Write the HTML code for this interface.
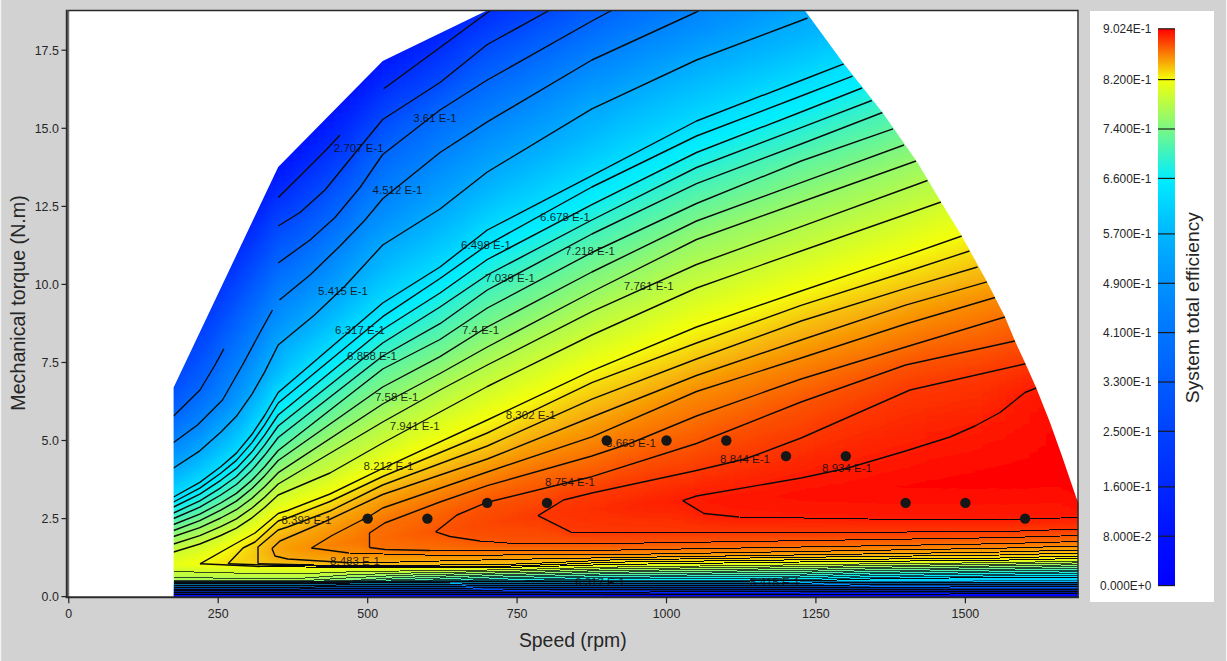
<!DOCTYPE html><html><head><meta charset="utf-8"><title>Efficiency map</title><style>html,body{margin:0;padding:0;background:#d2d2d2}svg{display:block}text{font-family:"Liberation Sans",sans-serif}</style></head><body>
<svg width="1227" height="661" viewBox="0 0 1227 661">
<defs><linearGradient id="g0" gradientUnits="userSpaceOnUse" x1="0" y1="4" x2="0" y2="600"><stop offset="0.0000" stop-color="#0014ff"/><stop offset="0.1896" stop-color="#0014ff"/><stop offset="0.4027" stop-color="#0032ff"/><stop offset="0.6460" stop-color="#004cff"/><stop offset="0.6544" stop-color="#0053ff"/><stop offset="0.6862" stop-color="#0062ff"/><stop offset="0.6879" stop-color="#0066ff"/><stop offset="0.6946" stop-color="#0066ff"/><stop offset="0.6963" stop-color="#006bff"/><stop offset="0.7013" stop-color="#006bff"/><stop offset="0.7030" stop-color="#0070ff"/><stop offset="0.7097" stop-color="#0070ff"/><stop offset="0.7114" stop-color="#0075ff"/><stop offset="0.7164" stop-color="#0075ff"/><stop offset="0.7181" stop-color="#007aff"/><stop offset="0.7232" stop-color="#007aff"/><stop offset="0.7248" stop-color="#007fff"/><stop offset="0.7315" stop-color="#007fff"/><stop offset="0.7332" stop-color="#0084ff"/><stop offset="0.7450" stop-color="#008aff"/><stop offset="0.7466" stop-color="#008fff"/><stop offset="0.7534" stop-color="#008fff"/><stop offset="0.7550" stop-color="#0095ff"/><stop offset="0.7601" stop-color="#0095ff"/><stop offset="0.7617" stop-color="#009cff"/><stop offset="0.7668" stop-color="#009cff"/><stop offset="0.7685" stop-color="#00a2ff"/><stop offset="0.7735" stop-color="#00a2ff"/><stop offset="0.7752" stop-color="#00a9ff"/><stop offset="0.7819" stop-color="#00a9ff"/><stop offset="0.7836" stop-color="#00afff"/><stop offset="0.7953" stop-color="#00b5ff"/><stop offset="0.7970" stop-color="#00bcff"/><stop offset="0.8020" stop-color="#00bcff"/><stop offset="0.8037" stop-color="#00c4ff"/><stop offset="0.8087" stop-color="#00c4ff"/><stop offset="0.8104" stop-color="#00ccff"/><stop offset="0.8154" stop-color="#00ccff"/><stop offset="0.8171" stop-color="#00d4ff"/><stop offset="0.8221" stop-color="#00d4ff"/><stop offset="0.8238" stop-color="#00dcff"/><stop offset="0.8305" stop-color="#00dcff"/><stop offset="0.8322" stop-color="#00e6ff"/><stop offset="0.8389" stop-color="#00e8ff"/><stop offset="0.8406" stop-color="#03eefc"/><stop offset="0.8423" stop-color="#03eefc"/><stop offset="0.8440" stop-color="#0ceff3"/><stop offset="0.8456" stop-color="#0ceff3"/><stop offset="0.8473" stop-color="#1af0e5"/><stop offset="0.8507" stop-color="#1af0e5"/><stop offset="0.8523" stop-color="#27f1d7"/><stop offset="0.8557" stop-color="#27f1d7"/><stop offset="0.8574" stop-color="#31f2ce"/><stop offset="0.8591" stop-color="#31f2ce"/><stop offset="0.8607" stop-color="#43f3bc"/><stop offset="0.8691" stop-color="#47f3b7"/><stop offset="0.8708" stop-color="#5ef5a0"/><stop offset="0.8758" stop-color="#5ef5a0"/><stop offset="0.8775" stop-color="#71f68d"/><stop offset="0.8809" stop-color="#71f68d"/><stop offset="0.8826" stop-color="#7af784"/><stop offset="0.8859" stop-color="#7af784"/><stop offset="0.8876" stop-color="#83f87b"/><stop offset="0.8909" stop-color="#83f87b"/><stop offset="0.8926" stop-color="#95f969"/><stop offset="0.8993" stop-color="#95f969"/><stop offset="0.9010" stop-color="#a8fa56"/><stop offset="0.9044" stop-color="#a8fa56"/><stop offset="0.9060" stop-color="#b1fb4d"/><stop offset="0.9077" stop-color="#b1fb4d"/><stop offset="0.9094" stop-color="#bafb44"/><stop offset="0.9144" stop-color="#bafb44"/><stop offset="0.9161" stop-color="#cdfc31"/><stop offset="0.9228" stop-color="#cdfc31"/><stop offset="0.9245" stop-color="#d6fd28"/><stop offset="0.9295" stop-color="#d6fd28"/><stop offset="0.9312" stop-color="#dffe1f"/><stop offset="0.9362" stop-color="#dffe1f"/><stop offset="0.9379" stop-color="#e8fe16"/><stop offset="0.9413" stop-color="#e8fe16"/><stop offset="0.9664" stop-color="#a6fa58"/><stop offset="0.9681" stop-color="#8df871"/><stop offset="0.9698" stop-color="#42f3bd"/><stop offset="0.9715" stop-color="#00eaff"/><stop offset="0.9748" stop-color="#00b0ff"/><stop offset="0.9765" stop-color="#0099ff"/><stop offset="0.9849" stop-color="#0045ff"/><stop offset="0.9899" stop-color="#001aff"/><stop offset="0.9933" stop-color="#0003ff"/><stop offset="1.0000" stop-color="#0000ff"/></linearGradient><linearGradient id="g1" gradientUnits="userSpaceOnUse" x1="0" y1="4" x2="0" y2="600"><stop offset="0.0000" stop-color="#0014ff"/><stop offset="0.1963" stop-color="#0014ff"/><stop offset="0.4161" stop-color="#0033ff"/><stop offset="0.6275" stop-color="#0049ff"/><stop offset="0.6879" stop-color="#0068ff"/><stop offset="0.7483" stop-color="#0091ff"/><stop offset="0.7903" stop-color="#00b7ff"/><stop offset="0.8356" stop-color="#00edff"/><stop offset="0.8909" stop-color="#95f969"/><stop offset="0.9178" stop-color="#cdfc31"/><stop offset="0.9413" stop-color="#eafe14"/><stop offset="0.9664" stop-color="#a6fa58"/><stop offset="0.9681" stop-color="#8df871"/><stop offset="0.9698" stop-color="#42f3bd"/><stop offset="0.9715" stop-color="#00eaff"/><stop offset="0.9748" stop-color="#00b0ff"/><stop offset="0.9765" stop-color="#0099ff"/><stop offset="0.9849" stop-color="#0045ff"/><stop offset="0.9899" stop-color="#001aff"/><stop offset="0.9933" stop-color="#0003ff"/><stop offset="1.0000" stop-color="#0000ff"/></linearGradient><linearGradient id="g2" gradientUnits="userSpaceOnUse" x1="0" y1="4" x2="0" y2="600"><stop offset="0.0000" stop-color="#0013ff"/><stop offset="0.2030" stop-color="#0014ff"/><stop offset="0.4228" stop-color="#0033ff"/><stop offset="0.6007" stop-color="#0046ff"/><stop offset="0.6896" stop-color="#0070ff"/><stop offset="0.7399" stop-color="#0092ff"/><stop offset="0.7819" stop-color="#00b7ff"/><stop offset="0.8289" stop-color="#00edff"/><stop offset="0.8876" stop-color="#98f966"/><stop offset="0.9128" stop-color="#ccfc32"/><stop offset="0.9396" stop-color="#eeff10"/><stop offset="0.9413" stop-color="#ecfe12"/><stop offset="0.9664" stop-color="#a6fa58"/><stop offset="0.9681" stop-color="#8df871"/><stop offset="0.9698" stop-color="#42f3bd"/><stop offset="0.9715" stop-color="#00eaff"/><stop offset="0.9748" stop-color="#00b0ff"/><stop offset="0.9765" stop-color="#0099ff"/><stop offset="0.9849" stop-color="#0045ff"/><stop offset="0.9899" stop-color="#001aff"/><stop offset="0.9933" stop-color="#0003ff"/><stop offset="1.0000" stop-color="#0000ff"/></linearGradient><linearGradient id="g3" gradientUnits="userSpaceOnUse" x1="0" y1="4" x2="0" y2="600"><stop offset="0.0000" stop-color="#0013ff"/><stop offset="0.2097" stop-color="#0014ff"/><stop offset="0.4295" stop-color="#0033ff"/><stop offset="0.5705" stop-color="#0041ff"/><stop offset="0.6409" stop-color="#005eff"/><stop offset="0.7097" stop-color="#0084ff"/><stop offset="0.7735" stop-color="#00b7ff"/><stop offset="0.8221" stop-color="#00edff"/><stop offset="0.8826" stop-color="#97f967"/><stop offset="0.9094" stop-color="#cdfc31"/><stop offset="0.9396" stop-color="#f3ff0b"/><stop offset="0.9664" stop-color="#a7fa57"/><stop offset="0.9681" stop-color="#8df871"/><stop offset="0.9698" stop-color="#42f3bd"/><stop offset="0.9715" stop-color="#00eaff"/><stop offset="0.9748" stop-color="#00b0ff"/><stop offset="0.9765" stop-color="#0099ff"/><stop offset="0.9849" stop-color="#0045ff"/><stop offset="0.9899" stop-color="#001aff"/><stop offset="0.9933" stop-color="#0003ff"/><stop offset="1.0000" stop-color="#0000ff"/></linearGradient><linearGradient id="g4" gradientUnits="userSpaceOnUse" x1="0" y1="4" x2="0" y2="600"><stop offset="0.0000" stop-color="#0013ff"/><stop offset="0.2164" stop-color="#0014ff"/><stop offset="0.4279" stop-color="#0032ff"/><stop offset="0.5436" stop-color="#003eff"/><stop offset="0.6493" stop-color="#0069ff"/><stop offset="0.7131" stop-color="#008dff"/><stop offset="0.7634" stop-color="#00b6ff"/><stop offset="0.8154" stop-color="#00eeff"/><stop offset="0.8775" stop-color="#97f967"/><stop offset="0.9044" stop-color="#ccfc32"/><stop offset="0.9346" stop-color="#f3ff0b"/><stop offset="0.9379" stop-color="#f4fb0a"/><stop offset="0.9413" stop-color="#f0ff0e"/><stop offset="0.9664" stop-color="#a7fa57"/><stop offset="0.9681" stop-color="#8df871"/><stop offset="0.9698" stop-color="#42f3bd"/><stop offset="0.9715" stop-color="#00eaff"/><stop offset="0.9748" stop-color="#00b0ff"/><stop offset="0.9765" stop-color="#0099ff"/><stop offset="0.9849" stop-color="#0045ff"/><stop offset="0.9899" stop-color="#001aff"/><stop offset="0.9933" stop-color="#0003ff"/><stop offset="1.0000" stop-color="#0000ff"/></linearGradient><linearGradient id="g5" gradientUnits="userSpaceOnUse" x1="0" y1="4" x2="0" y2="600"><stop offset="0.0000" stop-color="#0013ff"/><stop offset="0.2215" stop-color="#0014ff"/><stop offset="0.5151" stop-color="#003aff"/><stop offset="0.6510" stop-color="#0072ff"/><stop offset="0.6862" stop-color="#0085ff"/><stop offset="0.7534" stop-color="#00b7ff"/><stop offset="0.8054" stop-color="#00edff"/><stop offset="0.8708" stop-color="#96f968"/><stop offset="0.8993" stop-color="#cdfc31"/><stop offset="0.9279" stop-color="#f3ff0b"/><stop offset="0.9396" stop-color="#f4f70a"/><stop offset="0.9413" stop-color="#f2ff0c"/><stop offset="0.9664" stop-color="#a7fa57"/><stop offset="0.9681" stop-color="#8df871"/><stop offset="0.9698" stop-color="#42f3bd"/><stop offset="0.9715" stop-color="#00eaff"/><stop offset="0.9748" stop-color="#00b0ff"/><stop offset="0.9765" stop-color="#0099ff"/><stop offset="0.9849" stop-color="#0045ff"/><stop offset="0.9899" stop-color="#001aff"/><stop offset="0.9933" stop-color="#0003ff"/><stop offset="1.0000" stop-color="#0000ff"/></linearGradient><linearGradient id="g6" gradientUnits="userSpaceOnUse" x1="0" y1="4" x2="0" y2="600"><stop offset="0.0000" stop-color="#0013ff"/><stop offset="0.2282" stop-color="#0014ff"/><stop offset="0.4849" stop-color="#0036ff"/><stop offset="0.6711" stop-color="#0084ff"/><stop offset="0.7416" stop-color="#00b7ff"/><stop offset="0.7970" stop-color="#00eeff"/><stop offset="0.8641" stop-color="#95f969"/><stop offset="0.8943" stop-color="#cefc30"/><stop offset="0.9211" stop-color="#f4fe0a"/><stop offset="0.9379" stop-color="#f5eb09"/><stop offset="0.9396" stop-color="#f5ee09"/><stop offset="0.9413" stop-color="#f4ff0a"/><stop offset="0.9664" stop-color="#a7fa57"/><stop offset="0.9681" stop-color="#8df871"/><stop offset="0.9698" stop-color="#42f3bd"/><stop offset="0.9715" stop-color="#00eaff"/><stop offset="0.9748" stop-color="#00b0ff"/><stop offset="0.9765" stop-color="#0099ff"/><stop offset="0.9849" stop-color="#0045ff"/><stop offset="0.9899" stop-color="#001aff"/><stop offset="0.9933" stop-color="#0003ff"/><stop offset="1.0000" stop-color="#0000ff"/></linearGradient><linearGradient id="g7" gradientUnits="userSpaceOnUse" x1="0" y1="4" x2="0" y2="600"><stop offset="0.0000" stop-color="#0013ff"/><stop offset="0.2349" stop-color="#0014ff"/><stop offset="0.4581" stop-color="#0033ff"/><stop offset="0.5721" stop-color="#0066ff"/><stop offset="0.6711" stop-color="#008cff"/><stop offset="0.7299" stop-color="#00b7ff"/><stop offset="0.7869" stop-color="#00eeff"/><stop offset="0.8574" stop-color="#95f969"/><stop offset="0.8926" stop-color="#d5fd29"/><stop offset="0.9128" stop-color="#f3ff0b"/><stop offset="0.9379" stop-color="#f5e209"/><stop offset="0.9396" stop-color="#f5e609"/><stop offset="0.9413" stop-color="#f4fc0a"/><stop offset="0.9430" stop-color="#f0ff0e"/><stop offset="0.9664" stop-color="#a7fa57"/><stop offset="0.9681" stop-color="#8df871"/><stop offset="0.9698" stop-color="#42f3bd"/><stop offset="0.9715" stop-color="#00eaff"/><stop offset="0.9748" stop-color="#00b0ff"/><stop offset="0.9765" stop-color="#0099ff"/><stop offset="0.9849" stop-color="#0045ff"/><stop offset="0.9899" stop-color="#001aff"/><stop offset="0.9933" stop-color="#0003ff"/><stop offset="1.0000" stop-color="#0000ff"/></linearGradient><linearGradient id="g8" gradientUnits="userSpaceOnUse" x1="0" y1="4" x2="0" y2="600"><stop offset="0.0000" stop-color="#0013ff"/><stop offset="0.2416" stop-color="#0014ff"/><stop offset="0.4295" stop-color="#002eff"/><stop offset="0.5520" stop-color="#0066ff"/><stop offset="0.6628" stop-color="#0092ff"/><stop offset="0.7148" stop-color="#00b6ff"/><stop offset="0.7752" stop-color="#00edff"/><stop offset="0.7768" stop-color="#00eeff"/><stop offset="0.8523" stop-color="#99f965"/><stop offset="0.9044" stop-color="#f2ff0c"/><stop offset="0.9195" stop-color="#f5e909"/><stop offset="0.9362" stop-color="#f6da09"/><stop offset="0.9379" stop-color="#f5dc09"/><stop offset="0.9430" stop-color="#f2ff0c"/><stop offset="0.9664" stop-color="#a7fa57"/><stop offset="0.9681" stop-color="#8df871"/><stop offset="0.9698" stop-color="#42f3bd"/><stop offset="0.9715" stop-color="#00eaff"/><stop offset="0.9748" stop-color="#00b0ff"/><stop offset="0.9765" stop-color="#0099ff"/><stop offset="0.9849" stop-color="#0045ff"/><stop offset="0.9899" stop-color="#001aff"/><stop offset="0.9933" stop-color="#0003ff"/><stop offset="1.0000" stop-color="#0000ff"/></linearGradient><linearGradient id="g9" gradientUnits="userSpaceOnUse" x1="0" y1="4" x2="0" y2="600"><stop offset="0.0000" stop-color="#0014ff"/><stop offset="0.2483" stop-color="#0014ff"/><stop offset="0.4027" stop-color="#002bff"/><stop offset="0.5302" stop-color="#0066ff"/><stop offset="0.6443" stop-color="#0094ff"/><stop offset="0.6997" stop-color="#00b6ff"/><stop offset="0.7634" stop-color="#00eeff"/><stop offset="0.8406" stop-color="#94f96a"/><stop offset="0.8725" stop-color="#cbfc33"/><stop offset="0.8977" stop-color="#f3ff0b"/><stop offset="0.9144" stop-color="#f5e009"/><stop offset="0.9329" stop-color="#f6d308"/><stop offset="0.9396" stop-color="#f5df09"/><stop offset="0.9430" stop-color="#f4ff0a"/><stop offset="0.9664" stop-color="#a7fa57"/><stop offset="0.9681" stop-color="#8df871"/><stop offset="0.9698" stop-color="#42f3bd"/><stop offset="0.9715" stop-color="#00eaff"/><stop offset="0.9748" stop-color="#00b0ff"/><stop offset="0.9765" stop-color="#0099ff"/><stop offset="0.9849" stop-color="#0045ff"/><stop offset="0.9899" stop-color="#001aff"/><stop offset="0.9933" stop-color="#0003ff"/><stop offset="1.0000" stop-color="#0000ff"/></linearGradient><linearGradient id="g10" gradientUnits="userSpaceOnUse" x1="0" y1="4" x2="0" y2="600"><stop offset="0.0000" stop-color="#0014ff"/><stop offset="0.2534" stop-color="#0014ff"/><stop offset="0.3725" stop-color="#0025ff"/><stop offset="0.5084" stop-color="#0066ff"/><stop offset="0.6158" stop-color="#0092ff"/><stop offset="0.6527" stop-color="#00a5ff"/><stop offset="0.6812" stop-color="#00b7ff"/><stop offset="0.7483" stop-color="#00eeff"/><stop offset="0.8356" stop-color="#9cf962"/><stop offset="0.8641" stop-color="#ccfc32"/><stop offset="0.8909" stop-color="#f4ff0a"/><stop offset="0.9111" stop-color="#f6d909"/><stop offset="0.9295" stop-color="#f6cb08"/><stop offset="0.9396" stop-color="#f5de09"/><stop offset="0.9413" stop-color="#f5e809"/><stop offset="0.9430" stop-color="#f4fa0a"/><stop offset="0.9446" stop-color="#f0ff0e"/><stop offset="0.9664" stop-color="#a7fa57"/><stop offset="0.9681" stop-color="#8df871"/><stop offset="0.9698" stop-color="#42f3bd"/><stop offset="0.9715" stop-color="#00eaff"/><stop offset="0.9748" stop-color="#00b0ff"/><stop offset="0.9765" stop-color="#0099ff"/><stop offset="0.9849" stop-color="#0045ff"/><stop offset="0.9899" stop-color="#001aff"/><stop offset="0.9933" stop-color="#0003ff"/><stop offset="1.0000" stop-color="#0000ff"/></linearGradient><linearGradient id="g11" gradientUnits="userSpaceOnUse" x1="0" y1="4" x2="0" y2="600"><stop offset="0.0000" stop-color="#0014ff"/><stop offset="0.2601" stop-color="#0014ff"/><stop offset="0.3440" stop-color="#0020ff"/><stop offset="0.4782" stop-color="#0062ff"/><stop offset="0.5923" stop-color="#0092ff"/><stop offset="0.6376" stop-color="#00a9ff"/><stop offset="0.6611" stop-color="#00b7ff"/><stop offset="0.7299" stop-color="#00edff"/><stop offset="0.8540" stop-color="#cdfc31"/><stop offset="0.8809" stop-color="#f2ff0c"/><stop offset="0.9111" stop-color="#f7c308"/><stop offset="0.9379" stop-color="#f7c308"/><stop offset="0.9396" stop-color="#f6c808"/><stop offset="0.9430" stop-color="#f4f40a"/><stop offset="0.9446" stop-color="#f2ff0c"/><stop offset="0.9664" stop-color="#a7fa57"/><stop offset="0.9681" stop-color="#8df871"/><stop offset="0.9698" stop-color="#42f3bd"/><stop offset="0.9715" stop-color="#00eaff"/><stop offset="0.9748" stop-color="#00b0ff"/><stop offset="0.9765" stop-color="#0099ff"/><stop offset="0.9849" stop-color="#0045ff"/><stop offset="0.9899" stop-color="#001aff"/><stop offset="0.9933" stop-color="#0003ff"/><stop offset="1.0000" stop-color="#0000ff"/></linearGradient><linearGradient id="g12" gradientUnits="userSpaceOnUse" x1="0" y1="4" x2="0" y2="600"><stop offset="0.0000" stop-color="#0014ff"/><stop offset="0.2668" stop-color="#0014ff"/><stop offset="0.3171" stop-color="#001cff"/><stop offset="0.3792" stop-color="#003cff"/><stop offset="0.6275" stop-color="#00b0ff"/><stop offset="0.7114" stop-color="#00edff"/><stop offset="0.7735" stop-color="#5ef5a0"/><stop offset="0.7886" stop-color="#79f785"/><stop offset="0.8423" stop-color="#ccfc32"/><stop offset="0.8708" stop-color="#f4ff0a"/><stop offset="0.8993" stop-color="#f7c408"/><stop offset="0.9195" stop-color="#f7b407"/><stop offset="0.9396" stop-color="#f7c408"/><stop offset="0.9430" stop-color="#f5f009"/><stop offset="0.9446" stop-color="#f3ff0b"/><stop offset="0.9664" stop-color="#a7fa57"/><stop offset="0.9681" stop-color="#8df871"/><stop offset="0.9698" stop-color="#42f3bd"/><stop offset="0.9715" stop-color="#00eaff"/><stop offset="0.9748" stop-color="#00b0ff"/><stop offset="0.9765" stop-color="#0099ff"/><stop offset="0.9849" stop-color="#0045ff"/><stop offset="0.9899" stop-color="#001aff"/><stop offset="0.9933" stop-color="#0003ff"/><stop offset="1.0000" stop-color="#0000ff"/></linearGradient><linearGradient id="g13" gradientUnits="userSpaceOnUse" x1="0" y1="4" x2="0" y2="600"><stop offset="0.0000" stop-color="#0014ff"/><stop offset="0.2869" stop-color="#0017ff"/><stop offset="0.3758" stop-color="#0045ff"/><stop offset="0.6174" stop-color="#00b5ff"/><stop offset="0.6628" stop-color="#00dcff"/><stop offset="0.6913" stop-color="#00eeff"/><stop offset="0.7567" stop-color="#5df5a1"/><stop offset="0.7735" stop-color="#79f785"/><stop offset="0.8305" stop-color="#cdfc31"/><stop offset="0.8591" stop-color="#f3ff0b"/><stop offset="0.8893" stop-color="#f7c208"/><stop offset="0.9094" stop-color="#f8a907"/><stop offset="0.9144" stop-color="#f8a607"/><stop offset="0.9279" stop-color="#f8ab07"/><stop offset="0.9396" stop-color="#f7c308"/><stop offset="0.9446" stop-color="#f4ff0a"/><stop offset="0.9664" stop-color="#a7fa57"/><stop offset="0.9681" stop-color="#8df871"/><stop offset="0.9698" stop-color="#42f3bd"/><stop offset="0.9715" stop-color="#00eaff"/><stop offset="0.9748" stop-color="#00b0ff"/><stop offset="0.9765" stop-color="#0099ff"/><stop offset="0.9849" stop-color="#0045ff"/><stop offset="0.9899" stop-color="#001aff"/><stop offset="0.9933" stop-color="#0003ff"/><stop offset="1.0000" stop-color="#0000ff"/></linearGradient><linearGradient id="g14" gradientUnits="userSpaceOnUse" x1="0" y1="4" x2="0" y2="600"><stop offset="0.0000" stop-color="#0015ff"/><stop offset="0.2668" stop-color="#0014ff"/><stop offset="0.3809" stop-color="#004fff"/><stop offset="0.4933" stop-color="#0084ff"/><stop offset="0.5336" stop-color="#0094ff"/><stop offset="0.5671" stop-color="#00a9ff"/><stop offset="0.6007" stop-color="#00b7ff"/><stop offset="0.6258" stop-color="#00c8ff"/><stop offset="0.6460" stop-color="#00dcff"/><stop offset="0.6745" stop-color="#00edff"/><stop offset="0.6795" stop-color="#04eefb"/><stop offset="0.8205" stop-color="#ccfc32"/><stop offset="0.8507" stop-color="#f2ff0c"/><stop offset="0.8809" stop-color="#f7c308"/><stop offset="0.8993" stop-color="#f8a807"/><stop offset="0.9128" stop-color="#f8a106"/><stop offset="0.9295" stop-color="#f8a907"/><stop offset="0.9396" stop-color="#f7c208"/><stop offset="0.9413" stop-color="#f6d208"/><stop offset="0.9446" stop-color="#f4fe0a"/><stop offset="0.9463" stop-color="#eeff10"/><stop offset="0.9664" stop-color="#a7fa57"/><stop offset="0.9681" stop-color="#8df871"/><stop offset="0.9698" stop-color="#42f3bd"/><stop offset="0.9715" stop-color="#00eaff"/><stop offset="0.9748" stop-color="#00b0ff"/><stop offset="0.9765" stop-color="#0099ff"/><stop offset="0.9849" stop-color="#0045ff"/><stop offset="0.9899" stop-color="#001aff"/><stop offset="0.9933" stop-color="#0003ff"/><stop offset="1.0000" stop-color="#0000ff"/></linearGradient><linearGradient id="g15" gradientUnits="userSpaceOnUse" x1="0" y1="4" x2="0" y2="600"><stop offset="0.0000" stop-color="#0015ff"/><stop offset="0.2534" stop-color="#0014ff"/><stop offset="0.5268" stop-color="#0098ff"/><stop offset="0.6023" stop-color="#00c3ff"/><stop offset="0.6359" stop-color="#00ddff"/><stop offset="0.6644" stop-color="#00eeff"/><stop offset="0.7517" stop-color="#79f785"/><stop offset="0.8456" stop-color="#f2ff0c"/><stop offset="0.8758" stop-color="#f7c408"/><stop offset="0.8926" stop-color="#f8a907"/><stop offset="0.9128" stop-color="#f89b06"/><stop offset="0.9312" stop-color="#f8a707"/><stop offset="0.9329" stop-color="#f8ac07"/><stop offset="0.9396" stop-color="#f7c108"/><stop offset="0.9413" stop-color="#f6cf08"/><stop offset="0.9446" stop-color="#f4fd0a"/><stop offset="0.9463" stop-color="#efff0f"/><stop offset="0.9664" stop-color="#a7fa57"/><stop offset="0.9681" stop-color="#8df871"/><stop offset="0.9698" stop-color="#42f3bd"/><stop offset="0.9715" stop-color="#00eaff"/><stop offset="0.9748" stop-color="#00b0ff"/><stop offset="0.9765" stop-color="#0099ff"/><stop offset="0.9849" stop-color="#0045ff"/><stop offset="0.9899" stop-color="#001aff"/><stop offset="0.9933" stop-color="#0003ff"/><stop offset="1.0000" stop-color="#0000ff"/></linearGradient><linearGradient id="g16" gradientUnits="userSpaceOnUse" x1="0" y1="4" x2="0" y2="600"><stop offset="0.0000" stop-color="#0015ff"/><stop offset="0.2399" stop-color="#0014ff"/><stop offset="0.5034" stop-color="#0092ff"/><stop offset="0.5688" stop-color="#00b6ff"/><stop offset="0.6527" stop-color="#00edff"/><stop offset="0.7433" stop-color="#7bf783"/><stop offset="0.8406" stop-color="#f3ff0b"/><stop offset="0.8557" stop-color="#f5df09"/><stop offset="0.8876" stop-color="#f8a807"/><stop offset="0.9128" stop-color="#f99506"/><stop offset="0.9329" stop-color="#f8aa07"/><stop offset="0.9396" stop-color="#f7bf08"/><stop offset="0.9413" stop-color="#f6ca08"/><stop offset="0.9446" stop-color="#f4fc0a"/><stop offset="0.9463" stop-color="#efff0f"/><stop offset="0.9664" stop-color="#a7fa57"/><stop offset="0.9681" stop-color="#8df871"/><stop offset="0.9698" stop-color="#42f3bd"/><stop offset="0.9715" stop-color="#00eaff"/><stop offset="0.9748" stop-color="#00b0ff"/><stop offset="0.9765" stop-color="#0099ff"/><stop offset="0.9849" stop-color="#0045ff"/><stop offset="0.9899" stop-color="#001aff"/><stop offset="0.9933" stop-color="#0003ff"/><stop offset="1.0000" stop-color="#0000ff"/></linearGradient><linearGradient id="g17" gradientUnits="userSpaceOnUse" x1="0" y1="4" x2="0" y2="600"><stop offset="0.0000" stop-color="#0015ff"/><stop offset="0.2265" stop-color="#0014ff"/><stop offset="0.4916" stop-color="#0092ff"/><stop offset="0.5587" stop-color="#00b6ff"/><stop offset="0.6124" stop-color="#00ddff"/><stop offset="0.6426" stop-color="#00eeff"/><stop offset="0.7332" stop-color="#7af784"/><stop offset="0.8356" stop-color="#f3ff0b"/><stop offset="0.8507" stop-color="#f5df09"/><stop offset="0.8826" stop-color="#f8a707"/><stop offset="0.9128" stop-color="#f99006"/><stop offset="0.9329" stop-color="#f8a707"/><stop offset="0.9346" stop-color="#f8ad07"/><stop offset="0.9413" stop-color="#f6c708"/><stop offset="0.9446" stop-color="#f4fb0a"/><stop offset="0.9463" stop-color="#f0ff0e"/><stop offset="0.9664" stop-color="#a3fa5b"/><stop offset="0.9681" stop-color="#88f876"/><stop offset="0.9698" stop-color="#3df3c1"/><stop offset="0.9715" stop-color="#00e9ff"/><stop offset="0.9748" stop-color="#00aeff"/><stop offset="0.9765" stop-color="#0098ff"/><stop offset="0.9849" stop-color="#0045ff"/><stop offset="0.9899" stop-color="#001aff"/><stop offset="0.9933" stop-color="#0003ff"/><stop offset="1.0000" stop-color="#0000ff"/></linearGradient><linearGradient id="g18" gradientUnits="userSpaceOnUse" x1="0" y1="4" x2="0" y2="600"><stop offset="0.0000" stop-color="#0015ff"/><stop offset="0.2114" stop-color="#0013ff"/><stop offset="0.4799" stop-color="#0092ff"/><stop offset="0.5470" stop-color="#00b6ff"/><stop offset="0.6007" stop-color="#00ddff"/><stop offset="0.6309" stop-color="#00eeff"/><stop offset="0.7248" stop-color="#7bf783"/><stop offset="0.7701" stop-color="#b1fb4d"/><stop offset="0.7987" stop-color="#cdfc31"/><stop offset="0.8305" stop-color="#f3ff0b"/><stop offset="0.8456" stop-color="#f5df09"/><stop offset="0.8758" stop-color="#f8a907"/><stop offset="0.9128" stop-color="#f98b05"/><stop offset="0.9346" stop-color="#f8aa07"/><stop offset="0.9413" stop-color="#f7c308"/><stop offset="0.9446" stop-color="#f4f90a"/><stop offset="0.9463" stop-color="#f0ff0e"/><stop offset="0.9664" stop-color="#9df961"/><stop offset="0.9681" stop-color="#81f77d"/><stop offset="0.9698" stop-color="#37f2c7"/><stop offset="0.9715" stop-color="#00e6ff"/><stop offset="0.9748" stop-color="#00adff"/><stop offset="0.9765" stop-color="#0097ff"/><stop offset="0.9849" stop-color="#0045ff"/><stop offset="0.9899" stop-color="#001aff"/><stop offset="0.9933" stop-color="#0003ff"/><stop offset="1.0000" stop-color="#0000ff"/></linearGradient><linearGradient id="g19" gradientUnits="userSpaceOnUse" x1="0" y1="4" x2="0" y2="600"><stop offset="0.0000" stop-color="#0016ff"/><stop offset="0.1980" stop-color="#0013ff"/><stop offset="0.4681" stop-color="#0092ff"/><stop offset="0.5352" stop-color="#00b6ff"/><stop offset="0.5889" stop-color="#00dcff"/><stop offset="0.6208" stop-color="#00eeff"/><stop offset="0.6695" stop-color="#42f3bc"/><stop offset="0.7148" stop-color="#7bf783"/><stop offset="0.7617" stop-color="#b1fb4d"/><stop offset="0.7919" stop-color="#ccfc32"/><stop offset="0.8255" stop-color="#f4ff0a"/><stop offset="0.8406" stop-color="#f5de09"/><stop offset="0.8708" stop-color="#f8a807"/><stop offset="0.9094" stop-color="#f98705"/><stop offset="0.9161" stop-color="#f98d06"/><stop offset="0.9346" stop-color="#f8a707"/><stop offset="0.9413" stop-color="#f7c308"/><stop offset="0.9446" stop-color="#f4f60a"/><stop offset="0.9463" stop-color="#f0ff0e"/><stop offset="0.9664" stop-color="#96f968"/><stop offset="0.9681" stop-color="#7bf783"/><stop offset="0.9698" stop-color="#31f2cd"/><stop offset="0.9715" stop-color="#00e4ff"/><stop offset="0.9748" stop-color="#00acff"/><stop offset="0.9765" stop-color="#0096ff"/><stop offset="0.9849" stop-color="#0044ff"/><stop offset="0.9899" stop-color="#0019ff"/><stop offset="0.9933" stop-color="#0003ff"/><stop offset="1.0000" stop-color="#0000ff"/></linearGradient><linearGradient id="g20" gradientUnits="userSpaceOnUse" x1="0" y1="4" x2="0" y2="600"><stop offset="0.0000" stop-color="#0016ff"/><stop offset="0.1846" stop-color="#0013ff"/><stop offset="0.4547" stop-color="#0092ff"/><stop offset="0.5235" stop-color="#00b6ff"/><stop offset="0.5772" stop-color="#00dcff"/><stop offset="0.6091" stop-color="#00eeff"/><stop offset="0.6594" stop-color="#43f3bc"/><stop offset="0.7047" stop-color="#7af784"/><stop offset="0.7534" stop-color="#b0fb4e"/><stop offset="0.7869" stop-color="#cdfc31"/><stop offset="0.8205" stop-color="#f4ff0a"/><stop offset="0.8356" stop-color="#f5de09"/><stop offset="0.8641" stop-color="#f8a807"/><stop offset="0.8926" stop-color="#f98d06"/><stop offset="0.9077" stop-color="#f98305"/><stop offset="0.9178" stop-color="#f98d06"/><stop offset="0.9362" stop-color="#f8ab07"/><stop offset="0.9413" stop-color="#f7c208"/><stop offset="0.9446" stop-color="#f4f40a"/><stop offset="0.9463" stop-color="#f0ff0e"/><stop offset="0.9664" stop-color="#90f86e"/><stop offset="0.9681" stop-color="#74f78a"/><stop offset="0.9698" stop-color="#2bf1d4"/><stop offset="0.9715" stop-color="#00e2ff"/><stop offset="0.9732" stop-color="#00c4ff"/><stop offset="0.9765" stop-color="#0095ff"/><stop offset="0.9849" stop-color="#0044ff"/><stop offset="0.9899" stop-color="#0019ff"/><stop offset="0.9933" stop-color="#0003ff"/><stop offset="1.0000" stop-color="#0000ff"/></linearGradient><linearGradient id="g21" gradientUnits="userSpaceOnUse" x1="0" y1="4" x2="0" y2="600"><stop offset="0.0000" stop-color="#0016ff"/><stop offset="0.1711" stop-color="#0014ff"/><stop offset="0.4413" stop-color="#0092ff"/><stop offset="0.5117" stop-color="#00b6ff"/><stop offset="0.5654" stop-color="#00dcff"/><stop offset="0.5973" stop-color="#00edff"/><stop offset="0.6695" stop-color="#5df5a2"/><stop offset="0.6946" stop-color="#79f785"/><stop offset="0.7450" stop-color="#b0fb4e"/><stop offset="0.7802" stop-color="#cefc30"/><stop offset="0.8138" stop-color="#f4ff0a"/><stop offset="0.8289" stop-color="#f5df09"/><stop offset="0.8591" stop-color="#f8a707"/><stop offset="0.8859" stop-color="#f98c06"/><stop offset="0.9060" stop-color="#fa7f05"/><stop offset="0.9195" stop-color="#f98d06"/><stop offset="0.9362" stop-color="#f8a707"/><stop offset="0.9413" stop-color="#f7c008"/><stop offset="0.9430" stop-color="#f6d608"/><stop offset="0.9446" stop-color="#f5f109"/><stop offset="0.9463" stop-color="#f0ff0e"/><stop offset="0.9664" stop-color="#8af874"/><stop offset="0.9681" stop-color="#6ef690"/><stop offset="0.9698" stop-color="#25f1da"/><stop offset="0.9715" stop-color="#00dfff"/><stop offset="0.9732" stop-color="#00c2ff"/><stop offset="0.9765" stop-color="#0093ff"/><stop offset="0.9849" stop-color="#0043ff"/><stop offset="0.9899" stop-color="#0019ff"/><stop offset="0.9933" stop-color="#0003ff"/><stop offset="1.0000" stop-color="#0000ff"/></linearGradient><linearGradient id="g22" gradientUnits="userSpaceOnUse" x1="0" y1="4" x2="0" y2="600"><stop offset="0.0000" stop-color="#0016ff"/><stop offset="0.1577" stop-color="#0014ff"/><stop offset="0.3540" stop-color="#006eff"/><stop offset="0.4983" stop-color="#00b6ff"/><stop offset="0.5537" stop-color="#00dcff"/><stop offset="0.5872" stop-color="#00eeff"/><stop offset="0.6611" stop-color="#5ff59f"/><stop offset="0.7366" stop-color="#b0fb4e"/><stop offset="0.7718" stop-color="#cdfc31"/><stop offset="0.8070" stop-color="#f4ff0a"/><stop offset="0.8221" stop-color="#f5df09"/><stop offset="0.8523" stop-color="#f8a707"/><stop offset="0.8792" stop-color="#f98c05"/><stop offset="0.9044" stop-color="#fa7b05"/><stop offset="0.9211" stop-color="#f98d06"/><stop offset="0.9362" stop-color="#f8a607"/><stop offset="0.9413" stop-color="#f7bf07"/><stop offset="0.9430" stop-color="#f6d308"/><stop offset="0.9446" stop-color="#f5ee09"/><stop offset="0.9463" stop-color="#f1ff0d"/><stop offset="0.9664" stop-color="#84f87a"/><stop offset="0.9681" stop-color="#67f697"/><stop offset="0.9698" stop-color="#1ff0e0"/><stop offset="0.9715" stop-color="#00ddff"/><stop offset="0.9732" stop-color="#00bfff"/><stop offset="0.9765" stop-color="#0092ff"/><stop offset="0.9849" stop-color="#0043ff"/><stop offset="0.9899" stop-color="#0019ff"/><stop offset="0.9933" stop-color="#0003ff"/><stop offset="1.0000" stop-color="#0000ff"/></linearGradient><linearGradient id="g23" gradientUnits="userSpaceOnUse" x1="0" y1="4" x2="0" y2="600"><stop offset="0.0000" stop-color="#0016ff"/><stop offset="0.1443" stop-color="#0014ff"/><stop offset="0.4866" stop-color="#00b6ff"/><stop offset="0.5419" stop-color="#00dcff"/><stop offset="0.5755" stop-color="#00edff"/><stop offset="0.6510" stop-color="#5ff59f"/><stop offset="0.7299" stop-color="#b1fb4d"/><stop offset="0.7634" stop-color="#ccfc32"/><stop offset="0.8003" stop-color="#f3ff0b"/><stop offset="0.8456" stop-color="#f8a807"/><stop offset="0.8725" stop-color="#f98c05"/><stop offset="0.9027" stop-color="#fa7705"/><stop offset="0.9211" stop-color="#f98b05"/><stop offset="0.9362" stop-color="#f8a606"/><stop offset="0.9379" stop-color="#f8ab07"/><stop offset="0.9413" stop-color="#f7bf07"/><stop offset="0.9430" stop-color="#f6d208"/><stop offset="0.9446" stop-color="#f5ed09"/><stop offset="0.9463" stop-color="#f1ff0d"/><stop offset="0.9664" stop-color="#7df781"/><stop offset="0.9681" stop-color="#61f59d"/><stop offset="0.9698" stop-color="#19f0e6"/><stop offset="0.9715" stop-color="#00dbff"/><stop offset="0.9732" stop-color="#00bdff"/><stop offset="0.9765" stop-color="#0091ff"/><stop offset="0.9849" stop-color="#0042ff"/><stop offset="0.9899" stop-color="#0019ff"/><stop offset="0.9933" stop-color="#0003ff"/><stop offset="1.0000" stop-color="#0000ff"/></linearGradient><linearGradient id="g24" gradientUnits="userSpaceOnUse" x1="0" y1="4" x2="0" y2="600"><stop offset="0.0000" stop-color="#0017ff"/><stop offset="0.1309" stop-color="#0015ff"/><stop offset="0.2483" stop-color="#004fff"/><stop offset="0.4715" stop-color="#00b5ff"/><stop offset="0.5319" stop-color="#00ddff"/><stop offset="0.5654" stop-color="#00eeff"/><stop offset="0.6393" stop-color="#5ef5a0"/><stop offset="0.7215" stop-color="#b1fb4d"/><stop offset="0.7567" stop-color="#cdfc31"/><stop offset="0.7936" stop-color="#f3ff0b"/><stop offset="0.8389" stop-color="#f8a807"/><stop offset="0.8792" stop-color="#fa7e05"/><stop offset="0.9010" stop-color="#fa7305"/><stop offset="0.9211" stop-color="#f98a05"/><stop offset="0.9362" stop-color="#f8a607"/><stop offset="0.9413" stop-color="#f7bf08"/><stop offset="0.9430" stop-color="#f6d208"/><stop offset="0.9446" stop-color="#f5eb09"/><stop offset="0.9463" stop-color="#f1ff0d"/><stop offset="0.9664" stop-color="#77f787"/><stop offset="0.9681" stop-color="#5bf5a4"/><stop offset="0.9698" stop-color="#13efec"/><stop offset="0.9715" stop-color="#00d8ff"/><stop offset="0.9732" stop-color="#00bbff"/><stop offset="0.9765" stop-color="#0090ff"/><stop offset="0.9849" stop-color="#0042ff"/><stop offset="0.9899" stop-color="#0018ff"/><stop offset="0.9933" stop-color="#0003ff"/><stop offset="1.0000" stop-color="#0000ff"/></linearGradient><linearGradient id="g25" gradientUnits="userSpaceOnUse" x1="0" y1="4" x2="0" y2="600"><stop offset="0.0000" stop-color="#0018ff"/><stop offset="0.1174" stop-color="#0015ff"/><stop offset="0.2483" stop-color="#0057ff"/><stop offset="0.4564" stop-color="#00b5ff"/><stop offset="0.5201" stop-color="#00dcff"/><stop offset="0.5537" stop-color="#00eeff"/><stop offset="0.6292" stop-color="#5ff5a0"/><stop offset="0.7131" stop-color="#b0fb4e"/><stop offset="0.7483" stop-color="#ccfc32"/><stop offset="0.7869" stop-color="#f3ff0b"/><stop offset="0.8339" stop-color="#f8a707"/><stop offset="0.8859" stop-color="#fa7104"/><stop offset="0.9111" stop-color="#fa7004"/><stop offset="0.9228" stop-color="#f98d06"/><stop offset="0.9362" stop-color="#f8a607"/><stop offset="0.9413" stop-color="#f7c008"/><stop offset="0.9430" stop-color="#f6d208"/><stop offset="0.9463" stop-color="#f2ff0c"/><stop offset="0.9664" stop-color="#71f68d"/><stop offset="0.9681" stop-color="#54f4aa"/><stop offset="0.9698" stop-color="#0deff2"/><stop offset="0.9715" stop-color="#00d6ff"/><stop offset="0.9732" stop-color="#00b9ff"/><stop offset="0.9765" stop-color="#008fff"/><stop offset="0.9849" stop-color="#0041ff"/><stop offset="0.9899" stop-color="#0018ff"/><stop offset="0.9933" stop-color="#0003ff"/><stop offset="1.0000" stop-color="#0000ff"/></linearGradient><linearGradient id="g26" gradientUnits="userSpaceOnUse" x1="0" y1="4" x2="0" y2="600"><stop offset="0.0000" stop-color="#001aff"/><stop offset="0.1040" stop-color="#0016ff"/><stop offset="0.2483" stop-color="#005fff"/><stop offset="0.3725" stop-color="#0092ff"/><stop offset="0.4128" stop-color="#00a9ff"/><stop offset="0.4480" stop-color="#00b6ff"/><stop offset="0.5084" stop-color="#00dcff"/><stop offset="0.5436" stop-color="#00eeff"/><stop offset="0.6191" stop-color="#5ff59f"/><stop offset="0.7064" stop-color="#b1fb4d"/><stop offset="0.7416" stop-color="#cdfc31"/><stop offset="0.7802" stop-color="#f3ff0b"/><stop offset="0.8272" stop-color="#f8a707"/><stop offset="0.8775" stop-color="#fa7004"/><stop offset="0.8977" stop-color="#fa6c04"/><stop offset="0.9144" stop-color="#fa7204"/><stop offset="0.9228" stop-color="#f98c05"/><stop offset="0.9362" stop-color="#f8a707"/><stop offset="0.9413" stop-color="#f7c008"/><stop offset="0.9430" stop-color="#f6d208"/><stop offset="0.9463" stop-color="#f2ff0c"/><stop offset="0.9664" stop-color="#6bf693"/><stop offset="0.9681" stop-color="#4ef4b1"/><stop offset="0.9698" stop-color="#07eef8"/><stop offset="0.9715" stop-color="#00d4ff"/><stop offset="0.9732" stop-color="#00b7ff"/><stop offset="0.9765" stop-color="#008eff"/><stop offset="0.9849" stop-color="#0041ff"/><stop offset="0.9899" stop-color="#0018ff"/><stop offset="0.9933" stop-color="#0003ff"/><stop offset="1.0000" stop-color="#0000ff"/></linearGradient><linearGradient id="g27" gradientUnits="userSpaceOnUse" x1="0" y1="4" x2="0" y2="600"><stop offset="0.0000" stop-color="#001bff"/><stop offset="0.0940" stop-color="#0017ff"/><stop offset="0.2483" stop-color="#0066ff"/><stop offset="0.3624" stop-color="#0093ff"/><stop offset="0.4010" stop-color="#00a9ff"/><stop offset="0.4346" stop-color="#00b6ff"/><stop offset="0.5336" stop-color="#00eeff"/><stop offset="0.6091" stop-color="#5ef5a0"/><stop offset="0.7735" stop-color="#f3ff0b"/><stop offset="0.8205" stop-color="#f8a907"/><stop offset="0.8406" stop-color="#f98f06"/><stop offset="0.8708" stop-color="#fa6f04"/><stop offset="0.8960" stop-color="#fa6904"/><stop offset="0.9144" stop-color="#fa6f04"/><stop offset="0.9228" stop-color="#f98b05"/><stop offset="0.9362" stop-color="#f8a707"/><stop offset="0.9413" stop-color="#f7c108"/><stop offset="0.9430" stop-color="#f6d308"/><stop offset="0.9463" stop-color="#f2ff0c"/><stop offset="0.9664" stop-color="#64f59a"/><stop offset="0.9681" stop-color="#47f3b7"/><stop offset="0.9698" stop-color="#01eefe"/><stop offset="0.9732" stop-color="#00b5ff"/><stop offset="0.9765" stop-color="#008dff"/><stop offset="0.9849" stop-color="#0040ff"/><stop offset="0.9899" stop-color="#0018ff"/><stop offset="0.9933" stop-color="#0003ff"/><stop offset="1.0000" stop-color="#0000ff"/></linearGradient><linearGradient id="g28" gradientUnits="userSpaceOnUse" x1="0" y1="4" x2="0" y2="600"><stop offset="0.0000" stop-color="#001dff"/><stop offset="0.0872" stop-color="#0019ff"/><stop offset="0.2383" stop-color="#0066ff"/><stop offset="0.3557" stop-color="#0095ff"/><stop offset="0.4245" stop-color="#00b7ff"/><stop offset="0.5235" stop-color="#00edff"/><stop offset="0.6023" stop-color="#5ef5a0"/><stop offset="0.6896" stop-color="#b0fb4e"/><stop offset="0.7265" stop-color="#cdfc31"/><stop offset="0.7685" stop-color="#f4ff0a"/><stop offset="0.8154" stop-color="#f8a907"/><stop offset="0.8389" stop-color="#f98c05"/><stop offset="0.8658" stop-color="#fa6f04"/><stop offset="0.8943" stop-color="#fb6504"/><stop offset="0.9161" stop-color="#fa7204"/><stop offset="0.9228" stop-color="#f98a05"/><stop offset="0.9362" stop-color="#f8a707"/><stop offset="0.9413" stop-color="#f7c108"/><stop offset="0.9446" stop-color="#f5e709"/><stop offset="0.9463" stop-color="#f3ff0b"/><stop offset="0.9664" stop-color="#5ef5a0"/><stop offset="0.9681" stop-color="#41f3be"/><stop offset="0.9698" stop-color="#00ecff"/><stop offset="0.9732" stop-color="#00b4ff"/><stop offset="0.9765" stop-color="#008cff"/><stop offset="0.9849" stop-color="#0040ff"/><stop offset="0.9899" stop-color="#0018ff"/><stop offset="0.9933" stop-color="#0003ff"/><stop offset="1.0000" stop-color="#0000ff"/></linearGradient><linearGradient id="g29" gradientUnits="userSpaceOnUse" x1="0" y1="4" x2="0" y2="600"><stop offset="0.0000" stop-color="#001eff"/><stop offset="0.0805" stop-color="#001aff"/><stop offset="0.2265" stop-color="#0066ff"/><stop offset="0.3389" stop-color="#0092ff"/><stop offset="0.4144" stop-color="#00b6ff"/><stop offset="0.5151" stop-color="#00eeff"/><stop offset="0.5956" stop-color="#5ef5a0"/><stop offset="0.6829" stop-color="#b1fb4d"/><stop offset="0.7198" stop-color="#cdfc31"/><stop offset="0.7617" stop-color="#f4ff0a"/><stop offset="0.8121" stop-color="#f8a707"/><stop offset="0.8339" stop-color="#f98c06"/><stop offset="0.8607" stop-color="#fa6f04"/><stop offset="0.8926" stop-color="#fb6204"/><stop offset="0.9161" stop-color="#fa7004"/><stop offset="0.9245" stop-color="#f98d06"/><stop offset="0.9362" stop-color="#f8a807"/><stop offset="0.9413" stop-color="#f7c208"/><stop offset="0.9446" stop-color="#f5e809"/><stop offset="0.9463" stop-color="#f3ff0b"/><stop offset="0.9664" stop-color="#58f5a6"/><stop offset="0.9681" stop-color="#3af2c4"/><stop offset="0.9698" stop-color="#00e9ff"/><stop offset="0.9732" stop-color="#00b2ff"/><stop offset="0.9765" stop-color="#008bff"/><stop offset="0.9849" stop-color="#0040ff"/><stop offset="0.9899" stop-color="#0017ff"/><stop offset="0.9933" stop-color="#0003ff"/><stop offset="1.0000" stop-color="#0000ff"/></linearGradient><linearGradient id="g30" gradientUnits="userSpaceOnUse" x1="0" y1="4" x2="0" y2="600"><stop offset="0.0000" stop-color="#001fff"/><stop offset="0.0721" stop-color="#001bff"/><stop offset="0.1527" stop-color="#0042ff"/><stop offset="0.2164" stop-color="#0066ff"/><stop offset="0.3289" stop-color="#0092ff"/><stop offset="0.4060" stop-color="#00b6ff"/><stop offset="0.5067" stop-color="#00eeff"/><stop offset="0.5889" stop-color="#5ff5a0"/><stop offset="0.6745" stop-color="#b0fb4e"/><stop offset="0.7550" stop-color="#f3ff0b"/><stop offset="0.8070" stop-color="#f8a807"/><stop offset="0.8305" stop-color="#f98b05"/><stop offset="0.8557" stop-color="#fa6f04"/><stop offset="0.8909" stop-color="#fb5f04"/><stop offset="0.9161" stop-color="#fa7004"/><stop offset="0.9245" stop-color="#f98d06"/><stop offset="0.9346" stop-color="#f8a506"/><stop offset="0.9413" stop-color="#f7c208"/><stop offset="0.9446" stop-color="#f5e809"/><stop offset="0.9463" stop-color="#f4ff0a"/><stop offset="0.9664" stop-color="#53f4ab"/><stop offset="0.9681" stop-color="#35f2ca"/><stop offset="0.9698" stop-color="#00e7ff"/><stop offset="0.9732" stop-color="#00b1ff"/><stop offset="0.9765" stop-color="#008aff"/><stop offset="0.9849" stop-color="#003fff"/><stop offset="0.9899" stop-color="#0017ff"/><stop offset="0.9933" stop-color="#0003ff"/><stop offset="1.0000" stop-color="#0000ff"/></linearGradient><linearGradient id="g31" gradientUnits="userSpaceOnUse" x1="0" y1="4" x2="0" y2="600"><stop offset="0.0000" stop-color="#0021ff"/><stop offset="0.0654" stop-color="#001dff"/><stop offset="0.1426" stop-color="#0042ff"/><stop offset="0.2064" stop-color="#0066ff"/><stop offset="0.3188" stop-color="#0092ff"/><stop offset="0.3977" stop-color="#00b6ff"/><stop offset="0.4983" stop-color="#00eeff"/><stop offset="0.5822" stop-color="#5ff5a0"/><stop offset="0.6107" stop-color="#79f785"/><stop offset="0.6678" stop-color="#b1fb4d"/><stop offset="0.7500" stop-color="#f4fe0a"/><stop offset="0.8020" stop-color="#f8a907"/><stop offset="0.8255" stop-color="#f98b05"/><stop offset="0.8490" stop-color="#fa7004"/><stop offset="0.8893" stop-color="#fb5b04"/><stop offset="0.9161" stop-color="#fa6f04"/><stop offset="0.9245" stop-color="#f98c05"/><stop offset="0.9346" stop-color="#f8a506"/><stop offset="0.9413" stop-color="#f7c308"/><stop offset="0.9463" stop-color="#f4ff0a"/><stop offset="0.9664" stop-color="#4ef4b0"/><stop offset="0.9681" stop-color="#30f2cf"/><stop offset="0.9698" stop-color="#00e5ff"/><stop offset="0.9732" stop-color="#00b0ff"/><stop offset="0.9765" stop-color="#0089ff"/><stop offset="0.9849" stop-color="#003fff"/><stop offset="0.9899" stop-color="#0017ff"/><stop offset="0.9933" stop-color="#0003ff"/><stop offset="1.0000" stop-color="#0000ff"/></linearGradient><linearGradient id="g32" gradientUnits="userSpaceOnUse" x1="0" y1="4" x2="0" y2="600"><stop offset="0.0000" stop-color="#0021ff"/><stop offset="0.0604" stop-color="#001fff"/><stop offset="0.1342" stop-color="#0042ff"/><stop offset="0.1963" stop-color="#0066ff"/><stop offset="0.3087" stop-color="#0092ff"/><stop offset="0.3893" stop-color="#00b6ff"/><stop offset="0.4899" stop-color="#00eeff"/><stop offset="0.5755" stop-color="#5ff59f"/><stop offset="0.6594" stop-color="#b0fb4e"/><stop offset="0.7433" stop-color="#f4ff0a"/><stop offset="0.7987" stop-color="#f8a707"/><stop offset="0.8372" stop-color="#fa7805"/><stop offset="0.8456" stop-color="#fa6f04"/><stop offset="0.8876" stop-color="#fb5803"/><stop offset="0.9161" stop-color="#fa6f04"/><stop offset="0.9178" stop-color="#fa7305"/><stop offset="0.9245" stop-color="#f98c05"/><stop offset="0.9346" stop-color="#f8a607"/><stop offset="0.9413" stop-color="#f7c308"/><stop offset="0.9463" stop-color="#f4fe0a"/><stop offset="0.9480" stop-color="#e6fe18"/><stop offset="0.9664" stop-color="#49f3b6"/><stop offset="0.9681" stop-color="#2af1d4"/><stop offset="0.9698" stop-color="#00e3ff"/><stop offset="0.9732" stop-color="#00aeff"/><stop offset="0.9765" stop-color="#0089ff"/><stop offset="0.9832" stop-color="#004dff"/><stop offset="0.9899" stop-color="#0017ff"/><stop offset="0.9933" stop-color="#0003ff"/><stop offset="1.0000" stop-color="#0000ff"/></linearGradient><linearGradient id="g33" gradientUnits="userSpaceOnUse" x1="0" y1="4" x2="0" y2="600"><stop offset="0.0000" stop-color="#0023ff"/><stop offset="0.0537" stop-color="#0021ff"/><stop offset="0.1309" stop-color="#0045ff"/><stop offset="0.1862" stop-color="#0066ff"/><stop offset="0.3792" stop-color="#00b6ff"/><stop offset="0.4799" stop-color="#00edff"/><stop offset="0.5688" stop-color="#5ff59f"/><stop offset="0.6527" stop-color="#b0fb4e"/><stop offset="0.7366" stop-color="#f3ff0b"/><stop offset="0.7936" stop-color="#f8a807"/><stop offset="0.8389" stop-color="#fa7004"/><stop offset="0.8859" stop-color="#fb5503"/><stop offset="0.9178" stop-color="#fa7204"/><stop offset="0.9245" stop-color="#f98b05"/><stop offset="0.9346" stop-color="#f8a707"/><stop offset="0.9413" stop-color="#f7c308"/><stop offset="0.9463" stop-color="#f4fc0a"/><stop offset="0.9480" stop-color="#e7fe17"/><stop offset="0.9664" stop-color="#44f3bb"/><stop offset="0.9681" stop-color="#25f1da"/><stop offset="0.9698" stop-color="#00e1ff"/><stop offset="0.9732" stop-color="#00adff"/><stop offset="0.9765" stop-color="#0088ff"/><stop offset="0.9832" stop-color="#004cff"/><stop offset="0.9899" stop-color="#0017ff"/><stop offset="0.9933" stop-color="#0003ff"/><stop offset="1.0000" stop-color="#0000ff"/></linearGradient><linearGradient id="g34" gradientUnits="userSpaceOnUse" x1="0" y1="4" x2="0" y2="600"><stop offset="0.0000" stop-color="#0025ff"/><stop offset="0.0470" stop-color="#0022ff"/><stop offset="0.1292" stop-color="#0049ff"/><stop offset="0.1762" stop-color="#0066ff"/><stop offset="0.3708" stop-color="#00b6ff"/><stop offset="0.4715" stop-color="#00eeff"/><stop offset="0.5067" stop-color="#28f1d7"/><stop offset="0.6460" stop-color="#b1fb4d"/><stop offset="0.7299" stop-color="#f3ff0b"/><stop offset="0.7886" stop-color="#f8a807"/><stop offset="0.8339" stop-color="#fa7004"/><stop offset="0.8624" stop-color="#fb5c04"/><stop offset="0.8842" stop-color="#fb5203"/><stop offset="0.9027" stop-color="#fb6004"/><stop offset="0.9178" stop-color="#fa7204"/><stop offset="0.9346" stop-color="#f8a807"/><stop offset="0.9413" stop-color="#f7c408"/><stop offset="0.9463" stop-color="#f4fc0a"/><stop offset="0.9480" stop-color="#e6fe18"/><stop offset="0.9664" stop-color="#3ef3c0"/><stop offset="0.9681" stop-color="#1ff0df"/><stop offset="0.9698" stop-color="#00dfff"/><stop offset="0.9732" stop-color="#00acff"/><stop offset="0.9765" stop-color="#0087ff"/><stop offset="0.9832" stop-color="#004cff"/><stop offset="0.9899" stop-color="#0017ff"/><stop offset="0.9933" stop-color="#0003ff"/><stop offset="1.0000" stop-color="#0000ff"/></linearGradient><linearGradient id="g35" gradientUnits="userSpaceOnUse" x1="0" y1="4" x2="0" y2="600"><stop offset="0.0000" stop-color="#0026ff"/><stop offset="0.0403" stop-color="#0024ff"/><stop offset="0.1174" stop-color="#0048ff"/><stop offset="0.1678" stop-color="#0066ff"/><stop offset="0.3607" stop-color="#00b6ff"/><stop offset="0.4614" stop-color="#00edff"/><stop offset="0.5520" stop-color="#5ff5a0"/><stop offset="0.6376" stop-color="#b0fb4e"/><stop offset="0.7232" stop-color="#f3ff0b"/><stop offset="0.7852" stop-color="#f8a707"/><stop offset="0.8289" stop-color="#fa7104"/><stop offset="0.8658" stop-color="#fb5403"/><stop offset="0.8826" stop-color="#fc5003"/><stop offset="0.8943" stop-color="#fb5503"/><stop offset="0.9178" stop-color="#fa7104"/><stop offset="0.9245" stop-color="#f98a05"/><stop offset="0.9346" stop-color="#f8a907"/><stop offset="0.9413" stop-color="#f7c508"/><stop offset="0.9446" stop-color="#f5e209"/><stop offset="0.9463" stop-color="#f4fe0a"/><stop offset="0.9480" stop-color="#e5fe19"/><stop offset="0.9664" stop-color="#39f2c5"/><stop offset="0.9681" stop-color="#1af0e5"/><stop offset="0.9698" stop-color="#00ddff"/><stop offset="0.9715" stop-color="#00c2ff"/><stop offset="0.9748" stop-color="#0097ff"/><stop offset="0.9832" stop-color="#004bff"/><stop offset="0.9899" stop-color="#0017ff"/><stop offset="0.9933" stop-color="#0003ff"/><stop offset="1.0000" stop-color="#0000ff"/></linearGradient><linearGradient id="g36" gradientUnits="userSpaceOnUse" x1="0" y1="4" x2="0" y2="600"><stop offset="0.0000" stop-color="#0028ff"/><stop offset="0.0336" stop-color="#0026ff"/><stop offset="0.1074" stop-color="#0049ff"/><stop offset="0.1594" stop-color="#0066ff"/><stop offset="0.3507" stop-color="#00b6ff"/><stop offset="0.4530" stop-color="#00eeff"/><stop offset="0.5151" stop-color="#43f3bb"/><stop offset="0.6309" stop-color="#b0fb4e"/><stop offset="0.7181" stop-color="#f4ff0a"/><stop offset="0.7802" stop-color="#f8a707"/><stop offset="0.8255" stop-color="#fa6f04"/><stop offset="0.8574" stop-color="#fb5403"/><stop offset="0.8809" stop-color="#fc4e03"/><stop offset="0.8960" stop-color="#fb5403"/><stop offset="0.9178" stop-color="#fa7004"/><stop offset="0.9245" stop-color="#f98a05"/><stop offset="0.9346" stop-color="#f8aa07"/><stop offset="0.9413" stop-color="#f6c608"/><stop offset="0.9446" stop-color="#f5e509"/><stop offset="0.9463" stop-color="#f4ff0a"/><stop offset="0.9664" stop-color="#34f2cb"/><stop offset="0.9681" stop-color="#15f0ea"/><stop offset="0.9698" stop-color="#00dbff"/><stop offset="0.9715" stop-color="#00c0ff"/><stop offset="0.9748" stop-color="#0095ff"/><stop offset="0.9832" stop-color="#004bff"/><stop offset="0.9899" stop-color="#0016ff"/><stop offset="0.9933" stop-color="#0003ff"/><stop offset="1.0000" stop-color="#0000ff"/></linearGradient><linearGradient id="g37" gradientUnits="userSpaceOnUse" x1="0" y1="4" x2="0" y2="600"><stop offset="0.0000" stop-color="#0029ff"/><stop offset="0.0285" stop-color="#0028ff"/><stop offset="0.1510" stop-color="#0066ff"/><stop offset="0.3406" stop-color="#00b6ff"/><stop offset="0.4430" stop-color="#00eeff"/><stop offset="0.5050" stop-color="#43f3bc"/><stop offset="0.6242" stop-color="#b1fb4d"/><stop offset="0.7114" stop-color="#f3ff0b"/><stop offset="0.7752" stop-color="#f8a807"/><stop offset="0.8205" stop-color="#fa7004"/><stop offset="0.8507" stop-color="#fb5403"/><stop offset="0.8775" stop-color="#fc4c03"/><stop offset="0.8977" stop-color="#fb5403"/><stop offset="0.9178" stop-color="#fa7004"/><stop offset="0.9413" stop-color="#f6c708"/><stop offset="0.9446" stop-color="#f5e709"/><stop offset="0.9463" stop-color="#f2ff0c"/><stop offset="0.9664" stop-color="#2ff1d0"/><stop offset="0.9681" stop-color="#0feff0"/><stop offset="0.9698" stop-color="#00d9ff"/><stop offset="0.9715" stop-color="#00beff"/><stop offset="0.9748" stop-color="#0094ff"/><stop offset="0.9832" stop-color="#004aff"/><stop offset="0.9899" stop-color="#0016ff"/><stop offset="0.9933" stop-color="#0003ff"/><stop offset="1.0000" stop-color="#0000ff"/></linearGradient><linearGradient id="g38" gradientUnits="userSpaceOnUse" x1="0" y1="4" x2="0" y2="600"><stop offset="0.0000" stop-color="#002bff"/><stop offset="0.0201" stop-color="#0029ff"/><stop offset="0.0302" stop-color="#002eff"/><stop offset="0.1426" stop-color="#0066ff"/><stop offset="0.3305" stop-color="#00b6ff"/><stop offset="0.3960" stop-color="#00dcff"/><stop offset="0.4329" stop-color="#00edff"/><stop offset="0.5252" stop-color="#5ff5a0"/><stop offset="0.6174" stop-color="#b1fb4d"/><stop offset="0.7047" stop-color="#f3ff0b"/><stop offset="0.8154" stop-color="#fa7004"/><stop offset="0.8456" stop-color="#fb5403"/><stop offset="0.8758" stop-color="#fc4903"/><stop offset="0.8993" stop-color="#fb5403"/><stop offset="0.9178" stop-color="#fa7004"/><stop offset="0.9396" stop-color="#f7bf07"/><stop offset="0.9413" stop-color="#f6c708"/><stop offset="0.9430" stop-color="#f6d608"/><stop offset="0.9463" stop-color="#f1ff0d"/><stop offset="0.9664" stop-color="#29f1d5"/><stop offset="0.9681" stop-color="#0aeff5"/><stop offset="0.9698" stop-color="#00d7ff"/><stop offset="0.9715" stop-color="#00bcff"/><stop offset="0.9748" stop-color="#0093ff"/><stop offset="0.9832" stop-color="#004aff"/><stop offset="0.9899" stop-color="#0016ff"/><stop offset="0.9933" stop-color="#0003ff"/><stop offset="1.0000" stop-color="#0000ff"/></linearGradient><linearGradient id="g39" gradientUnits="userSpaceOnUse" x1="0" y1="4" x2="0" y2="600"><stop offset="0.0000" stop-color="#002cff"/><stop offset="0.0201" stop-color="#002dff"/><stop offset="0.1342" stop-color="#0067ff"/><stop offset="0.3205" stop-color="#00b6ff"/><stop offset="0.3859" stop-color="#00dcff"/><stop offset="0.4245" stop-color="#00eeff"/><stop offset="0.4849" stop-color="#42f3bd"/><stop offset="0.5168" stop-color="#5ff59f"/><stop offset="0.6107" stop-color="#b1fb4d"/><stop offset="0.6997" stop-color="#f4ff0a"/><stop offset="0.8121" stop-color="#fa6f04"/><stop offset="0.8406" stop-color="#fb5303"/><stop offset="0.8742" stop-color="#fc4803"/><stop offset="0.9010" stop-color="#fb5403"/><stop offset="0.9178" stop-color="#fa7004"/><stop offset="0.9396" stop-color="#f7bf08"/><stop offset="0.9413" stop-color="#f6c808"/><stop offset="0.9430" stop-color="#f6d708"/><stop offset="0.9463" stop-color="#f0ff0e"/><stop offset="0.9664" stop-color="#24f1db"/><stop offset="0.9681" stop-color="#04eefb"/><stop offset="0.9715" stop-color="#00baff"/><stop offset="0.9748" stop-color="#0092ff"/><stop offset="0.9832" stop-color="#0049ff"/><stop offset="0.9899" stop-color="#0016ff"/><stop offset="0.9933" stop-color="#0003ff"/><stop offset="1.0000" stop-color="#0000ff"/></linearGradient><linearGradient id="g40" gradientUnits="userSpaceOnUse" x1="0" y1="4" x2="0" y2="600"><stop offset="0.0000" stop-color="#002eff"/><stop offset="0.0134" stop-color="#002fff"/><stop offset="0.1258" stop-color="#0066ff"/><stop offset="0.3121" stop-color="#00b6ff"/><stop offset="0.3775" stop-color="#00ddff"/><stop offset="0.4161" stop-color="#00eeff"/><stop offset="0.4782" stop-color="#44f3bb"/><stop offset="0.5084" stop-color="#5ff59f"/><stop offset="0.6040" stop-color="#b1fb4d"/><stop offset="0.6930" stop-color="#f4ff0a"/><stop offset="0.8070" stop-color="#fa7004"/><stop offset="0.8356" stop-color="#fb5303"/><stop offset="0.8708" stop-color="#fc4503"/><stop offset="0.9027" stop-color="#fb5503"/><stop offset="0.9178" stop-color="#fa7104"/><stop offset="0.9396" stop-color="#f7c008"/><stop offset="0.9413" stop-color="#f6cb08"/><stop offset="0.9446" stop-color="#f5ed09"/><stop offset="0.9463" stop-color="#efff0f"/><stop offset="0.9664" stop-color="#1ff0e0"/><stop offset="0.9681" stop-color="#00eeff"/><stop offset="0.9715" stop-color="#00b8ff"/><stop offset="0.9748" stop-color="#0091ff"/><stop offset="0.9832" stop-color="#0049ff"/><stop offset="0.9899" stop-color="#0016ff"/><stop offset="0.9933" stop-color="#0003ff"/><stop offset="1.0000" stop-color="#0000ff"/></linearGradient><linearGradient id="g41" gradientUnits="userSpaceOnUse" x1="0" y1="4" x2="0" y2="600"><stop offset="0.0000" stop-color="#0032ff"/><stop offset="0.0101" stop-color="#0031ff"/><stop offset="0.1174" stop-color="#0066ff"/><stop offset="0.3020" stop-color="#00b6ff"/><stop offset="0.3691" stop-color="#00dcff"/><stop offset="0.4077" stop-color="#00eeff"/><stop offset="0.4698" stop-color="#42f3bc"/><stop offset="0.5017" stop-color="#5ff59f"/><stop offset="0.5973" stop-color="#b2fb4c"/><stop offset="0.6862" stop-color="#f3ff0b"/><stop offset="0.8037" stop-color="#fa6f04"/><stop offset="0.8322" stop-color="#fb5303"/><stop offset="0.8691" stop-color="#fc4303"/><stop offset="0.9027" stop-color="#fb5403"/><stop offset="0.9178" stop-color="#fa7104"/><stop offset="0.9396" stop-color="#f7c008"/><stop offset="0.9413" stop-color="#f6cc08"/><stop offset="0.9446" stop-color="#f5ef09"/><stop offset="0.9463" stop-color="#eeff10"/><stop offset="0.9664" stop-color="#1af0e5"/><stop offset="0.9681" stop-color="#00ebff"/><stop offset="0.9715" stop-color="#00b6ff"/><stop offset="0.9748" stop-color="#0090ff"/><stop offset="0.9832" stop-color="#0049ff"/><stop offset="0.9899" stop-color="#0016ff"/><stop offset="0.9933" stop-color="#0003ff"/><stop offset="1.0000" stop-color="#0000ff"/></linearGradient><linearGradient id="g42" gradientUnits="userSpaceOnUse" x1="0" y1="4" x2="0" y2="600"><stop offset="0.0000" stop-color="#0035ff"/><stop offset="0.0101" stop-color="#0035ff"/><stop offset="0.1107" stop-color="#0066ff"/><stop offset="0.2953" stop-color="#00b6ff"/><stop offset="0.3624" stop-color="#00dcff"/><stop offset="0.4010" stop-color="#00eeff"/><stop offset="0.4631" stop-color="#43f3bc"/><stop offset="0.4933" stop-color="#5ef5a0"/><stop offset="0.5906" stop-color="#b2fb4c"/><stop offset="0.6795" stop-color="#f3ff0b"/><stop offset="0.8003" stop-color="#fa6f04"/><stop offset="0.8289" stop-color="#fb5303"/><stop offset="0.8674" stop-color="#fc4103"/><stop offset="0.9044" stop-color="#fb5403"/><stop offset="0.9161" stop-color="#fa6d04"/><stop offset="0.9396" stop-color="#f7c108"/><stop offset="0.9413" stop-color="#f6cf08"/><stop offset="0.9446" stop-color="#f5f209"/><stop offset="0.9463" stop-color="#ecfe12"/><stop offset="0.9664" stop-color="#17f0e8"/><stop offset="0.9681" stop-color="#00eaff"/><stop offset="0.9715" stop-color="#00b5ff"/><stop offset="0.9748" stop-color="#0090ff"/><stop offset="0.9832" stop-color="#0048ff"/><stop offset="0.9899" stop-color="#0015ff"/><stop offset="0.9933" stop-color="#0003ff"/><stop offset="1.0000" stop-color="#0000ff"/></linearGradient><linearGradient id="g43" gradientUnits="userSpaceOnUse" x1="0" y1="4" x2="0" y2="600"><stop offset="0.0000" stop-color="#0037ff"/><stop offset="0.0084" stop-color="#0037ff"/><stop offset="0.1023" stop-color="#0066ff"/><stop offset="0.2869" stop-color="#00b6ff"/><stop offset="0.3943" stop-color="#00eeff"/><stop offset="0.4564" stop-color="#43f3bb"/><stop offset="0.4866" stop-color="#5ff5a0"/><stop offset="0.5839" stop-color="#b2fb4c"/><stop offset="0.6728" stop-color="#f3ff0b"/><stop offset="0.7450" stop-color="#f8a807"/><stop offset="0.7953" stop-color="#fa7004"/><stop offset="0.8255" stop-color="#fb5303"/><stop offset="0.8641" stop-color="#fc3f02"/><stop offset="0.9044" stop-color="#fb5303"/><stop offset="0.9161" stop-color="#fa6d04"/><stop offset="0.9396" stop-color="#f7c308"/><stop offset="0.9413" stop-color="#f6d108"/><stop offset="0.9446" stop-color="#f4f70a"/><stop offset="0.9463" stop-color="#e8fe16"/><stop offset="0.9664" stop-color="#14f0ea"/><stop offset="0.9681" stop-color="#00e9ff"/><stop offset="0.9715" stop-color="#00b5ff"/><stop offset="0.9748" stop-color="#008fff"/><stop offset="0.9832" stop-color="#0048ff"/><stop offset="0.9899" stop-color="#0015ff"/><stop offset="0.9933" stop-color="#0003ff"/><stop offset="1.0000" stop-color="#0000ff"/></linearGradient><linearGradient id="g44" gradientUnits="userSpaceOnUse" x1="0" y1="4" x2="0" y2="600"><stop offset="0.0000" stop-color="#003bff"/><stop offset="0.0101" stop-color="#003cff"/><stop offset="0.0956" stop-color="#0066ff"/><stop offset="0.2802" stop-color="#00b6ff"/><stop offset="0.3859" stop-color="#00eeff"/><stop offset="0.4480" stop-color="#42f3bc"/><stop offset="0.4799" stop-color="#5ff59f"/><stop offset="0.5755" stop-color="#b1fb4d"/><stop offset="0.6678" stop-color="#f4ff0a"/><stop offset="0.7148" stop-color="#f7c408"/><stop offset="0.7919" stop-color="#fa6f04"/><stop offset="0.8221" stop-color="#fb5403"/><stop offset="0.8624" stop-color="#fc3c02"/><stop offset="0.9060" stop-color="#fb5603"/><stop offset="0.9178" stop-color="#fa7204"/><stop offset="0.9379" stop-color="#f7bf07"/><stop offset="0.9396" stop-color="#f6c708"/><stop offset="0.9413" stop-color="#f6d608"/><stop offset="0.9446" stop-color="#f4fb0a"/><stop offset="0.9463" stop-color="#e4fe1a"/><stop offset="0.9664" stop-color="#12efed"/><stop offset="0.9681" stop-color="#00e8ff"/><stop offset="0.9715" stop-color="#00b4ff"/><stop offset="0.9748" stop-color="#008fff"/><stop offset="0.9832" stop-color="#0048ff"/><stop offset="0.9899" stop-color="#0015ff"/><stop offset="0.9933" stop-color="#0003ff"/><stop offset="1.0000" stop-color="#0000ff"/></linearGradient><linearGradient id="g45" gradientUnits="userSpaceOnUse" x1="0" y1="4" x2="0" y2="600"><stop offset="0.0000" stop-color="#003fff"/><stop offset="0.0101" stop-color="#003fff"/><stop offset="0.0872" stop-color="#0066ff"/><stop offset="0.2718" stop-color="#00b6ff"/><stop offset="0.3792" stop-color="#00eeff"/><stop offset="0.4413" stop-color="#43f3bc"/><stop offset="0.4732" stop-color="#5ff59f"/><stop offset="0.5688" stop-color="#b1fb4d"/><stop offset="0.6611" stop-color="#f4ff0a"/><stop offset="0.7097" stop-color="#f7c308"/><stop offset="0.7886" stop-color="#fa6f04"/><stop offset="0.8188" stop-color="#fb5403"/><stop offset="0.8607" stop-color="#fc3a02"/><stop offset="0.9044" stop-color="#fb5303"/><stop offset="0.9161" stop-color="#fa6d04"/><stop offset="0.9379" stop-color="#f7c108"/><stop offset="0.9413" stop-color="#f6da09"/><stop offset="0.9446" stop-color="#f2ff0c"/><stop offset="0.9664" stop-color="#10efef"/><stop offset="0.9681" stop-color="#00e8ff"/><stop offset="0.9715" stop-color="#00b4ff"/><stop offset="0.9748" stop-color="#008eff"/><stop offset="0.9832" stop-color="#0048ff"/><stop offset="0.9899" stop-color="#0015ff"/><stop offset="0.9933" stop-color="#0003ff"/><stop offset="1.0000" stop-color="#0000ff"/></linearGradient><linearGradient id="g46" gradientUnits="userSpaceOnUse" x1="0" y1="4" x2="0" y2="600"><stop offset="0.0000" stop-color="#0042ff"/><stop offset="0.0101" stop-color="#0043ff"/><stop offset="0.0805" stop-color="#0067ff"/><stop offset="0.2651" stop-color="#00b6ff"/><stop offset="0.3725" stop-color="#00eeff"/><stop offset="0.4346" stop-color="#43f3bb"/><stop offset="0.4648" stop-color="#5ef5a0"/><stop offset="0.5621" stop-color="#b1fb4d"/><stop offset="0.6544" stop-color="#f3ff0b"/><stop offset="0.7030" stop-color="#f7c408"/><stop offset="0.7836" stop-color="#fa7004"/><stop offset="0.8154" stop-color="#fb5403"/><stop offset="0.8591" stop-color="#fd3802"/><stop offset="0.9060" stop-color="#fb5603"/><stop offset="0.9178" stop-color="#fa7204"/><stop offset="0.9379" stop-color="#f7c308"/><stop offset="0.9413" stop-color="#f5de09"/><stop offset="0.9430" stop-color="#f5f109"/><stop offset="0.9446" stop-color="#efff0f"/><stop offset="0.9664" stop-color="#0eeff1"/><stop offset="0.9681" stop-color="#00e7ff"/><stop offset="0.9715" stop-color="#00b3ff"/><stop offset="0.9748" stop-color="#008eff"/><stop offset="0.9832" stop-color="#0047ff"/><stop offset="0.9899" stop-color="#0015ff"/><stop offset="0.9933" stop-color="#0003ff"/><stop offset="1.0000" stop-color="#0000ff"/></linearGradient><linearGradient id="g47" gradientUnits="userSpaceOnUse" x1="0" y1="4" x2="0" y2="600"><stop offset="0.0000" stop-color="#0047ff"/><stop offset="0.0101" stop-color="#0047ff"/><stop offset="0.0721" stop-color="#0066ff"/><stop offset="0.2567" stop-color="#00b6ff"/><stop offset="0.3658" stop-color="#00eeff"/><stop offset="0.4279" stop-color="#44f3bb"/><stop offset="0.4581" stop-color="#5ff5a0"/><stop offset="0.5554" stop-color="#b1fb4d"/><stop offset="0.6477" stop-color="#f3ff0b"/><stop offset="0.6980" stop-color="#f7c308"/><stop offset="0.7802" stop-color="#fa7004"/><stop offset="0.8238" stop-color="#fc4a03"/><stop offset="0.8490" stop-color="#fd3902"/><stop offset="0.8574" stop-color="#fd3602"/><stop offset="0.8826" stop-color="#fc4303"/><stop offset="0.9060" stop-color="#fb5603"/><stop offset="0.9178" stop-color="#fa7304"/><stop offset="0.9362" stop-color="#f7be07"/><stop offset="0.9379" stop-color="#f6c608"/><stop offset="0.9430" stop-color="#f4f50a"/><stop offset="0.9446" stop-color="#ebfe13"/><stop offset="0.9664" stop-color="#0beff4"/><stop offset="0.9681" stop-color="#00e6ff"/><stop offset="0.9715" stop-color="#00b3ff"/><stop offset="0.9748" stop-color="#008eff"/><stop offset="0.9832" stop-color="#0047ff"/><stop offset="0.9899" stop-color="#0015ff"/><stop offset="0.9933" stop-color="#0003ff"/><stop offset="1.0000" stop-color="#0000ff"/></linearGradient><linearGradient id="g48" gradientUnits="userSpaceOnUse" x1="0" y1="4" x2="0" y2="600"><stop offset="0.0000" stop-color="#004bff"/><stop offset="0.0101" stop-color="#004bff"/><stop offset="0.1309" stop-color="#0084ff"/><stop offset="0.2483" stop-color="#00b6ff"/><stop offset="0.3574" stop-color="#00eeff"/><stop offset="0.4195" stop-color="#42f3bc"/><stop offset="0.4513" stop-color="#5ff59f"/><stop offset="0.5487" stop-color="#b1fb4d"/><stop offset="0.6426" stop-color="#f4ff0a"/><stop offset="0.6661" stop-color="#f5df09"/><stop offset="0.6913" stop-color="#f7c408"/><stop offset="0.7768" stop-color="#fa6f04"/><stop offset="0.8339" stop-color="#fc3e02"/><stop offset="0.8423" stop-color="#fd3802"/><stop offset="0.8557" stop-color="#fd3502"/><stop offset="0.8725" stop-color="#fd3802"/><stop offset="0.9060" stop-color="#fb5603"/><stop offset="0.9178" stop-color="#fa7305"/><stop offset="0.9362" stop-color="#f7c008"/><stop offset="0.9396" stop-color="#f6d808"/><stop offset="0.9430" stop-color="#f4f90a"/><stop offset="0.9446" stop-color="#e7fe17"/><stop offset="0.9664" stop-color="#09eff6"/><stop offset="0.9681" stop-color="#00e5ff"/><stop offset="0.9715" stop-color="#00b2ff"/><stop offset="0.9748" stop-color="#008dff"/><stop offset="0.9832" stop-color="#0047ff"/><stop offset="0.9899" stop-color="#0015ff"/><stop offset="0.9933" stop-color="#0003ff"/><stop offset="1.0000" stop-color="#0000ff"/></linearGradient><linearGradient id="g49" gradientUnits="userSpaceOnUse" x1="0" y1="4" x2="0" y2="600"><stop offset="0.0000" stop-color="#004fff"/><stop offset="0.0101" stop-color="#004eff"/><stop offset="0.1225" stop-color="#0084ff"/><stop offset="0.2416" stop-color="#00b6ff"/><stop offset="0.3507" stop-color="#00eeff"/><stop offset="0.4128" stop-color="#43f3bc"/><stop offset="0.4446" stop-color="#5ff59f"/><stop offset="0.5419" stop-color="#b1fb4d"/><stop offset="0.6359" stop-color="#f4ff0a"/><stop offset="0.6594" stop-color="#f5e009"/><stop offset="0.6846" stop-color="#f7c508"/><stop offset="0.7718" stop-color="#fa7004"/><stop offset="0.8339" stop-color="#fd3802"/><stop offset="0.8540" stop-color="#fd3302"/><stop offset="0.8792" stop-color="#fd3802"/><stop offset="0.9060" stop-color="#fb5603"/><stop offset="0.9161" stop-color="#fa6e04"/><stop offset="0.9245" stop-color="#f98d06"/><stop offset="0.9362" stop-color="#f7c208"/><stop offset="0.9396" stop-color="#f5dc09"/><stop offset="0.9430" stop-color="#f4fd0a"/><stop offset="0.9446" stop-color="#e4fe1a"/><stop offset="0.9664" stop-color="#07eef8"/><stop offset="0.9681" stop-color="#00e4ff"/><stop offset="0.9715" stop-color="#00b1ff"/><stop offset="0.9748" stop-color="#008dff"/><stop offset="0.9832" stop-color="#0047ff"/><stop offset="0.9899" stop-color="#0015ff"/><stop offset="0.9933" stop-color="#0003ff"/><stop offset="1.0000" stop-color="#0000ff"/></linearGradient><linearGradient id="g50" gradientUnits="userSpaceOnUse" x1="0" y1="4" x2="0" y2="600"><stop offset="0.0000" stop-color="#0053ff"/><stop offset="0.0101" stop-color="#0052ff"/><stop offset="0.1158" stop-color="#0084ff"/><stop offset="0.2332" stop-color="#00b6ff"/><stop offset="0.3440" stop-color="#00eeff"/><stop offset="0.4060" stop-color="#43f3bb"/><stop offset="0.4379" stop-color="#60f59f"/><stop offset="0.5352" stop-color="#b1fb4d"/><stop offset="0.6292" stop-color="#f3ff0b"/><stop offset="0.6544" stop-color="#f5de09"/><stop offset="0.7081" stop-color="#f8a707"/><stop offset="0.8020" stop-color="#fb5403"/><stop offset="0.8289" stop-color="#fd3902"/><stop offset="0.8523" stop-color="#fd3202"/><stop offset="0.8859" stop-color="#fd3802"/><stop offset="0.9060" stop-color="#fb5603"/><stop offset="0.9161" stop-color="#fa6e04"/><stop offset="0.9245" stop-color="#f98d06"/><stop offset="0.9362" stop-color="#f6c608"/><stop offset="0.9430" stop-color="#f1ff0d"/><stop offset="0.9664" stop-color="#04eefb"/><stop offset="0.9681" stop-color="#00e3ff"/><stop offset="0.9715" stop-color="#00b1ff"/><stop offset="0.9748" stop-color="#008dff"/><stop offset="0.9832" stop-color="#0047ff"/><stop offset="0.9899" stop-color="#0015ff"/><stop offset="0.9933" stop-color="#0003ff"/><stop offset="1.0000" stop-color="#0000ff"/></linearGradient><linearGradient id="g51" gradientUnits="userSpaceOnUse" x1="0" y1="4" x2="0" y2="600"><stop offset="0.0000" stop-color="#0056ff"/><stop offset="0.0101" stop-color="#0056ff"/><stop offset="0.1896" stop-color="#00a9ff"/><stop offset="0.2265" stop-color="#00b6ff"/><stop offset="0.3372" stop-color="#01eefe"/><stop offset="0.3977" stop-color="#42f3bc"/><stop offset="0.4295" stop-color="#5ff5a0"/><stop offset="0.5285" stop-color="#b1fb4d"/><stop offset="0.6225" stop-color="#f3ff0b"/><stop offset="0.6460" stop-color="#f5e009"/><stop offset="0.6745" stop-color="#f7c308"/><stop offset="0.7987" stop-color="#fb5403"/><stop offset="0.8255" stop-color="#fd3902"/><stop offset="0.8523" stop-color="#fd3002"/><stop offset="0.8859" stop-color="#fd3802"/><stop offset="0.9060" stop-color="#fb5603"/><stop offset="0.9161" stop-color="#fa6e04"/><stop offset="0.9245" stop-color="#f98d06"/><stop offset="0.9346" stop-color="#f7bf08"/><stop offset="0.9413" stop-color="#f4f50a"/><stop offset="0.9430" stop-color="#edff11"/><stop offset="0.9664" stop-color="#02eefd"/><stop offset="0.9681" stop-color="#00e2ff"/><stop offset="0.9715" stop-color="#00b0ff"/><stop offset="0.9748" stop-color="#008cff"/><stop offset="0.9832" stop-color="#0047ff"/><stop offset="0.9899" stop-color="#0015ff"/><stop offset="0.9933" stop-color="#0003ff"/><stop offset="1.0000" stop-color="#0000ff"/></linearGradient><linearGradient id="g52" gradientUnits="userSpaceOnUse" x1="0" y1="4" x2="0" y2="600"><stop offset="0.0000" stop-color="#005aff"/><stop offset="0.0101" stop-color="#005aff"/><stop offset="0.1812" stop-color="#00a9ff"/><stop offset="0.2181" stop-color="#00b6ff"/><stop offset="0.3289" stop-color="#00eeff"/><stop offset="0.3909" stop-color="#43f3bc"/><stop offset="0.4547" stop-color="#7af784"/><stop offset="0.5218" stop-color="#b1fb4d"/><stop offset="0.6174" stop-color="#f4ff0a"/><stop offset="0.6409" stop-color="#f5df09"/><stop offset="0.6963" stop-color="#f8a807"/><stop offset="0.7953" stop-color="#fb5403"/><stop offset="0.8221" stop-color="#fd3902"/><stop offset="0.8507" stop-color="#fd2f02"/><stop offset="0.8859" stop-color="#fd3802"/><stop offset="0.9060" stop-color="#fb5603"/><stop offset="0.9161" stop-color="#fa6e04"/><stop offset="0.9245" stop-color="#f98e06"/><stop offset="0.9346" stop-color="#f7c308"/><stop offset="0.9413" stop-color="#f4f80a"/><stop offset="0.9430" stop-color="#e9fe15"/><stop offset="0.9664" stop-color="#00eeff"/><stop offset="0.9681" stop-color="#00e1ff"/><stop offset="0.9715" stop-color="#00b0ff"/><stop offset="0.9748" stop-color="#008cff"/><stop offset="0.9832" stop-color="#0046ff"/><stop offset="0.9899" stop-color="#0015ff"/><stop offset="0.9933" stop-color="#0003ff"/><stop offset="1.0000" stop-color="#0000ff"/></linearGradient><linearGradient id="g53" gradientUnits="userSpaceOnUse" x1="0" y1="4" x2="0" y2="600"><stop offset="0.0000" stop-color="#005eff"/><stop offset="0.0101" stop-color="#005dff"/><stop offset="0.1745" stop-color="#00a9ff"/><stop offset="0.2097" stop-color="#00b6ff"/><stop offset="0.3221" stop-color="#00eeff"/><stop offset="0.3842" stop-color="#43f3bc"/><stop offset="0.4480" stop-color="#7af784"/><stop offset="0.5151" stop-color="#b1fb4d"/><stop offset="0.6107" stop-color="#f4ff0a"/><stop offset="0.6342" stop-color="#f5df09"/><stop offset="0.6913" stop-color="#f8a807"/><stop offset="0.7919" stop-color="#fb5403"/><stop offset="0.8188" stop-color="#fd3902"/><stop offset="0.8490" stop-color="#fd2d02"/><stop offset="0.8876" stop-color="#fd3902"/><stop offset="0.9060" stop-color="#fb5603"/><stop offset="0.9161" stop-color="#fa6f04"/><stop offset="0.9245" stop-color="#f98e06"/><stop offset="0.9295" stop-color="#f8a807"/><stop offset="0.9346" stop-color="#f6c708"/><stop offset="0.9413" stop-color="#f4fc0a"/><stop offset="0.9430" stop-color="#e5fe19"/><stop offset="0.9664" stop-color="#00edff"/><stop offset="0.9681" stop-color="#00e0ff"/><stop offset="0.9715" stop-color="#00afff"/><stop offset="0.9748" stop-color="#008bff"/><stop offset="0.9832" stop-color="#0046ff"/><stop offset="0.9899" stop-color="#0015ff"/><stop offset="0.9933" stop-color="#0003ff"/><stop offset="1.0000" stop-color="#0000ff"/></linearGradient><linearGradient id="g54" gradientUnits="userSpaceOnUse" x1="0" y1="4" x2="0" y2="600"><stop offset="0.0000" stop-color="#0060ff"/><stop offset="0.0084" stop-color="#0060ff"/><stop offset="0.2030" stop-color="#00b6ff"/><stop offset="0.3154" stop-color="#00eeff"/><stop offset="0.3775" stop-color="#43f3bc"/><stop offset="0.4413" stop-color="#7af784"/><stop offset="0.5084" stop-color="#b1fb4d"/><stop offset="0.6057" stop-color="#f4ff0a"/><stop offset="0.6292" stop-color="#f5df09"/><stop offset="0.6862" stop-color="#f8a807"/><stop offset="0.7869" stop-color="#fb5403"/><stop offset="0.8171" stop-color="#fd3802"/><stop offset="0.8473" stop-color="#fd2c02"/><stop offset="0.8876" stop-color="#fd3802"/><stop offset="0.9060" stop-color="#fb5603"/><stop offset="0.9161" stop-color="#fa6f04"/><stop offset="0.9245" stop-color="#f98e06"/><stop offset="0.9329" stop-color="#f7bf08"/><stop offset="0.9413" stop-color="#f2ff0c"/><stop offset="0.9648" stop-color="#0ceff3"/><stop offset="0.9664" stop-color="#00ecff"/><stop offset="0.9681" stop-color="#00e0ff"/><stop offset="0.9715" stop-color="#00afff"/><stop offset="0.9748" stop-color="#008bff"/><stop offset="0.9832" stop-color="#0046ff"/><stop offset="0.9899" stop-color="#0015ff"/><stop offset="0.9933" stop-color="#0002ff"/><stop offset="1.0000" stop-color="#0000ff"/></linearGradient><linearGradient id="g55" gradientUnits="userSpaceOnUse" x1="0" y1="4" x2="0" y2="600"><stop offset="0.0000" stop-color="#0064ff"/><stop offset="0.0084" stop-color="#0064ff"/><stop offset="0.1963" stop-color="#00b6ff"/><stop offset="0.3087" stop-color="#00eeff"/><stop offset="0.3708" stop-color="#42f3bc"/><stop offset="0.4346" stop-color="#7af784"/><stop offset="0.5034" stop-color="#b2fb4c"/><stop offset="0.5990" stop-color="#f3ff0b"/><stop offset="0.6342" stop-color="#f6d508"/><stop offset="0.7114" stop-color="#f98d06"/><stop offset="0.7836" stop-color="#fb5403"/><stop offset="0.8138" stop-color="#fd3802"/><stop offset="0.8456" stop-color="#fd2a02"/><stop offset="0.8876" stop-color="#fd3802"/><stop offset="0.9060" stop-color="#fb5603"/><stop offset="0.9161" stop-color="#fa6f04"/><stop offset="0.9245" stop-color="#f98e06"/><stop offset="0.9295" stop-color="#f8ab07"/><stop offset="0.9396" stop-color="#f4f50a"/><stop offset="0.9413" stop-color="#eeff10"/><stop offset="0.9648" stop-color="#0beff4"/><stop offset="0.9664" stop-color="#00ecff"/><stop offset="0.9681" stop-color="#00e0ff"/><stop offset="0.9715" stop-color="#00afff"/><stop offset="0.9748" stop-color="#008bff"/><stop offset="0.9832" stop-color="#0046ff"/><stop offset="0.9899" stop-color="#0015ff"/><stop offset="0.9933" stop-color="#0002ff"/><stop offset="1.0000" stop-color="#0000ff"/></linearGradient><linearGradient id="g56" gradientUnits="userSpaceOnUse" x1="0" y1="4" x2="0" y2="600"><stop offset="0.0000" stop-color="#0067ff"/><stop offset="0.0101" stop-color="#0068ff"/><stop offset="0.1091" stop-color="#0092ff"/><stop offset="0.3020" stop-color="#00eeff"/><stop offset="0.3658" stop-color="#44f3bb"/><stop offset="0.4413" stop-color="#85f879"/><stop offset="0.4966" stop-color="#b1fb4d"/><stop offset="0.5940" stop-color="#f4ff0a"/><stop offset="0.6191" stop-color="#f5df09"/><stop offset="0.7064" stop-color="#f98c06"/><stop offset="0.8104" stop-color="#fd3802"/><stop offset="0.8440" stop-color="#fd2902"/><stop offset="0.8876" stop-color="#fd3802"/><stop offset="0.9060" stop-color="#fb5603"/><stop offset="0.9161" stop-color="#fa6f04"/><stop offset="0.9245" stop-color="#f99006"/><stop offset="0.9295" stop-color="#f8ad07"/><stop offset="0.9396" stop-color="#f4f70a"/><stop offset="0.9413" stop-color="#ecfe12"/><stop offset="0.9648" stop-color="#0aeff4"/><stop offset="0.9664" stop-color="#00ecff"/><stop offset="0.9681" stop-color="#00dfff"/><stop offset="0.9715" stop-color="#00aeff"/><stop offset="0.9748" stop-color="#008bff"/><stop offset="0.9832" stop-color="#0046ff"/><stop offset="0.9899" stop-color="#0015ff"/><stop offset="0.9933" stop-color="#0002ff"/><stop offset="1.0000" stop-color="#0000ff"/></linearGradient><linearGradient id="g57" gradientUnits="userSpaceOnUse" x1="0" y1="4" x2="0" y2="600"><stop offset="0.0000" stop-color="#006aff"/><stop offset="0.0101" stop-color="#006bff"/><stop offset="0.1023" stop-color="#0092ff"/><stop offset="0.2953" stop-color="#00eeff"/><stop offset="0.3591" stop-color="#43f3bb"/><stop offset="0.4497" stop-color="#91f96d"/><stop offset="0.4916" stop-color="#b2fb4c"/><stop offset="0.5872" stop-color="#f3ff0b"/><stop offset="0.6409" stop-color="#f7c408"/><stop offset="0.7013" stop-color="#f98c05"/><stop offset="0.8087" stop-color="#fd3802"/><stop offset="0.8440" stop-color="#fd2702"/><stop offset="0.8876" stop-color="#fd3802"/><stop offset="0.9044" stop-color="#fb5303"/><stop offset="0.9161" stop-color="#fa7004"/><stop offset="0.9228" stop-color="#f98905"/><stop offset="0.9295" stop-color="#f7ae07"/><stop offset="0.9396" stop-color="#f4f80a"/><stop offset="0.9413" stop-color="#eafe14"/><stop offset="0.9648" stop-color="#0aeff5"/><stop offset="0.9664" stop-color="#00ebff"/><stop offset="0.9681" stop-color="#00dfff"/><stop offset="0.9715" stop-color="#00aeff"/><stop offset="0.9748" stop-color="#008bff"/><stop offset="0.9832" stop-color="#0046ff"/><stop offset="0.9899" stop-color="#0015ff"/><stop offset="0.9933" stop-color="#0002ff"/><stop offset="1.0000" stop-color="#0000ff"/></linearGradient><linearGradient id="g58" gradientUnits="userSpaceOnUse" x1="0" y1="4" x2="0" y2="600"><stop offset="0.0000" stop-color="#006dff"/><stop offset="0.0101" stop-color="#006dff"/><stop offset="0.0956" stop-color="#0092ff"/><stop offset="0.2886" stop-color="#00eeff"/><stop offset="0.3523" stop-color="#43f3bb"/><stop offset="0.4463" stop-color="#94f96a"/><stop offset="0.5822" stop-color="#f3ff0b"/><stop offset="0.6359" stop-color="#f7c408"/><stop offset="0.6946" stop-color="#f98c06"/><stop offset="0.8054" stop-color="#fd3802"/><stop offset="0.8423" stop-color="#fd2501"/><stop offset="0.8876" stop-color="#fd3802"/><stop offset="0.9044" stop-color="#fb5303"/><stop offset="0.9161" stop-color="#fa7104"/><stop offset="0.9228" stop-color="#f98a05"/><stop offset="0.9295" stop-color="#f7af07"/><stop offset="0.9396" stop-color="#f4f90a"/><stop offset="0.9413" stop-color="#e9fe15"/><stop offset="0.9648" stop-color="#09eff6"/><stop offset="0.9664" stop-color="#00ebff"/><stop offset="0.9681" stop-color="#00dfff"/><stop offset="0.9715" stop-color="#00aeff"/><stop offset="0.9748" stop-color="#008bff"/><stop offset="0.9832" stop-color="#0046ff"/><stop offset="0.9899" stop-color="#0015ff"/><stop offset="0.9933" stop-color="#0002ff"/><stop offset="1.0000" stop-color="#0000ff"/></linearGradient><linearGradient id="g59" gradientUnits="userSpaceOnUse" x1="0" y1="4" x2="0" y2="600"><stop offset="0.0000" stop-color="#0070ff"/><stop offset="0.0101" stop-color="#0070ff"/><stop offset="0.0906" stop-color="#0092ff"/><stop offset="0.2819" stop-color="#00eeff"/><stop offset="0.3456" stop-color="#43f3bb"/><stop offset="0.4396" stop-color="#94f96a"/><stop offset="0.5772" stop-color="#f4ff0a"/><stop offset="0.6040" stop-color="#f5df09"/><stop offset="0.6896" stop-color="#f98c05"/><stop offset="0.8020" stop-color="#fd3802"/><stop offset="0.8406" stop-color="#fd2401"/><stop offset="0.8876" stop-color="#fd3802"/><stop offset="0.9044" stop-color="#fb5403"/><stop offset="0.9161" stop-color="#fa7204"/><stop offset="0.9228" stop-color="#f98b05"/><stop offset="0.9279" stop-color="#f8a506"/><stop offset="0.9396" stop-color="#f4fa0a"/><stop offset="0.9413" stop-color="#e7fe17"/><stop offset="0.9648" stop-color="#08eff6"/><stop offset="0.9664" stop-color="#00ebff"/><stop offset="0.9681" stop-color="#00dfff"/><stop offset="0.9715" stop-color="#00aeff"/><stop offset="0.9748" stop-color="#008bff"/><stop offset="0.9832" stop-color="#0046ff"/><stop offset="0.9899" stop-color="#0015ff"/><stop offset="0.9933" stop-color="#0002ff"/><stop offset="1.0000" stop-color="#0000ff"/></linearGradient><linearGradient id="g60" gradientUnits="userSpaceOnUse" x1="0" y1="4" x2="0" y2="600"><stop offset="0.0000" stop-color="#0073ff"/><stop offset="0.0101" stop-color="#0073ff"/><stop offset="0.0839" stop-color="#0092ff"/><stop offset="0.2752" stop-color="#00eeff"/><stop offset="0.3389" stop-color="#43f3bc"/><stop offset="0.4346" stop-color="#96f968"/><stop offset="0.5705" stop-color="#f3ff0b"/><stop offset="0.6258" stop-color="#f7c308"/><stop offset="0.6846" stop-color="#f98b05"/><stop offset="0.7987" stop-color="#fd3802"/><stop offset="0.8389" stop-color="#fe2201"/><stop offset="0.8876" stop-color="#fd3802"/><stop offset="0.9044" stop-color="#fb5403"/><stop offset="0.9144" stop-color="#fa6d04"/><stop offset="0.9228" stop-color="#f98b05"/><stop offset="0.9279" stop-color="#f8a707"/><stop offset="0.9396" stop-color="#f4fc0a"/><stop offset="0.9413" stop-color="#e6fe18"/><stop offset="0.9648" stop-color="#08eff7"/><stop offset="0.9664" stop-color="#00ebff"/><stop offset="0.9681" stop-color="#00deff"/><stop offset="0.9715" stop-color="#00aeff"/><stop offset="0.9748" stop-color="#008bff"/><stop offset="0.9832" stop-color="#0046ff"/><stop offset="0.9899" stop-color="#0015ff"/><stop offset="0.9933" stop-color="#0002ff"/><stop offset="1.0000" stop-color="#0000ff"/></linearGradient><linearGradient id="g61" gradientUnits="userSpaceOnUse" x1="0" y1="4" x2="0" y2="600"><stop offset="0.0000" stop-color="#0075ff"/><stop offset="0.0101" stop-color="#0075ff"/><stop offset="0.0772" stop-color="#0092ff"/><stop offset="0.2685" stop-color="#00eeff"/><stop offset="0.3322" stop-color="#43f3bc"/><stop offset="0.4279" stop-color="#96f968"/><stop offset="0.5654" stop-color="#f4ff0a"/><stop offset="0.6191" stop-color="#f7c508"/><stop offset="0.6779" stop-color="#f98c05"/><stop offset="0.7970" stop-color="#fd3802"/><stop offset="0.8372" stop-color="#fe2101"/><stop offset="0.8876" stop-color="#fd3802"/><stop offset="0.9044" stop-color="#fb5503"/><stop offset="0.9144" stop-color="#fa6e04"/><stop offset="0.9228" stop-color="#f98d06"/><stop offset="0.9279" stop-color="#f8a807"/><stop offset="0.9396" stop-color="#f4ff0a"/><stop offset="0.9648" stop-color="#07eff8"/><stop offset="0.9664" stop-color="#00eaff"/><stop offset="0.9681" stop-color="#00deff"/><stop offset="0.9715" stop-color="#00aeff"/><stop offset="0.9748" stop-color="#008bff"/><stop offset="0.9832" stop-color="#0046ff"/><stop offset="0.9899" stop-color="#0015ff"/><stop offset="0.9933" stop-color="#0002ff"/><stop offset="1.0000" stop-color="#0000ff"/></linearGradient><linearGradient id="g62" gradientUnits="userSpaceOnUse" x1="0" y1="4" x2="0" y2="600"><stop offset="0.0000" stop-color="#0078ff"/><stop offset="0.0101" stop-color="#0078ff"/><stop offset="0.0721" stop-color="#0092ff"/><stop offset="0.2617" stop-color="#00eeff"/><stop offset="0.3255" stop-color="#42f3bc"/><stop offset="0.4211" stop-color="#96f968"/><stop offset="0.5604" stop-color="#f4ff0a"/><stop offset="0.6141" stop-color="#f7c508"/><stop offset="0.6728" stop-color="#f98b05"/><stop offset="0.7936" stop-color="#fd3802"/><stop offset="0.8356" stop-color="#fe2001"/><stop offset="0.8876" stop-color="#fd3802"/><stop offset="0.9044" stop-color="#fb5503"/><stop offset="0.9144" stop-color="#fa6f04"/><stop offset="0.9228" stop-color="#f98e06"/><stop offset="0.9279" stop-color="#f8a907"/><stop offset="0.9396" stop-color="#f2ff0c"/><stop offset="0.9648" stop-color="#06eef8"/><stop offset="0.9664" stop-color="#00eaff"/><stop offset="0.9681" stop-color="#00deff"/><stop offset="0.9715" stop-color="#00aeff"/><stop offset="0.9748" stop-color="#008aff"/><stop offset="0.9832" stop-color="#0046ff"/><stop offset="0.9899" stop-color="#0015ff"/><stop offset="0.9933" stop-color="#0002ff"/><stop offset="1.0000" stop-color="#0000ff"/></linearGradient><linearGradient id="g63" gradientUnits="userSpaceOnUse" x1="0" y1="4" x2="0" y2="600"><stop offset="0.0000" stop-color="#007bff"/><stop offset="0.0101" stop-color="#007bff"/><stop offset="0.0654" stop-color="#0092ff"/><stop offset="0.2550" stop-color="#00eeff"/><stop offset="0.3205" stop-color="#44f3bb"/><stop offset="0.4144" stop-color="#96f968"/><stop offset="0.5537" stop-color="#f3ff0b"/><stop offset="0.6661" stop-color="#f98c05"/><stop offset="0.7903" stop-color="#fd3802"/><stop offset="0.8356" stop-color="#fe1e01"/><stop offset="0.8876" stop-color="#fd3802"/><stop offset="0.9044" stop-color="#fb5603"/><stop offset="0.9144" stop-color="#fa6f04"/><stop offset="0.9228" stop-color="#f98f06"/><stop offset="0.9279" stop-color="#f8aa07"/><stop offset="0.9379" stop-color="#f5f30a"/><stop offset="0.9396" stop-color="#f0ff0e"/><stop offset="0.9648" stop-color="#06eef9"/><stop offset="0.9664" stop-color="#00eaff"/><stop offset="0.9681" stop-color="#00deff"/><stop offset="0.9715" stop-color="#00adff"/><stop offset="0.9748" stop-color="#008aff"/><stop offset="0.9832" stop-color="#0046ff"/><stop offset="0.9899" stop-color="#0015ff"/><stop offset="0.9933" stop-color="#0002ff"/><stop offset="1.0000" stop-color="#0000ff"/></linearGradient><linearGradient id="g64" gradientUnits="userSpaceOnUse" x1="0" y1="4" x2="0" y2="600"><stop offset="0.0000" stop-color="#007eff"/><stop offset="0.0101" stop-color="#007eff"/><stop offset="0.0587" stop-color="#0092ff"/><stop offset="0.2483" stop-color="#00eeff"/><stop offset="0.3138" stop-color="#43f3bb"/><stop offset="0.4077" stop-color="#96f968"/><stop offset="0.5487" stop-color="#f4ff0a"/><stop offset="0.6611" stop-color="#f98b05"/><stop offset="0.8339" stop-color="#fe1c01"/><stop offset="0.8859" stop-color="#fd3702"/><stop offset="0.9027" stop-color="#fb5303"/><stop offset="0.9144" stop-color="#fa7004"/><stop offset="0.9228" stop-color="#f99006"/><stop offset="0.9279" stop-color="#f8ac07"/><stop offset="0.9379" stop-color="#f4f50a"/><stop offset="0.9396" stop-color="#efff0f"/><stop offset="0.9648" stop-color="#05eefa"/><stop offset="0.9664" stop-color="#00eaff"/><stop offset="0.9681" stop-color="#00deff"/><stop offset="0.9715" stop-color="#00adff"/><stop offset="0.9748" stop-color="#008aff"/><stop offset="0.9832" stop-color="#0046ff"/><stop offset="0.9899" stop-color="#0015ff"/><stop offset="0.9933" stop-color="#0002ff"/><stop offset="1.0000" stop-color="#0000ff"/></linearGradient><linearGradient id="g65" gradientUnits="userSpaceOnUse" x1="0" y1="4" x2="0" y2="600"><stop offset="0.0000" stop-color="#0081ff"/><stop offset="0.0101" stop-color="#0081ff"/><stop offset="0.0537" stop-color="#0092ff"/><stop offset="0.2433" stop-color="#01eefe"/><stop offset="0.3070" stop-color="#43f3bb"/><stop offset="0.4010" stop-color="#96f968"/><stop offset="0.5436" stop-color="#f4ff0a"/><stop offset="0.6544" stop-color="#f98c05"/><stop offset="0.8339" stop-color="#fe1b01"/><stop offset="0.8574" stop-color="#fd2501"/><stop offset="0.8859" stop-color="#fd3702"/><stop offset="0.9027" stop-color="#fb5303"/><stop offset="0.9144" stop-color="#fa7104"/><stop offset="0.9211" stop-color="#f98905"/><stop offset="0.9279" stop-color="#f8ad07"/><stop offset="0.9379" stop-color="#f4f60a"/><stop offset="0.9396" stop-color="#edff11"/><stop offset="0.9648" stop-color="#05eefa"/><stop offset="0.9664" stop-color="#00eaff"/><stop offset="0.9681" stop-color="#00ddff"/><stop offset="0.9715" stop-color="#00adff"/><stop offset="0.9748" stop-color="#008aff"/><stop offset="0.9832" stop-color="#0045ff"/><stop offset="0.9899" stop-color="#0015ff"/><stop offset="0.9933" stop-color="#0002ff"/><stop offset="1.0000" stop-color="#0000ff"/></linearGradient><linearGradient id="g66" gradientUnits="userSpaceOnUse" x1="0" y1="4" x2="0" y2="600"><stop offset="0.0000" stop-color="#0084ff"/><stop offset="0.0101" stop-color="#0084ff"/><stop offset="0.0470" stop-color="#0092ff"/><stop offset="0.2366" stop-color="#00eeff"/><stop offset="0.3003" stop-color="#43f3bc"/><stop offset="0.3943" stop-color="#96f968"/><stop offset="0.5369" stop-color="#f3ff0b"/><stop offset="0.6493" stop-color="#f98c05"/><stop offset="0.8238" stop-color="#fe1d01"/><stop offset="0.8322" stop-color="#fe1a01"/><stop offset="0.8490" stop-color="#fe1c01"/><stop offset="0.8859" stop-color="#fd3702"/><stop offset="0.9027" stop-color="#fb5303"/><stop offset="0.9144" stop-color="#fa7104"/><stop offset="0.9211" stop-color="#f98a05"/><stop offset="0.9279" stop-color="#f7af07"/><stop offset="0.9379" stop-color="#f4f70a"/><stop offset="0.9396" stop-color="#ecfe12"/><stop offset="0.9648" stop-color="#04eefb"/><stop offset="0.9664" stop-color="#00e9ff"/><stop offset="0.9681" stop-color="#00ddff"/><stop offset="0.9715" stop-color="#00adff"/><stop offset="0.9748" stop-color="#008aff"/><stop offset="0.9832" stop-color="#0045ff"/><stop offset="0.9899" stop-color="#0015ff"/><stop offset="0.9933" stop-color="#0002ff"/><stop offset="1.0000" stop-color="#0000ff"/></linearGradient><linearGradient id="g67" gradientUnits="userSpaceOnUse" x1="0" y1="4" x2="0" y2="600"><stop offset="0.0000" stop-color="#0086ff"/><stop offset="0.0084" stop-color="#0086ff"/><stop offset="0.0419" stop-color="#0092ff"/><stop offset="0.2315" stop-color="#00eeff"/><stop offset="0.2953" stop-color="#43f3bc"/><stop offset="0.3893" stop-color="#95f969"/><stop offset="0.5336" stop-color="#f4ff0a"/><stop offset="0.6460" stop-color="#f98b05"/><stop offset="0.7097" stop-color="#fb6104"/><stop offset="0.8221" stop-color="#fe1c01"/><stop offset="0.8322" stop-color="#fe1901"/><stop offset="0.8557" stop-color="#fe1c01"/><stop offset="0.8876" stop-color="#fd3902"/><stop offset="0.9027" stop-color="#fb5403"/><stop offset="0.9128" stop-color="#fa6d04"/><stop offset="0.9211" stop-color="#f98b05"/><stop offset="0.9262" stop-color="#f8a506"/><stop offset="0.9379" stop-color="#f4f80a"/><stop offset="0.9396" stop-color="#eafe14"/><stop offset="0.9648" stop-color="#03eefc"/><stop offset="0.9664" stop-color="#00e9ff"/><stop offset="0.9681" stop-color="#00ddff"/><stop offset="0.9715" stop-color="#00adff"/><stop offset="0.9748" stop-color="#008aff"/><stop offset="0.9832" stop-color="#0045ff"/><stop offset="0.9899" stop-color="#0015ff"/><stop offset="0.9933" stop-color="#0002ff"/><stop offset="1.0000" stop-color="#0000ff"/></linearGradient><linearGradient id="g68" gradientUnits="userSpaceOnUse" x1="0" y1="4" x2="0" y2="600"><stop offset="0.0000" stop-color="#0088ff"/><stop offset="0.0352" stop-color="#0092ff"/><stop offset="0.2265" stop-color="#01eefe"/><stop offset="0.2903" stop-color="#43f3bc"/><stop offset="0.3842" stop-color="#95f969"/><stop offset="0.5285" stop-color="#f4ff0a"/><stop offset="0.6409" stop-color="#f98c05"/><stop offset="0.7248" stop-color="#fb5403"/><stop offset="0.8305" stop-color="#fe1801"/><stop offset="0.8574" stop-color="#fe1d01"/><stop offset="0.8876" stop-color="#fd3902"/><stop offset="0.9027" stop-color="#fb5403"/><stop offset="0.9128" stop-color="#fa6e04"/><stop offset="0.9211" stop-color="#f98c05"/><stop offset="0.9262" stop-color="#f8a607"/><stop offset="0.9379" stop-color="#f4fa0a"/><stop offset="0.9396" stop-color="#e8fe16"/><stop offset="0.9648" stop-color="#03eefc"/><stop offset="0.9664" stop-color="#00e9ff"/><stop offset="0.9681" stop-color="#00ddff"/><stop offset="0.9715" stop-color="#00adff"/><stop offset="0.9748" stop-color="#008aff"/><stop offset="0.9832" stop-color="#0045ff"/><stop offset="0.9899" stop-color="#0015ff"/><stop offset="0.9933" stop-color="#0002ff"/><stop offset="1.0000" stop-color="#0000ff"/></linearGradient><linearGradient id="g69" gradientUnits="userSpaceOnUse" x1="0" y1="4" x2="0" y2="600"><stop offset="0.0000" stop-color="#008aff"/><stop offset="0.0285" stop-color="#0092ff"/><stop offset="0.1091" stop-color="#00b6ff"/><stop offset="0.1795" stop-color="#00dcff"/><stop offset="0.2215" stop-color="#01eefe"/><stop offset="0.2852" stop-color="#43f3bc"/><stop offset="0.3792" stop-color="#95f969"/><stop offset="0.5235" stop-color="#f3ff0b"/><stop offset="0.6376" stop-color="#f98b05"/><stop offset="0.7198" stop-color="#fb5403"/><stop offset="0.8305" stop-color="#fe1701"/><stop offset="0.8591" stop-color="#fe1d01"/><stop offset="0.8859" stop-color="#fd3702"/><stop offset="0.9027" stop-color="#fb5403"/><stop offset="0.9128" stop-color="#fa6e04"/><stop offset="0.9211" stop-color="#f98d06"/><stop offset="0.9262" stop-color="#f8a707"/><stop offset="0.9379" stop-color="#f4fb0a"/><stop offset="0.9396" stop-color="#e7fe17"/><stop offset="0.9648" stop-color="#02eefd"/><stop offset="0.9664" stop-color="#00e9ff"/><stop offset="0.9681" stop-color="#00dcff"/><stop offset="0.9715" stop-color="#00adff"/><stop offset="0.9748" stop-color="#008aff"/><stop offset="0.9832" stop-color="#0045ff"/><stop offset="0.9899" stop-color="#0014ff"/><stop offset="0.9933" stop-color="#0002ff"/><stop offset="1.0000" stop-color="#0000ff"/></linearGradient><linearGradient id="g70" gradientUnits="userSpaceOnUse" x1="0" y1="4" x2="0" y2="600"><stop offset="0.0000" stop-color="#008cff"/><stop offset="0.0235" stop-color="#0092ff"/><stop offset="0.1040" stop-color="#00b6ff"/><stop offset="0.1745" stop-color="#00dcff"/><stop offset="0.2148" stop-color="#00eeff"/><stop offset="0.2802" stop-color="#43f3bc"/><stop offset="0.3742" stop-color="#95f969"/><stop offset="0.5185" stop-color="#f3ff0b"/><stop offset="0.6326" stop-color="#f98b05"/><stop offset="0.7148" stop-color="#fb5403"/><stop offset="0.8305" stop-color="#fe1601"/><stop offset="0.8591" stop-color="#fe1c01"/><stop offset="0.8859" stop-color="#fd3702"/><stop offset="0.9027" stop-color="#fb5503"/><stop offset="0.9128" stop-color="#fa6f04"/><stop offset="0.9211" stop-color="#f98e06"/><stop offset="0.9262" stop-color="#f8a807"/><stop offset="0.9379" stop-color="#f4fe0a"/><stop offset="0.9396" stop-color="#e5fe19"/><stop offset="0.9648" stop-color="#01eefe"/><stop offset="0.9664" stop-color="#00e8ff"/><stop offset="0.9681" stop-color="#00dcff"/><stop offset="0.9715" stop-color="#00adff"/><stop offset="0.9748" stop-color="#008aff"/><stop offset="0.9832" stop-color="#0045ff"/><stop offset="0.9899" stop-color="#0014ff"/><stop offset="0.9933" stop-color="#0002ff"/><stop offset="1.0000" stop-color="#0000ff"/></linearGradient><linearGradient id="g71" gradientUnits="userSpaceOnUse" x1="0" y1="4" x2="0" y2="600"><stop offset="0.0000" stop-color="#008fff"/><stop offset="0.0168" stop-color="#0092ff"/><stop offset="0.0990" stop-color="#00b6ff"/><stop offset="0.1695" stop-color="#00dcff"/><stop offset="0.2097" stop-color="#00eeff"/><stop offset="0.2752" stop-color="#43f3bb"/><stop offset="0.3691" stop-color="#95f969"/><stop offset="0.5151" stop-color="#f4ff0a"/><stop offset="0.5705" stop-color="#f7c308"/><stop offset="0.6292" stop-color="#f98b05"/><stop offset="0.7097" stop-color="#fb5403"/><stop offset="0.8289" stop-color="#fe1501"/><stop offset="0.8607" stop-color="#fe1c01"/><stop offset="0.8859" stop-color="#fd3702"/><stop offset="0.9027" stop-color="#fb5603"/><stop offset="0.9128" stop-color="#fa6f04"/><stop offset="0.9211" stop-color="#f98f06"/><stop offset="0.9262" stop-color="#f8aa07"/><stop offset="0.9379" stop-color="#f3ff0b"/><stop offset="0.9648" stop-color="#01eefe"/><stop offset="0.9664" stop-color="#00e8ff"/><stop offset="0.9681" stop-color="#00dcff"/><stop offset="0.9715" stop-color="#00acff"/><stop offset="0.9748" stop-color="#008aff"/><stop offset="0.9832" stop-color="#0045ff"/><stop offset="0.9899" stop-color="#0014ff"/><stop offset="0.9933" stop-color="#0002ff"/><stop offset="1.0000" stop-color="#0000ff"/></linearGradient><linearGradient id="g72" gradientUnits="userSpaceOnUse" x1="0" y1="4" x2="0" y2="600"><stop offset="0.0000" stop-color="#0091ff"/><stop offset="0.0117" stop-color="#0092ff"/><stop offset="0.0940" stop-color="#00b6ff"/><stop offset="0.1644" stop-color="#00ddff"/><stop offset="0.2047" stop-color="#00eeff"/><stop offset="0.2701" stop-color="#43f3bb"/><stop offset="0.3658" stop-color="#96f968"/><stop offset="0.5101" stop-color="#f4ff0a"/><stop offset="0.5654" stop-color="#f7c408"/><stop offset="0.6242" stop-color="#f98b05"/><stop offset="0.7047" stop-color="#fb5403"/><stop offset="0.8289" stop-color="#fe1501"/><stop offset="0.8607" stop-color="#fe1c01"/><stop offset="0.8859" stop-color="#fd3702"/><stop offset="0.9010" stop-color="#fb5203"/><stop offset="0.9128" stop-color="#fa7004"/><stop offset="0.9211" stop-color="#f99006"/><stop offset="0.9262" stop-color="#f8ab07"/><stop offset="0.9379" stop-color="#f1ff0d"/><stop offset="0.9648" stop-color="#00eeff"/><stop offset="0.9664" stop-color="#00e8ff"/><stop offset="0.9681" stop-color="#00dcff"/><stop offset="0.9715" stop-color="#00acff"/><stop offset="0.9748" stop-color="#008aff"/><stop offset="0.9832" stop-color="#0045ff"/><stop offset="0.9899" stop-color="#0014ff"/><stop offset="0.9933" stop-color="#0002ff"/><stop offset="1.0000" stop-color="#0000ff"/></linearGradient><linearGradient id="g73" gradientUnits="userSpaceOnUse" x1="0" y1="4" x2="0" y2="600"><stop offset="0.0000" stop-color="#0094ff"/><stop offset="0.0084" stop-color="#0094ff"/><stop offset="0.0889" stop-color="#00b6ff"/><stop offset="0.1594" stop-color="#00ddff"/><stop offset="0.1997" stop-color="#00eeff"/><stop offset="0.2651" stop-color="#43f3bb"/><stop offset="0.3607" stop-color="#96f968"/><stop offset="0.5050" stop-color="#f3ff0b"/><stop offset="0.5604" stop-color="#f7c408"/><stop offset="0.6191" stop-color="#f98c05"/><stop offset="0.6544" stop-color="#fa7204"/><stop offset="0.6997" stop-color="#fb5403"/><stop offset="0.8272" stop-color="#fe1401"/><stop offset="0.8607" stop-color="#fe1c01"/><stop offset="0.8859" stop-color="#fd3702"/><stop offset="0.9010" stop-color="#fb5303"/><stop offset="0.9128" stop-color="#fa7104"/><stop offset="0.9211" stop-color="#f99206"/><stop offset="0.9262" stop-color="#f8ac07"/><stop offset="0.9362" stop-color="#f4f40a"/><stop offset="0.9379" stop-color="#f0ff0e"/><stop offset="0.9648" stop-color="#00eeff"/><stop offset="0.9664" stop-color="#00e8ff"/><stop offset="0.9681" stop-color="#00dcff"/><stop offset="0.9715" stop-color="#00acff"/><stop offset="0.9748" stop-color="#0089ff"/><stop offset="0.9832" stop-color="#0045ff"/><stop offset="0.9899" stop-color="#0014ff"/><stop offset="0.9933" stop-color="#0002ff"/><stop offset="1.0000" stop-color="#0000ff"/></linearGradient><linearGradient id="g74" gradientUnits="userSpaceOnUse" x1="0" y1="4" x2="0" y2="600"><stop offset="0.0000" stop-color="#0097ff"/><stop offset="0.0084" stop-color="#0097ff"/><stop offset="0.0839" stop-color="#00b6ff"/><stop offset="0.1544" stop-color="#00ddff"/><stop offset="0.1946" stop-color="#00eeff"/><stop offset="0.2601" stop-color="#43f3bb"/><stop offset="0.3557" stop-color="#95f969"/><stop offset="0.5000" stop-color="#f3ff0b"/><stop offset="0.5554" stop-color="#f7c408"/><stop offset="0.6141" stop-color="#f98c06"/><stop offset="0.6527" stop-color="#fa7004"/><stop offset="0.6946" stop-color="#fb5303"/><stop offset="0.8272" stop-color="#fe1301"/><stop offset="0.8624" stop-color="#fe1d01"/><stop offset="0.8859" stop-color="#fd3702"/><stop offset="0.9010" stop-color="#fb5303"/><stop offset="0.9128" stop-color="#fa7204"/><stop offset="0.9195" stop-color="#f98b05"/><stop offset="0.9262" stop-color="#f8ae07"/><stop offset="0.9362" stop-color="#f4f50a"/><stop offset="0.9379" stop-color="#eeff10"/><stop offset="0.9648" stop-color="#00edff"/><stop offset="0.9664" stop-color="#00e7ff"/><stop offset="0.9681" stop-color="#00dbff"/><stop offset="0.9715" stop-color="#00acff"/><stop offset="0.9748" stop-color="#0089ff"/><stop offset="0.9832" stop-color="#0045ff"/><stop offset="0.9899" stop-color="#0014ff"/><stop offset="0.9933" stop-color="#0002ff"/><stop offset="1.0000" stop-color="#0000ff"/></linearGradient><linearGradient id="g75" gradientUnits="userSpaceOnUse" x1="0" y1="4" x2="0" y2="600"><stop offset="0.0000" stop-color="#009aff"/><stop offset="0.0084" stop-color="#009aff"/><stop offset="0.0789" stop-color="#00b6ff"/><stop offset="0.1477" stop-color="#00dcff"/><stop offset="0.1896" stop-color="#00eeff"/><stop offset="0.2668" stop-color="#4ef4b0"/><stop offset="0.3507" stop-color="#95f969"/><stop offset="0.4966" stop-color="#f4ff0a"/><stop offset="0.5520" stop-color="#f7c208"/><stop offset="0.6107" stop-color="#f98c05"/><stop offset="0.6477" stop-color="#fa7004"/><stop offset="0.6896" stop-color="#fb5303"/><stop offset="0.8272" stop-color="#fe1201"/><stop offset="0.8624" stop-color="#fe1d01"/><stop offset="0.8859" stop-color="#fd3702"/><stop offset="0.9010" stop-color="#fb5303"/><stop offset="0.9111" stop-color="#fa6d04"/><stop offset="0.9195" stop-color="#f98b05"/><stop offset="0.9262" stop-color="#f7af07"/><stop offset="0.9362" stop-color="#f4f60a"/><stop offset="0.9379" stop-color="#edff11"/><stop offset="0.9648" stop-color="#00edff"/><stop offset="0.9664" stop-color="#00e7ff"/><stop offset="0.9681" stop-color="#00dbff"/><stop offset="0.9715" stop-color="#00acff"/><stop offset="0.9748" stop-color="#0089ff"/><stop offset="0.9832" stop-color="#0045ff"/><stop offset="0.9899" stop-color="#0014ff"/><stop offset="0.9933" stop-color="#0002ff"/><stop offset="1.0000" stop-color="#0000ff"/></linearGradient><linearGradient id="g76" gradientUnits="userSpaceOnUse" x1="0" y1="4" x2="0" y2="600"><stop offset="0.0000" stop-color="#009dff"/><stop offset="0.0084" stop-color="#009dff"/><stop offset="0.0738" stop-color="#00b6ff"/><stop offset="0.1426" stop-color="#00dcff"/><stop offset="0.1846" stop-color="#00eeff"/><stop offset="0.2768" stop-color="#5cf5a2"/><stop offset="0.3456" stop-color="#95f969"/><stop offset="0.4916" stop-color="#f4ff0a"/><stop offset="0.5470" stop-color="#f7c308"/><stop offset="0.6057" stop-color="#f98c06"/><stop offset="0.6426" stop-color="#fa7004"/><stop offset="0.6829" stop-color="#fb5403"/><stop offset="0.8255" stop-color="#fe1101"/><stop offset="0.8624" stop-color="#fe1d01"/><stop offset="0.8859" stop-color="#fd3702"/><stop offset="0.9010" stop-color="#fb5403"/><stop offset="0.9111" stop-color="#fa6e04"/><stop offset="0.9195" stop-color="#f98c06"/><stop offset="0.9245" stop-color="#f8a606"/><stop offset="0.9362" stop-color="#f4f80a"/><stop offset="0.9379" stop-color="#ebfe13"/><stop offset="0.9648" stop-color="#00edff"/><stop offset="0.9664" stop-color="#00e7ff"/><stop offset="0.9681" stop-color="#00dbff"/><stop offset="0.9715" stop-color="#00acff"/><stop offset="0.9748" stop-color="#0089ff"/><stop offset="0.9832" stop-color="#0045ff"/><stop offset="0.9899" stop-color="#0014ff"/><stop offset="0.9933" stop-color="#0002ff"/><stop offset="1.0000" stop-color="#0000ff"/></linearGradient><linearGradient id="g77" gradientUnits="userSpaceOnUse" x1="0" y1="4" x2="0" y2="600"><stop offset="0.0000" stop-color="#00a0ff"/><stop offset="0.0185" stop-color="#00a3ff"/><stop offset="0.0688" stop-color="#00b6ff"/><stop offset="0.1376" stop-color="#00dcff"/><stop offset="0.1795" stop-color="#00eeff"/><stop offset="0.2735" stop-color="#5ef5a0"/><stop offset="0.3406" stop-color="#95f969"/><stop offset="0.4866" stop-color="#f4ff0a"/><stop offset="0.5419" stop-color="#f7c308"/><stop offset="0.6023" stop-color="#f98b05"/><stop offset="0.6577" stop-color="#fb6204"/><stop offset="0.6779" stop-color="#fb5403"/><stop offset="0.8255" stop-color="#fe1001"/><stop offset="0.8624" stop-color="#fe1c01"/><stop offset="0.8859" stop-color="#fd3702"/><stop offset="0.9010" stop-color="#fb5403"/><stop offset="0.9111" stop-color="#fa6f04"/><stop offset="0.9195" stop-color="#f98e06"/><stop offset="0.9245" stop-color="#f8a607"/><stop offset="0.9362" stop-color="#f4f90a"/><stop offset="0.9379" stop-color="#eafe14"/><stop offset="0.9631" stop-color="#0ceff3"/><stop offset="0.9648" stop-color="#00edff"/><stop offset="0.9664" stop-color="#00e7ff"/><stop offset="0.9681" stop-color="#00dbff"/><stop offset="0.9715" stop-color="#00acff"/><stop offset="0.9748" stop-color="#0089ff"/><stop offset="0.9832" stop-color="#0045ff"/><stop offset="0.9899" stop-color="#0014ff"/><stop offset="0.9933" stop-color="#0002ff"/><stop offset="1.0000" stop-color="#0000ff"/></linearGradient><linearGradient id="g78" gradientUnits="userSpaceOnUse" x1="0" y1="4" x2="0" y2="600"><stop offset="0.0000" stop-color="#00a3ff"/><stop offset="0.0319" stop-color="#00a9ff"/><stop offset="0.0638" stop-color="#00b6ff"/><stop offset="0.1326" stop-color="#00dcff"/><stop offset="0.1745" stop-color="#00eeff"/><stop offset="0.2685" stop-color="#5ff5a0"/><stop offset="0.3356" stop-color="#95f969"/><stop offset="0.4815" stop-color="#f3ff0b"/><stop offset="0.5352" stop-color="#f7c508"/><stop offset="0.5973" stop-color="#f98c05"/><stop offset="0.6711" stop-color="#fb5503"/><stop offset="0.8238" stop-color="#fe0f01"/><stop offset="0.8624" stop-color="#fe1c01"/><stop offset="0.8859" stop-color="#fd3702"/><stop offset="0.8993" stop-color="#fb5103"/><stop offset="0.9111" stop-color="#fa6f04"/><stop offset="0.9195" stop-color="#f98f06"/><stop offset="0.9245" stop-color="#f8a707"/><stop offset="0.9362" stop-color="#f4fa0a"/><stop offset="0.9379" stop-color="#e8fe16"/><stop offset="0.9631" stop-color="#0beff4"/><stop offset="0.9648" stop-color="#00ecff"/><stop offset="0.9664" stop-color="#00e6ff"/><stop offset="0.9681" stop-color="#00daff"/><stop offset="0.9715" stop-color="#00abff"/><stop offset="0.9748" stop-color="#0089ff"/><stop offset="0.9832" stop-color="#0045ff"/><stop offset="0.9899" stop-color="#0014ff"/><stop offset="0.9933" stop-color="#0002ff"/><stop offset="1.0000" stop-color="#0000ff"/></linearGradient><linearGradient id="g79" gradientUnits="userSpaceOnUse" x1="0" y1="4" x2="0" y2="600"><stop offset="0.0000" stop-color="#00a6ff"/><stop offset="0.0268" stop-color="#00a9ff"/><stop offset="0.0587" stop-color="#00b6ff"/><stop offset="0.1275" stop-color="#00dcff"/><stop offset="0.1695" stop-color="#00eeff"/><stop offset="0.2617" stop-color="#5df5a1"/><stop offset="0.3322" stop-color="#96f968"/><stop offset="0.4782" stop-color="#f4ff0a"/><stop offset="0.5319" stop-color="#f7c308"/><stop offset="0.5940" stop-color="#f98b05"/><stop offset="0.6661" stop-color="#fb5503"/><stop offset="0.8238" stop-color="#fe0e01"/><stop offset="0.8624" stop-color="#fe1c01"/><stop offset="0.8859" stop-color="#fd3702"/><stop offset="0.8993" stop-color="#fb5203"/><stop offset="0.9111" stop-color="#fa7004"/><stop offset="0.9195" stop-color="#f99006"/><stop offset="0.9245" stop-color="#f8a907"/><stop offset="0.9362" stop-color="#f4fc0a"/><stop offset="0.9379" stop-color="#e7fe17"/><stop offset="0.9631" stop-color="#09eff6"/><stop offset="0.9648" stop-color="#00ecff"/><stop offset="0.9664" stop-color="#00e6ff"/><stop offset="0.9681" stop-color="#00daff"/><stop offset="0.9715" stop-color="#00abff"/><stop offset="0.9748" stop-color="#0089ff"/><stop offset="0.9832" stop-color="#0045ff"/><stop offset="0.9899" stop-color="#0014ff"/><stop offset="0.9933" stop-color="#0002ff"/><stop offset="1.0000" stop-color="#0000ff"/></linearGradient><linearGradient id="g80" gradientUnits="userSpaceOnUse" x1="0" y1="4" x2="0" y2="600"><stop offset="0.0000" stop-color="#00a7ff"/><stop offset="0.0218" stop-color="#00a9ff"/><stop offset="0.0235" stop-color="#00adff"/><stop offset="0.0537" stop-color="#00b6ff"/><stop offset="0.1225" stop-color="#00dcff"/><stop offset="0.1644" stop-color="#01eefe"/><stop offset="0.2584" stop-color="#5ff5a0"/><stop offset="0.3272" stop-color="#96f968"/><stop offset="0.4732" stop-color="#f4ff0a"/><stop offset="0.5285" stop-color="#f7c208"/><stop offset="0.5889" stop-color="#f98c05"/><stop offset="0.6628" stop-color="#fb5403"/><stop offset="0.8221" stop-color="#fe0d01"/><stop offset="0.8624" stop-color="#fe1c01"/><stop offset="0.8859" stop-color="#fd3702"/><stop offset="0.8993" stop-color="#fb5203"/><stop offset="0.9111" stop-color="#fa7104"/><stop offset="0.9195" stop-color="#f99106"/><stop offset="0.9245" stop-color="#f8aa07"/><stop offset="0.9329" stop-color="#f5e309"/><stop offset="0.9362" stop-color="#f4fe0a"/><stop offset="0.9379" stop-color="#e5fe19"/><stop offset="0.9631" stop-color="#05eefa"/><stop offset="0.9648" stop-color="#00eaff"/><stop offset="0.9664" stop-color="#00e4ff"/><stop offset="0.9681" stop-color="#00d8ff"/><stop offset="0.9715" stop-color="#00aaff"/><stop offset="0.9748" stop-color="#0088ff"/><stop offset="0.9832" stop-color="#0044ff"/><stop offset="0.9899" stop-color="#0014ff"/><stop offset="0.9933" stop-color="#0002ff"/><stop offset="1.0000" stop-color="#0000ff"/></linearGradient><linearGradient id="g81" gradientUnits="userSpaceOnUse" x1="0" y1="4" x2="0" y2="600"><stop offset="0.0000" stop-color="#00a7ff"/><stop offset="0.0117" stop-color="#00a8ff"/><stop offset="0.0151" stop-color="#00acff"/><stop offset="0.0487" stop-color="#00b6ff"/><stop offset="0.1174" stop-color="#00dcff"/><stop offset="0.1594" stop-color="#01eefe"/><stop offset="0.2534" stop-color="#5ef5a0"/><stop offset="0.3221" stop-color="#96f968"/><stop offset="0.4681" stop-color="#f3ff0b"/><stop offset="0.5235" stop-color="#f7c308"/><stop offset="0.5839" stop-color="#f98c06"/><stop offset="0.6577" stop-color="#fb5403"/><stop offset="0.7148" stop-color="#fd3802"/><stop offset="0.8221" stop-color="#fe0d00"/><stop offset="0.8624" stop-color="#fe1c01"/><stop offset="0.8859" stop-color="#fd3702"/><stop offset="0.8993" stop-color="#fb5203"/><stop offset="0.9111" stop-color="#fa7104"/><stop offset="0.9195" stop-color="#f99206"/><stop offset="0.9245" stop-color="#f8ab07"/><stop offset="0.9329" stop-color="#f5e409"/><stop offset="0.9362" stop-color="#f3ff0b"/><stop offset="0.9631" stop-color="#01eefe"/><stop offset="0.9664" stop-color="#00e2ff"/><stop offset="0.9681" stop-color="#00d6ff"/><stop offset="0.9698" stop-color="#00bdff"/><stop offset="0.9715" stop-color="#00a9ff"/><stop offset="0.9748" stop-color="#0087ff"/><stop offset="0.9832" stop-color="#0044ff"/><stop offset="0.9899" stop-color="#0014ff"/><stop offset="0.9933" stop-color="#0002ff"/><stop offset="1.0000" stop-color="#0000ff"/></linearGradient><linearGradient id="g82" gradientUnits="userSpaceOnUse" x1="0" y1="4" x2="0" y2="600"><stop offset="0.0000" stop-color="#00a7ff"/><stop offset="0.0134" stop-color="#00afff"/><stop offset="0.0470" stop-color="#00b8ff"/><stop offset="0.0487" stop-color="#00bcff"/><stop offset="0.0554" stop-color="#00bcff"/><stop offset="0.0570" stop-color="#00c0ff"/><stop offset="0.1124" stop-color="#00ddff"/><stop offset="0.1527" stop-color="#00eeff"/><stop offset="0.2483" stop-color="#5ef5a0"/><stop offset="0.3171" stop-color="#95f969"/><stop offset="0.4648" stop-color="#f4ff0a"/><stop offset="0.5201" stop-color="#f7c208"/><stop offset="0.5805" stop-color="#f98b05"/><stop offset="0.6527" stop-color="#fb5403"/><stop offset="0.7097" stop-color="#fd3802"/><stop offset="0.7852" stop-color="#fe1c01"/><stop offset="0.8205" stop-color="#fe0c00"/><stop offset="0.8624" stop-color="#fe1c01"/><stop offset="0.8859" stop-color="#fd3702"/><stop offset="0.8993" stop-color="#fb5303"/><stop offset="0.9094" stop-color="#fa6d04"/><stop offset="0.9178" stop-color="#f98b05"/><stop offset="0.9245" stop-color="#f8ad07"/><stop offset="0.9329" stop-color="#f5e509"/><stop offset="0.9362" stop-color="#f2ff0c"/><stop offset="0.9614" stop-color="#0ceff3"/><stop offset="0.9631" stop-color="#00edff"/><stop offset="0.9664" stop-color="#00e0ff"/><stop offset="0.9681" stop-color="#00d4ff"/><stop offset="0.9698" stop-color="#00bbff"/><stop offset="0.9715" stop-color="#00a7ff"/><stop offset="0.9748" stop-color="#0086ff"/><stop offset="0.9832" stop-color="#0044ff"/><stop offset="0.9899" stop-color="#0014ff"/><stop offset="0.9933" stop-color="#0002ff"/><stop offset="1.0000" stop-color="#0000ff"/></linearGradient><linearGradient id="g83" gradientUnits="userSpaceOnUse" x1="0" y1="4" x2="0" y2="600"><stop offset="0.0000" stop-color="#00acff"/><stop offset="0.0268" stop-color="#00b5ff"/><stop offset="0.0285" stop-color="#00b8ff"/><stop offset="0.0369" stop-color="#00b8ff"/><stop offset="0.0386" stop-color="#00bcff"/><stop offset="0.0453" stop-color="#00bcff"/><stop offset="0.0470" stop-color="#00c0ff"/><stop offset="0.0537" stop-color="#00c0ff"/><stop offset="0.0554" stop-color="#00c4ff"/><stop offset="0.0638" stop-color="#00c4ff"/><stop offset="0.0654" stop-color="#00c8ff"/><stop offset="0.0721" stop-color="#00c8ff"/><stop offset="0.0738" stop-color="#00ccff"/><stop offset="0.0755" stop-color="#00c9ff"/><stop offset="0.1057" stop-color="#00dcff"/><stop offset="0.1477" stop-color="#00eeff"/><stop offset="0.2148" stop-color="#44f3ba"/><stop offset="0.3121" stop-color="#95f969"/><stop offset="0.4597" stop-color="#f4ff0a"/><stop offset="0.5151" stop-color="#f7c308"/><stop offset="0.5755" stop-color="#f98c05"/><stop offset="0.6477" stop-color="#fb5403"/><stop offset="0.7030" stop-color="#fd3802"/><stop offset="0.7836" stop-color="#fe1c01"/><stop offset="0.8188" stop-color="#ff0b00"/><stop offset="0.8624" stop-color="#fe1c01"/><stop offset="0.8876" stop-color="#fc3a02"/><stop offset="0.8993" stop-color="#fb5303"/><stop offset="0.9094" stop-color="#fa6e04"/><stop offset="0.9178" stop-color="#f98c05"/><stop offset="0.9245" stop-color="#f7ae07"/><stop offset="0.9346" stop-color="#f5f30a"/><stop offset="0.9362" stop-color="#f1ff0d"/><stop offset="0.9614" stop-color="#08eff7"/><stop offset="0.9631" stop-color="#00ebff"/><stop offset="0.9664" stop-color="#00deff"/><stop offset="0.9681" stop-color="#00d2ff"/><stop offset="0.9698" stop-color="#00b9ff"/><stop offset="0.9732" stop-color="#0094ff"/><stop offset="0.9832" stop-color="#0043ff"/><stop offset="0.9899" stop-color="#0014ff"/><stop offset="0.9933" stop-color="#0002ff"/><stop offset="1.0000" stop-color="#0000ff"/></linearGradient><linearGradient id="g84" gradientUnits="userSpaceOnUse" x1="0" y1="4" x2="0" y2="600"><stop offset="0.0000" stop-color="#00b2ff"/><stop offset="0.0352" stop-color="#00bcff"/><stop offset="0.0369" stop-color="#00c0ff"/><stop offset="0.0520" stop-color="#00c4ff"/><stop offset="0.0537" stop-color="#00c8ff"/><stop offset="0.0621" stop-color="#00c8ff"/><stop offset="0.0638" stop-color="#00ccff"/><stop offset="0.0789" stop-color="#00d0ff"/><stop offset="0.0805" stop-color="#00d4ff"/><stop offset="0.0889" stop-color="#00d4ff"/><stop offset="0.0906" stop-color="#00d8ff"/><stop offset="0.0940" stop-color="#00d6ff"/><stop offset="0.1007" stop-color="#00dcff"/><stop offset="0.1426" stop-color="#00eeff"/><stop offset="0.2081" stop-color="#43f3bc"/><stop offset="0.3070" stop-color="#95f969"/><stop offset="0.4547" stop-color="#f4ff0a"/><stop offset="0.5101" stop-color="#f7c408"/><stop offset="0.5705" stop-color="#f98d06"/><stop offset="0.6426" stop-color="#fb5403"/><stop offset="0.6980" stop-color="#fd3802"/><stop offset="0.7802" stop-color="#fe1c01"/><stop offset="0.8188" stop-color="#ff0b00"/><stop offset="0.8624" stop-color="#fe1c01"/><stop offset="0.8876" stop-color="#fc3b02"/><stop offset="0.8993" stop-color="#fb5403"/><stop offset="0.9094" stop-color="#fa6e04"/><stop offset="0.9178" stop-color="#f98d06"/><stop offset="0.9245" stop-color="#f7af07"/><stop offset="0.9346" stop-color="#f4f30a"/><stop offset="0.9362" stop-color="#f0ff0e"/><stop offset="0.9614" stop-color="#04eefb"/><stop offset="0.9631" stop-color="#00e9ff"/><stop offset="0.9664" stop-color="#00dcff"/><stop offset="0.9681" stop-color="#00d0ff"/><stop offset="0.9698" stop-color="#00b8ff"/><stop offset="0.9732" stop-color="#0093ff"/><stop offset="0.9832" stop-color="#0043ff"/><stop offset="0.9899" stop-color="#0014ff"/><stop offset="0.9933" stop-color="#0002ff"/><stop offset="1.0000" stop-color="#0000ff"/></linearGradient><linearGradient id="g85" gradientUnits="userSpaceOnUse" x1="0" y1="4" x2="0" y2="600"><stop offset="0.0000" stop-color="#00b5ff"/><stop offset="0.0151" stop-color="#00b8ff"/><stop offset="0.0168" stop-color="#00bcff"/><stop offset="0.0235" stop-color="#00bcff"/><stop offset="0.0252" stop-color="#00c0ff"/><stop offset="0.0336" stop-color="#00c0ff"/><stop offset="0.0352" stop-color="#00c4ff"/><stop offset="0.0419" stop-color="#00c4ff"/><stop offset="0.0436" stop-color="#00c8ff"/><stop offset="0.0503" stop-color="#00c8ff"/><stop offset="0.0520" stop-color="#00ccff"/><stop offset="0.0604" stop-color="#00ccff"/><stop offset="0.0621" stop-color="#00d0ff"/><stop offset="0.0772" stop-color="#00d4ff"/><stop offset="0.0789" stop-color="#00d8ff"/><stop offset="0.0872" stop-color="#00d8ff"/><stop offset="0.0889" stop-color="#00dcff"/><stop offset="0.0973" stop-color="#00dcff"/><stop offset="0.0990" stop-color="#00e0ff"/><stop offset="0.1074" stop-color="#00e0ff"/><stop offset="0.1091" stop-color="#00e4ff"/><stop offset="0.1107" stop-color="#00dfff"/><stop offset="0.1141" stop-color="#00e4ff"/><stop offset="0.1376" stop-color="#00eeff"/><stop offset="0.2030" stop-color="#43f3bc"/><stop offset="0.3020" stop-color="#95f969"/><stop offset="0.4497" stop-color="#f3ff0b"/><stop offset="0.5067" stop-color="#f7c308"/><stop offset="0.5671" stop-color="#f98c05"/><stop offset="0.6393" stop-color="#fb5303"/><stop offset="0.6913" stop-color="#fd3802"/><stop offset="0.7768" stop-color="#fe1c01"/><stop offset="0.8171" stop-color="#ff0a00"/><stop offset="0.8641" stop-color="#fe1c01"/><stop offset="0.8876" stop-color="#fc3b02"/><stop offset="0.8993" stop-color="#fb5403"/><stop offset="0.9094" stop-color="#fa6f04"/><stop offset="0.9178" stop-color="#f98e06"/><stop offset="0.9228" stop-color="#f8a607"/><stop offset="0.9346" stop-color="#f4f40a"/><stop offset="0.9362" stop-color="#efff0f"/><stop offset="0.9614" stop-color="#00eeff"/><stop offset="0.9664" stop-color="#00dbff"/><stop offset="0.9681" stop-color="#00cfff"/><stop offset="0.9698" stop-color="#00b6ff"/><stop offset="0.9732" stop-color="#0092ff"/><stop offset="0.9832" stop-color="#0042ff"/><stop offset="0.9899" stop-color="#0013ff"/><stop offset="0.9933" stop-color="#0002ff"/><stop offset="1.0000" stop-color="#0000ff"/></linearGradient><linearGradient id="g86" gradientUnits="userSpaceOnUse" x1="0" y1="4" x2="0" y2="600"><stop offset="0.0000" stop-color="#00b8ff"/><stop offset="0.0218" stop-color="#00c0ff"/><stop offset="0.0235" stop-color="#00c4ff"/><stop offset="0.0319" stop-color="#00c4ff"/><stop offset="0.0336" stop-color="#00c8ff"/><stop offset="0.0403" stop-color="#00c8ff"/><stop offset="0.0419" stop-color="#00ccff"/><stop offset="0.0487" stop-color="#00ccff"/><stop offset="0.0503" stop-color="#00d0ff"/><stop offset="0.0587" stop-color="#00d0ff"/><stop offset="0.0604" stop-color="#00d4ff"/><stop offset="0.0671" stop-color="#00d4ff"/><stop offset="0.0688" stop-color="#00d8ff"/><stop offset="0.0755" stop-color="#00d8ff"/><stop offset="0.0772" stop-color="#00dcff"/><stop offset="0.0872" stop-color="#00dcff"/><stop offset="0.0889" stop-color="#00e0ff"/><stop offset="0.0990" stop-color="#00e0ff"/><stop offset="0.1007" stop-color="#00e4ff"/><stop offset="0.1091" stop-color="#00e4ff"/><stop offset="0.1107" stop-color="#00e8ff"/><stop offset="0.1326" stop-color="#00eeff"/><stop offset="0.1980" stop-color="#43f3bc"/><stop offset="0.2987" stop-color="#96f968"/><stop offset="0.4463" stop-color="#f4ff0a"/><stop offset="0.5017" stop-color="#f7c408"/><stop offset="0.5319" stop-color="#f8a807"/><stop offset="0.6342" stop-color="#fb5403"/><stop offset="0.6862" stop-color="#fd3802"/><stop offset="0.7735" stop-color="#fe1c01"/><stop offset="0.8154" stop-color="#ff0900"/><stop offset="0.8641" stop-color="#fe1c01"/><stop offset="0.8876" stop-color="#fc3b02"/><stop offset="0.8993" stop-color="#fb5503"/><stop offset="0.9094" stop-color="#fa6f04"/><stop offset="0.9161" stop-color="#f98805"/><stop offset="0.9228" stop-color="#f8a707"/><stop offset="0.9346" stop-color="#f4f50a"/><stop offset="0.9362" stop-color="#edff11"/><stop offset="0.9597" stop-color="#0ceff3"/><stop offset="0.9614" stop-color="#00ecff"/><stop offset="0.9664" stop-color="#00d9ff"/><stop offset="0.9681" stop-color="#00cdff"/><stop offset="0.9698" stop-color="#00b5ff"/><stop offset="0.9732" stop-color="#0091ff"/><stop offset="0.9832" stop-color="#0042ff"/><stop offset="0.9899" stop-color="#0013ff"/><stop offset="0.9933" stop-color="#0002ff"/><stop offset="1.0000" stop-color="#0000ff"/></linearGradient><linearGradient id="g87" gradientUnits="userSpaceOnUse" x1="0" y1="4" x2="0" y2="600"><stop offset="0.0000" stop-color="#00bcff"/><stop offset="0.0117" stop-color="#00c0ff"/><stop offset="0.0134" stop-color="#00c4ff"/><stop offset="0.0201" stop-color="#00c4ff"/><stop offset="0.0218" stop-color="#00c8ff"/><stop offset="0.0386" stop-color="#00ccff"/><stop offset="0.0403" stop-color="#00d0ff"/><stop offset="0.0470" stop-color="#00d0ff"/><stop offset="0.0487" stop-color="#00d4ff"/><stop offset="0.0570" stop-color="#00d4ff"/><stop offset="0.0587" stop-color="#00d8ff"/><stop offset="0.0654" stop-color="#00d8ff"/><stop offset="0.0671" stop-color="#00dcff"/><stop offset="0.0789" stop-color="#00dcff"/><stop offset="0.0805" stop-color="#00e0ff"/><stop offset="0.0990" stop-color="#00e4ff"/><stop offset="0.1091" stop-color="#00ebff"/><stop offset="0.1292" stop-color="#03eefc"/><stop offset="0.1309" stop-color="#0ceff3"/><stop offset="0.1409" stop-color="#0ceff3"/><stop offset="0.1426" stop-color="#15f0ea"/><stop offset="0.1443" stop-color="#15f0ea"/><stop offset="0.1460" stop-color="#0eeff0"/><stop offset="0.1493" stop-color="#17f0e8"/><stop offset="0.1930" stop-color="#43f3bb"/><stop offset="0.2936" stop-color="#96f968"/><stop offset="0.4413" stop-color="#f4ff0a"/><stop offset="0.5285" stop-color="#f8a707"/><stop offset="0.6292" stop-color="#fb5403"/><stop offset="0.6795" stop-color="#fd3802"/><stop offset="0.7685" stop-color="#fe1c01"/><stop offset="0.8154" stop-color="#ff0900"/><stop offset="0.8641" stop-color="#fe1c01"/><stop offset="0.8859" stop-color="#fd3802"/><stop offset="0.9077" stop-color="#fa6c04"/><stop offset="0.9161" stop-color="#f98905"/><stop offset="0.9228" stop-color="#f8a807"/><stop offset="0.9312" stop-color="#f5dd09"/><stop offset="0.9346" stop-color="#f4f60a"/><stop offset="0.9362" stop-color="#ecfe12"/><stop offset="0.9597" stop-color="#08eff7"/><stop offset="0.9614" stop-color="#00ebff"/><stop offset="0.9664" stop-color="#00d7ff"/><stop offset="0.9681" stop-color="#00cbff"/><stop offset="0.9698" stop-color="#00b3ff"/><stop offset="0.9732" stop-color="#0090ff"/><stop offset="0.9832" stop-color="#0042ff"/><stop offset="0.9899" stop-color="#0013ff"/><stop offset="0.9933" stop-color="#0002ff"/><stop offset="1.0000" stop-color="#0000ff"/></linearGradient><linearGradient id="g88" gradientUnits="userSpaceOnUse" x1="0" y1="4" x2="0" y2="600"><stop offset="0.0000" stop-color="#00c0ff"/><stop offset="0.0034" stop-color="#00c4ff"/><stop offset="0.0101" stop-color="#00c4ff"/><stop offset="0.0117" stop-color="#00c8ff"/><stop offset="0.0185" stop-color="#00c8ff"/><stop offset="0.0201" stop-color="#00ccff"/><stop offset="0.0285" stop-color="#00ccff"/><stop offset="0.0302" stop-color="#00d0ff"/><stop offset="0.0453" stop-color="#00d4ff"/><stop offset="0.0470" stop-color="#00d8ff"/><stop offset="0.0554" stop-color="#00d8ff"/><stop offset="0.0570" stop-color="#00dcff"/><stop offset="0.0688" stop-color="#00dcff"/><stop offset="0.0705" stop-color="#00e0ff"/><stop offset="0.0789" stop-color="#00e0ff"/><stop offset="0.0805" stop-color="#00e4ff"/><stop offset="0.0906" stop-color="#00e4ff"/><stop offset="0.0990" stop-color="#00ebff"/><stop offset="0.1191" stop-color="#03eefc"/><stop offset="0.1208" stop-color="#0ceff3"/><stop offset="0.1292" stop-color="#0ceff3"/><stop offset="0.1309" stop-color="#15f0ea"/><stop offset="0.1409" stop-color="#15f0ea"/><stop offset="0.1426" stop-color="#1ef0e1"/><stop offset="0.1527" stop-color="#1ef0e1"/><stop offset="0.1544" stop-color="#27f1d7"/><stop offset="0.1628" stop-color="#27f1d7"/><stop offset="0.1879" stop-color="#43f3bb"/><stop offset="0.2886" stop-color="#95f969"/><stop offset="0.4362" stop-color="#f3ff0b"/><stop offset="0.5235" stop-color="#f8a707"/><stop offset="0.6242" stop-color="#fb5403"/><stop offset="0.6745" stop-color="#fd3802"/><stop offset="0.7651" stop-color="#fe1c01"/><stop offset="0.8138" stop-color="#ff0800"/><stop offset="0.8641" stop-color="#fe1c01"/><stop offset="0.8859" stop-color="#fd3802"/><stop offset="0.9077" stop-color="#fa6c04"/><stop offset="0.9161" stop-color="#f98a05"/><stop offset="0.9228" stop-color="#f8a907"/><stop offset="0.9312" stop-color="#f5de09"/><stop offset="0.9346" stop-color="#f4f70a"/><stop offset="0.9362" stop-color="#ebfe13"/><stop offset="0.9597" stop-color="#05eef9"/><stop offset="0.9614" stop-color="#00eaff"/><stop offset="0.9664" stop-color="#00d5ff"/><stop offset="0.9681" stop-color="#00c9ff"/><stop offset="0.9698" stop-color="#00b2ff"/><stop offset="0.9732" stop-color="#0090ff"/><stop offset="0.9832" stop-color="#0041ff"/><stop offset="0.9899" stop-color="#0013ff"/><stop offset="0.9933" stop-color="#0002ff"/><stop offset="1.0000" stop-color="#0000ff"/></linearGradient><linearGradient id="g89" gradientUnits="userSpaceOnUse" x1="0" y1="4" x2="0" y2="600"><stop offset="0.0000" stop-color="#00c4ff"/><stop offset="0.0017" stop-color="#00c8ff"/><stop offset="0.0084" stop-color="#00c8ff"/><stop offset="0.0101" stop-color="#00ccff"/><stop offset="0.0168" stop-color="#00ccff"/><stop offset="0.0185" stop-color="#00d0ff"/><stop offset="0.0268" stop-color="#00d0ff"/><stop offset="0.0285" stop-color="#00d4ff"/><stop offset="0.0352" stop-color="#00d4ff"/><stop offset="0.0369" stop-color="#00d8ff"/><stop offset="0.0436" stop-color="#00d8ff"/><stop offset="0.0453" stop-color="#00dcff"/><stop offset="0.0604" stop-color="#00dcff"/><stop offset="0.0621" stop-color="#00e0ff"/><stop offset="0.0805" stop-color="#00e4ff"/><stop offset="0.0872" stop-color="#00ebff"/><stop offset="0.1074" stop-color="#03eefc"/><stop offset="0.1091" stop-color="#0ceff3"/><stop offset="0.1191" stop-color="#0ceff3"/><stop offset="0.1208" stop-color="#15f0ea"/><stop offset="0.1309" stop-color="#15f0ea"/><stop offset="0.1326" stop-color="#1ef0e1"/><stop offset="0.1426" stop-color="#1ef0e1"/><stop offset="0.1443" stop-color="#27f1d7"/><stop offset="0.1510" stop-color="#27f1d7"/><stop offset="0.1527" stop-color="#2ef1d0"/><stop offset="0.1594" stop-color="#2ef1d0"/><stop offset="0.1611" stop-color="#35f2c9"/><stop offset="0.1678" stop-color="#35f2c9"/><stop offset="0.1695" stop-color="#3cf2c2"/><stop offset="0.1779" stop-color="#3cf2c2"/><stop offset="0.1795" stop-color="#43f3bc"/><stop offset="0.1812" stop-color="#42f3bd"/><stop offset="0.2836" stop-color="#95f969"/><stop offset="0.4329" stop-color="#f4ff0a"/><stop offset="0.5185" stop-color="#f8a807"/><stop offset="0.6208" stop-color="#fb5303"/><stop offset="0.6678" stop-color="#fd3802"/><stop offset="0.7617" stop-color="#fe1c01"/><stop offset="0.8121" stop-color="#ff0700"/><stop offset="0.8641" stop-color="#fe1c01"/><stop offset="0.8859" stop-color="#fd3802"/><stop offset="0.9077" stop-color="#fa6d04"/><stop offset="0.9161" stop-color="#f98b05"/><stop offset="0.9228" stop-color="#f8aa07"/><stop offset="0.9312" stop-color="#f5df09"/><stop offset="0.9346" stop-color="#f4f80a"/><stop offset="0.9362" stop-color="#eafe14"/><stop offset="0.9597" stop-color="#04eefb"/><stop offset="0.9614" stop-color="#00e9ff"/><stop offset="0.9664" stop-color="#00d5ff"/><stop offset="0.9681" stop-color="#00c9ff"/><stop offset="0.9698" stop-color="#00b2ff"/><stop offset="0.9732" stop-color="#008fff"/><stop offset="0.9832" stop-color="#0041ff"/><stop offset="0.9899" stop-color="#0013ff"/><stop offset="0.9933" stop-color="#0002ff"/><stop offset="1.0000" stop-color="#0000ff"/></linearGradient><linearGradient id="g90" gradientUnits="userSpaceOnUse" x1="0" y1="4" x2="0" y2="600"><stop offset="0.0000" stop-color="#00ccff"/><stop offset="0.0151" stop-color="#00d0ff"/><stop offset="0.0168" stop-color="#00d4ff"/><stop offset="0.0252" stop-color="#00d4ff"/><stop offset="0.0268" stop-color="#00d8ff"/><stop offset="0.0336" stop-color="#00d8ff"/><stop offset="0.0352" stop-color="#00dcff"/><stop offset="0.0503" stop-color="#00dcff"/><stop offset="0.0520" stop-color="#00e0ff"/><stop offset="0.0705" stop-color="#00e4ff"/><stop offset="0.0772" stop-color="#00ebff"/><stop offset="0.0973" stop-color="#03eefc"/><stop offset="0.0990" stop-color="#0ceff3"/><stop offset="0.1091" stop-color="#0ceff3"/><stop offset="0.1107" stop-color="#15f0ea"/><stop offset="0.1208" stop-color="#15f0ea"/><stop offset="0.1225" stop-color="#1ef0e1"/><stop offset="0.1309" stop-color="#1ef0e1"/><stop offset="0.1326" stop-color="#27f1d7"/><stop offset="0.1376" stop-color="#27f1d7"/><stop offset="0.1393" stop-color="#2ef1d0"/><stop offset="0.1477" stop-color="#2ef1d0"/><stop offset="0.1493" stop-color="#35f2c9"/><stop offset="0.1560" stop-color="#35f2c9"/><stop offset="0.1577" stop-color="#3cf2c2"/><stop offset="0.1661" stop-color="#3cf2c2"/><stop offset="0.1678" stop-color="#43f3bc"/><stop offset="0.1779" stop-color="#43f3bc"/><stop offset="0.1795" stop-color="#4af3b5"/><stop offset="0.1879" stop-color="#4af3b5"/><stop offset="0.1896" stop-color="#51f4ae"/><stop offset="0.1980" stop-color="#51f4ae"/><stop offset="0.1997" stop-color="#58f4a7"/><stop offset="0.2785" stop-color="#95f969"/><stop offset="0.4279" stop-color="#f4ff0a"/><stop offset="0.5151" stop-color="#f8a707"/><stop offset="0.6158" stop-color="#fb5303"/><stop offset="0.6628" stop-color="#fd3802"/><stop offset="0.7567" stop-color="#fe1c01"/><stop offset="0.8121" stop-color="#ff0700"/><stop offset="0.8641" stop-color="#fe1c01"/><stop offset="0.8859" stop-color="#fd3802"/><stop offset="0.9077" stop-color="#fa6d04"/><stop offset="0.9161" stop-color="#f98b05"/><stop offset="0.9228" stop-color="#f8ac07"/><stop offset="0.9312" stop-color="#f5e009"/><stop offset="0.9346" stop-color="#f4f90a"/><stop offset="0.9362" stop-color="#e8fe16"/><stop offset="0.9597" stop-color="#02eefd"/><stop offset="0.9664" stop-color="#00d4ff"/><stop offset="0.9681" stop-color="#00c8ff"/><stop offset="0.9698" stop-color="#00b1ff"/><stop offset="0.9732" stop-color="#008fff"/><stop offset="0.9832" stop-color="#0041ff"/><stop offset="0.9899" stop-color="#0013ff"/><stop offset="0.9933" stop-color="#0002ff"/><stop offset="1.0000" stop-color="#0000ff"/></linearGradient><linearGradient id="g91" gradientUnits="userSpaceOnUse" x1="0" y1="4" x2="0" y2="600"><stop offset="0.0000" stop-color="#00d0ff"/><stop offset="0.0134" stop-color="#00d4ff"/><stop offset="0.0151" stop-color="#00d8ff"/><stop offset="0.0235" stop-color="#00d8ff"/><stop offset="0.0252" stop-color="#00dcff"/><stop offset="0.0403" stop-color="#00dcff"/><stop offset="0.0419" stop-color="#00e0ff"/><stop offset="0.0621" stop-color="#00e4ff"/><stop offset="0.0654" stop-color="#00ebff"/><stop offset="0.0856" stop-color="#03eefc"/><stop offset="0.0872" stop-color="#0ceff3"/><stop offset="0.0990" stop-color="#0ceff3"/><stop offset="0.1007" stop-color="#15f0ea"/><stop offset="0.1091" stop-color="#15f0ea"/><stop offset="0.1107" stop-color="#1ef0e1"/><stop offset="0.1208" stop-color="#1ef0e1"/><stop offset="0.1225" stop-color="#27f1d7"/><stop offset="0.1258" stop-color="#27f1d7"/><stop offset="0.1275" stop-color="#2ef1d0"/><stop offset="0.1359" stop-color="#2ef1d0"/><stop offset="0.1376" stop-color="#35f2c9"/><stop offset="0.1443" stop-color="#35f2c9"/><stop offset="0.1460" stop-color="#3cf2c2"/><stop offset="0.1527" stop-color="#3cf2c2"/><stop offset="0.1544" stop-color="#43f3bc"/><stop offset="0.1695" stop-color="#43f3bc"/><stop offset="0.1711" stop-color="#4af3b5"/><stop offset="0.1795" stop-color="#4af3b5"/><stop offset="0.1812" stop-color="#51f4ae"/><stop offset="0.1879" stop-color="#51f4ae"/><stop offset="0.1896" stop-color="#58f4a7"/><stop offset="0.1980" stop-color="#58f4a7"/><stop offset="0.1997" stop-color="#5ef5a0"/><stop offset="0.2081" stop-color="#5ef5a0"/><stop offset="0.2097" stop-color="#65f599"/><stop offset="0.2181" stop-color="#65f599"/><stop offset="0.2215" stop-color="#6bf693"/><stop offset="0.2752" stop-color="#96f968"/><stop offset="0.4228" stop-color="#f4ff0a"/><stop offset="0.5101" stop-color="#f8a707"/><stop offset="0.6107" stop-color="#fb5303"/><stop offset="0.6560" stop-color="#fd3802"/><stop offset="0.7534" stop-color="#fe1c01"/><stop offset="0.8104" stop-color="#ff0600"/><stop offset="0.8641" stop-color="#fe1c01"/><stop offset="0.8859" stop-color="#fd3802"/><stop offset="0.9077" stop-color="#fa6e04"/><stop offset="0.9161" stop-color="#f98c06"/><stop offset="0.9228" stop-color="#f8ad07"/><stop offset="0.9312" stop-color="#f5e009"/><stop offset="0.9346" stop-color="#f4fa0a"/><stop offset="0.9362" stop-color="#e7fe17"/><stop offset="0.9597" stop-color="#01eefe"/><stop offset="0.9664" stop-color="#00d3ff"/><stop offset="0.9681" stop-color="#00c7ff"/><stop offset="0.9698" stop-color="#00b1ff"/><stop offset="0.9732" stop-color="#008fff"/><stop offset="0.9832" stop-color="#0041ff"/><stop offset="0.9899" stop-color="#0013ff"/><stop offset="0.9933" stop-color="#0002ff"/><stop offset="1.0000" stop-color="#0000ff"/></linearGradient><linearGradient id="g92" gradientUnits="userSpaceOnUse" x1="0" y1="4" x2="0" y2="600"><stop offset="0.0000" stop-color="#00d4ff"/><stop offset="0.0117" stop-color="#00d8ff"/><stop offset="0.0134" stop-color="#00dcff"/><stop offset="0.0319" stop-color="#00dcff"/><stop offset="0.0336" stop-color="#00e0ff"/><stop offset="0.0520" stop-color="#00e4ff"/><stop offset="0.0554" stop-color="#00ebff"/><stop offset="0.0755" stop-color="#03eefc"/><stop offset="0.0772" stop-color="#0ceff3"/><stop offset="0.0889" stop-color="#0ceff3"/><stop offset="0.0906" stop-color="#15f0ea"/><stop offset="0.0990" stop-color="#15f0ea"/><stop offset="0.1007" stop-color="#1ef0e1"/><stop offset="0.1107" stop-color="#1ef0e1"/><stop offset="0.1124" stop-color="#27f1d7"/><stop offset="0.1141" stop-color="#27f1d7"/><stop offset="0.1158" stop-color="#2ef1d0"/><stop offset="0.1225" stop-color="#2ef1d0"/><stop offset="0.1242" stop-color="#35f2c9"/><stop offset="0.1326" stop-color="#35f2c9"/><stop offset="0.1342" stop-color="#3cf2c2"/><stop offset="0.1409" stop-color="#3cf2c2"/><stop offset="0.1426" stop-color="#43f3bc"/><stop offset="0.1611" stop-color="#43f3bc"/><stop offset="0.1628" stop-color="#4af3b5"/><stop offset="0.1695" stop-color="#4af3b5"/><stop offset="0.1711" stop-color="#51f4ae"/><stop offset="0.1795" stop-color="#51f4ae"/><stop offset="0.1812" stop-color="#58f4a7"/><stop offset="0.1896" stop-color="#58f4a7"/><stop offset="0.1913" stop-color="#5ef5a0"/><stop offset="0.1980" stop-color="#5ef5a0"/><stop offset="0.1997" stop-color="#65f599"/><stop offset="0.2081" stop-color="#65f599"/><stop offset="0.2097" stop-color="#6cf692"/><stop offset="0.2181" stop-color="#6cf692"/><stop offset="0.2198" stop-color="#73f68b"/><stop offset="0.2282" stop-color="#73f68b"/><stop offset="0.2299" stop-color="#7af784"/><stop offset="0.2366" stop-color="#7af784"/><stop offset="0.2383" stop-color="#7ff77f"/><stop offset="0.2399" stop-color="#7ef780"/><stop offset="0.2936" stop-color="#a6fa58"/><stop offset="0.4178" stop-color="#f3ff0b"/><stop offset="0.5050" stop-color="#f8a807"/><stop offset="0.6091" stop-color="#fb5203"/><stop offset="0.6510" stop-color="#fd3802"/><stop offset="0.7500" stop-color="#fe1c01"/><stop offset="0.8104" stop-color="#ff0600"/><stop offset="0.8641" stop-color="#fe1c01"/><stop offset="0.8859" stop-color="#fd3802"/><stop offset="0.9077" stop-color="#fa6e04"/><stop offset="0.9161" stop-color="#f98d06"/><stop offset="0.9228" stop-color="#f7ae07"/><stop offset="0.9312" stop-color="#f5e109"/><stop offset="0.9346" stop-color="#f4fb0a"/><stop offset="0.9362" stop-color="#e6fe18"/><stop offset="0.9597" stop-color="#00eeff"/><stop offset="0.9664" stop-color="#00d3ff"/><stop offset="0.9681" stop-color="#00c7ff"/><stop offset="0.9698" stop-color="#00b1ff"/><stop offset="0.9732" stop-color="#008eff"/><stop offset="0.9832" stop-color="#0041ff"/><stop offset="0.9899" stop-color="#0013ff"/><stop offset="0.9933" stop-color="#0002ff"/><stop offset="1.0000" stop-color="#0000ff"/></linearGradient><linearGradient id="g93" gradientUnits="userSpaceOnUse" x1="0" y1="4" x2="0" y2="600"><stop offset="0.0000" stop-color="#00d8ff"/><stop offset="0.0034" stop-color="#00dcff"/><stop offset="0.0218" stop-color="#00dcff"/><stop offset="0.0235" stop-color="#00e0ff"/><stop offset="0.0419" stop-color="#00e4ff"/><stop offset="0.0436" stop-color="#00ebff"/><stop offset="0.0638" stop-color="#03eefc"/><stop offset="0.0654" stop-color="#0ceff3"/><stop offset="0.0772" stop-color="#0ceff3"/><stop offset="0.0789" stop-color="#15f0ea"/><stop offset="0.0889" stop-color="#15f0ea"/><stop offset="0.0906" stop-color="#1ef0e1"/><stop offset="0.1007" stop-color="#1ef0e1"/><stop offset="0.1040" stop-color="#2ef1d0"/><stop offset="0.1107" stop-color="#2ef1d0"/><stop offset="0.1124" stop-color="#35f2c9"/><stop offset="0.1208" stop-color="#35f2c9"/><stop offset="0.1225" stop-color="#3cf2c2"/><stop offset="0.1292" stop-color="#3cf2c2"/><stop offset="0.1309" stop-color="#43f3bc"/><stop offset="0.1527" stop-color="#43f3bc"/><stop offset="0.1544" stop-color="#4af3b5"/><stop offset="0.1611" stop-color="#4af3b5"/><stop offset="0.1628" stop-color="#51f4ae"/><stop offset="0.1711" stop-color="#51f4ae"/><stop offset="0.1728" stop-color="#58f4a7"/><stop offset="0.1812" stop-color="#58f4a7"/><stop offset="0.1829" stop-color="#5ef5a0"/><stop offset="0.1896" stop-color="#5ef5a0"/><stop offset="0.1913" stop-color="#65f599"/><stop offset="0.1997" stop-color="#65f599"/><stop offset="0.2013" stop-color="#6cf692"/><stop offset="0.2097" stop-color="#6cf692"/><stop offset="0.2114" stop-color="#73f68b"/><stop offset="0.2198" stop-color="#73f68b"/><stop offset="0.2215" stop-color="#7af784"/><stop offset="0.2366" stop-color="#7ff77f"/><stop offset="0.2383" stop-color="#85f879"/><stop offset="0.2433" stop-color="#85f879"/><stop offset="0.2450" stop-color="#8af874"/><stop offset="0.2534" stop-color="#8af874"/><stop offset="0.2550" stop-color="#90f86e"/><stop offset="0.3037" stop-color="#b0fb4e"/><stop offset="0.4144" stop-color="#f4ff0a"/><stop offset="0.5000" stop-color="#f8a907"/><stop offset="0.5319" stop-color="#f98c06"/><stop offset="0.5721" stop-color="#fa6f04"/><stop offset="0.6023" stop-color="#fb5403"/><stop offset="0.6460" stop-color="#fd3802"/><stop offset="0.7450" stop-color="#fe1c01"/><stop offset="0.8087" stop-color="#ff0500"/><stop offset="0.8641" stop-color="#fe1c01"/><stop offset="0.8859" stop-color="#fd3802"/><stop offset="0.9077" stop-color="#fa6f04"/><stop offset="0.9144" stop-color="#f98805"/><stop offset="0.9228" stop-color="#f7af07"/><stop offset="0.9312" stop-color="#f5e209"/><stop offset="0.9346" stop-color="#f4fc0a"/><stop offset="0.9362" stop-color="#e5fe19"/><stop offset="0.9597" stop-color="#00edff"/><stop offset="0.9664" stop-color="#00d2ff"/><stop offset="0.9681" stop-color="#00c6ff"/><stop offset="0.9698" stop-color="#00b0ff"/><stop offset="0.9732" stop-color="#008eff"/><stop offset="0.9832" stop-color="#0041ff"/><stop offset="0.9899" stop-color="#0013ff"/><stop offset="0.9933" stop-color="#0002ff"/><stop offset="1.0000" stop-color="#0000ff"/></linearGradient><linearGradient id="g94" gradientUnits="userSpaceOnUse" x1="0" y1="4" x2="0" y2="600"><stop offset="0.0000" stop-color="#00dcff"/><stop offset="0.0134" stop-color="#00dcff"/><stop offset="0.0151" stop-color="#00e0ff"/><stop offset="0.0319" stop-color="#00e4ff"/><stop offset="0.0336" stop-color="#00ebff"/><stop offset="0.0537" stop-color="#03eefc"/><stop offset="0.0554" stop-color="#0ceff3"/><stop offset="0.0671" stop-color="#0ceff3"/><stop offset="0.0688" stop-color="#15f0ea"/><stop offset="0.0789" stop-color="#15f0ea"/><stop offset="0.0805" stop-color="#1ef0e1"/><stop offset="0.0889" stop-color="#1ef0e1"/><stop offset="0.0923" stop-color="#2ef1d0"/><stop offset="0.0990" stop-color="#2ef1d0"/><stop offset="0.1007" stop-color="#35f2c9"/><stop offset="0.1091" stop-color="#35f2c9"/><stop offset="0.1107" stop-color="#3cf2c2"/><stop offset="0.1174" stop-color="#3cf2c2"/><stop offset="0.1191" stop-color="#43f3bc"/><stop offset="0.1426" stop-color="#43f3bc"/><stop offset="0.1443" stop-color="#4af3b5"/><stop offset="0.1527" stop-color="#4af3b5"/><stop offset="0.1544" stop-color="#51f4ae"/><stop offset="0.1628" stop-color="#51f4ae"/><stop offset="0.1644" stop-color="#58f4a7"/><stop offset="0.1728" stop-color="#58f4a7"/><stop offset="0.1745" stop-color="#5ef5a0"/><stop offset="0.1812" stop-color="#5ef5a0"/><stop offset="0.1829" stop-color="#65f599"/><stop offset="0.1913" stop-color="#65f599"/><stop offset="0.1930" stop-color="#6cf692"/><stop offset="0.1997" stop-color="#6cf692"/><stop offset="0.2013" stop-color="#73f68b"/><stop offset="0.2097" stop-color="#73f68b"/><stop offset="0.2114" stop-color="#7af784"/><stop offset="0.2265" stop-color="#7ff77f"/><stop offset="0.2282" stop-color="#85f879"/><stop offset="0.2332" stop-color="#85f879"/><stop offset="0.2349" stop-color="#8af874"/><stop offset="0.2433" stop-color="#8af874"/><stop offset="0.2450" stop-color="#90f86e"/><stop offset="0.2517" stop-color="#90f86e"/><stop offset="0.2534" stop-color="#95f969"/><stop offset="0.2617" stop-color="#95f969"/><stop offset="0.2634" stop-color="#9bf963"/><stop offset="0.2701" stop-color="#9bf963"/><stop offset="0.2718" stop-color="#a0fa5e"/><stop offset="0.2785" stop-color="#a0fa5e"/><stop offset="0.3003" stop-color="#b2fb4c"/><stop offset="0.4094" stop-color="#f4ff0a"/><stop offset="0.5285" stop-color="#f98c05"/><stop offset="0.6007" stop-color="#fb5303"/><stop offset="0.6426" stop-color="#fd3802"/><stop offset="0.7416" stop-color="#fe1c01"/><stop offset="0.8070" stop-color="#ff0500"/><stop offset="0.8641" stop-color="#fe1c01"/><stop offset="0.8859" stop-color="#fd3802"/><stop offset="0.9077" stop-color="#fa7004"/><stop offset="0.9144" stop-color="#f98905"/><stop offset="0.9228" stop-color="#f7b007"/><stop offset="0.9312" stop-color="#f5e309"/><stop offset="0.9346" stop-color="#f4ff0a"/><stop offset="0.9581" stop-color="#0deff2"/><stop offset="0.9597" stop-color="#00ecff"/><stop offset="0.9664" stop-color="#00d1ff"/><stop offset="0.9681" stop-color="#00c5ff"/><stop offset="0.9698" stop-color="#00b0ff"/><stop offset="0.9732" stop-color="#008eff"/><stop offset="0.9832" stop-color="#0041ff"/><stop offset="0.9899" stop-color="#0013ff"/><stop offset="0.9933" stop-color="#0002ff"/><stop offset="1.0000" stop-color="#0000ff"/></linearGradient><linearGradient id="g95" gradientUnits="userSpaceOnUse" x1="0" y1="4" x2="0" y2="600"><stop offset="0.0000" stop-color="#00dcff"/><stop offset="0.0218" stop-color="#00e4ff"/><stop offset="0.0235" stop-color="#00ebff"/><stop offset="0.0419" stop-color="#03eefc"/><stop offset="0.0436" stop-color="#0ceff3"/><stop offset="0.0570" stop-color="#0ceff3"/><stop offset="0.0587" stop-color="#15f0ea"/><stop offset="0.0688" stop-color="#15f0ea"/><stop offset="0.0705" stop-color="#1ef0e1"/><stop offset="0.0789" stop-color="#1ef0e1"/><stop offset="0.0805" stop-color="#2ef1d0"/><stop offset="0.0872" stop-color="#2ef1d0"/><stop offset="0.0889" stop-color="#35f2c9"/><stop offset="0.0956" stop-color="#35f2c9"/><stop offset="0.0973" stop-color="#3cf2c2"/><stop offset="0.1057" stop-color="#3cf2c2"/><stop offset="0.1074" stop-color="#43f3bc"/><stop offset="0.1342" stop-color="#43f3bc"/><stop offset="0.1359" stop-color="#4af3b5"/><stop offset="0.1443" stop-color="#4af3b5"/><stop offset="0.1460" stop-color="#51f4ae"/><stop offset="0.1544" stop-color="#51f4ae"/><stop offset="0.1560" stop-color="#58f4a7"/><stop offset="0.1628" stop-color="#58f4a7"/><stop offset="0.1644" stop-color="#5ef5a0"/><stop offset="0.1711" stop-color="#5ef5a0"/><stop offset="0.1728" stop-color="#65f599"/><stop offset="0.1812" stop-color="#65f599"/><stop offset="0.1829" stop-color="#6cf692"/><stop offset="0.1913" stop-color="#6cf692"/><stop offset="0.1930" stop-color="#73f68b"/><stop offset="0.2013" stop-color="#73f68b"/><stop offset="0.2030" stop-color="#7af784"/><stop offset="0.2081" stop-color="#7af784"/><stop offset="0.2097" stop-color="#7ff77f"/><stop offset="0.2164" stop-color="#7ff77f"/><stop offset="0.2181" stop-color="#85f879"/><stop offset="0.2232" stop-color="#85f879"/><stop offset="0.2248" stop-color="#8af874"/><stop offset="0.2332" stop-color="#8af874"/><stop offset="0.2349" stop-color="#90f86e"/><stop offset="0.2416" stop-color="#90f86e"/><stop offset="0.2433" stop-color="#95f969"/><stop offset="0.2534" stop-color="#95f969"/><stop offset="0.2550" stop-color="#9bf963"/><stop offset="0.2701" stop-color="#a0fa5e"/><stop offset="0.2718" stop-color="#a6fa58"/><stop offset="0.2802" stop-color="#a6fa58"/><stop offset="0.2819" stop-color="#abfa53"/><stop offset="0.2886" stop-color="#abfa53"/><stop offset="0.2903" stop-color="#b1fb4d"/><stop offset="0.2970" stop-color="#b1fb4d"/><stop offset="0.2987" stop-color="#b6fb48"/><stop offset="0.3020" stop-color="#b4fb4a"/><stop offset="0.4044" stop-color="#f4ff0a"/><stop offset="0.5252" stop-color="#f98b05"/><stop offset="0.5973" stop-color="#fb5303"/><stop offset="0.6393" stop-color="#fd3802"/><stop offset="0.8070" stop-color="#ff0400"/><stop offset="0.8641" stop-color="#fe1c01"/><stop offset="0.8859" stop-color="#fd3802"/><stop offset="0.9077" stop-color="#fa7104"/><stop offset="0.9144" stop-color="#f98905"/><stop offset="0.9211" stop-color="#f8a707"/><stop offset="0.9312" stop-color="#f5e409"/><stop offset="0.9346" stop-color="#f3ff0b"/><stop offset="0.9581" stop-color="#0beff4"/><stop offset="0.9597" stop-color="#00ecff"/><stop offset="0.9664" stop-color="#00d1ff"/><stop offset="0.9681" stop-color="#00c5ff"/><stop offset="0.9698" stop-color="#00afff"/><stop offset="0.9732" stop-color="#008eff"/><stop offset="0.9832" stop-color="#0040ff"/><stop offset="0.9899" stop-color="#0013ff"/><stop offset="0.9933" stop-color="#0002ff"/><stop offset="1.0000" stop-color="#0000ff"/></linearGradient><linearGradient id="g96" gradientUnits="userSpaceOnUse" x1="0" y1="4" x2="0" y2="600"><stop offset="0.0000" stop-color="#00e0ff"/><stop offset="0.0117" stop-color="#00e4ff"/><stop offset="0.0134" stop-color="#00ebff"/><stop offset="0.0319" stop-color="#03eefc"/><stop offset="0.0336" stop-color="#0ceff3"/><stop offset="0.0470" stop-color="#0ceff3"/><stop offset="0.0487" stop-color="#15f0ea"/><stop offset="0.0570" stop-color="#15f0ea"/><stop offset="0.0587" stop-color="#1ef0e1"/><stop offset="0.0671" stop-color="#1ef0e1"/><stop offset="0.0688" stop-color="#2ef1d0"/><stop offset="0.0755" stop-color="#2ef1d0"/><stop offset="0.0772" stop-color="#35f2c9"/><stop offset="0.0839" stop-color="#35f2c9"/><stop offset="0.0856" stop-color="#3cf2c2"/><stop offset="0.0940" stop-color="#3cf2c2"/><stop offset="0.0956" stop-color="#43f3bc"/><stop offset="0.1258" stop-color="#43f3bc"/><stop offset="0.1275" stop-color="#4af3b5"/><stop offset="0.1359" stop-color="#4af3b5"/><stop offset="0.1376" stop-color="#51f4ae"/><stop offset="0.1460" stop-color="#51f4ae"/><stop offset="0.1477" stop-color="#58f4a7"/><stop offset="0.1544" stop-color="#58f4a7"/><stop offset="0.1560" stop-color="#5ef5a0"/><stop offset="0.1628" stop-color="#5ef5a0"/><stop offset="0.1644" stop-color="#65f599"/><stop offset="0.1728" stop-color="#65f599"/><stop offset="0.1745" stop-color="#6cf692"/><stop offset="0.1829" stop-color="#6cf692"/><stop offset="0.1846" stop-color="#73f68b"/><stop offset="0.1930" stop-color="#73f68b"/><stop offset="0.1946" stop-color="#7af784"/><stop offset="0.1980" stop-color="#7af784"/><stop offset="0.1997" stop-color="#7ff77f"/><stop offset="0.2064" stop-color="#7ff77f"/><stop offset="0.2081" stop-color="#85f879"/><stop offset="0.2131" stop-color="#85f879"/><stop offset="0.2148" stop-color="#8af874"/><stop offset="0.2232" stop-color="#8af874"/><stop offset="0.2248" stop-color="#90f86e"/><stop offset="0.2315" stop-color="#90f86e"/><stop offset="0.2332" stop-color="#95f969"/><stop offset="0.2450" stop-color="#95f969"/><stop offset="0.2466" stop-color="#9bf963"/><stop offset="0.2534" stop-color="#9bf963"/><stop offset="0.2550" stop-color="#a0fa5e"/><stop offset="0.2634" stop-color="#a0fa5e"/><stop offset="0.2651" stop-color="#a6fa58"/><stop offset="0.2802" stop-color="#abfa53"/><stop offset="0.2819" stop-color="#b1fb4d"/><stop offset="0.2970" stop-color="#b6fb48"/><stop offset="0.2987" stop-color="#bafb44"/><stop offset="0.3054" stop-color="#bafb44"/><stop offset="0.3070" stop-color="#bffc3f"/><stop offset="0.3138" stop-color="#bffc3f"/><stop offset="0.3154" stop-color="#c3fc3b"/><stop offset="0.3221" stop-color="#c3fc3b"/><stop offset="0.3238" stop-color="#c8fc36"/><stop offset="0.3993" stop-color="#f3ff0b"/><stop offset="0.5201" stop-color="#f98c05"/><stop offset="0.5940" stop-color="#fb5403"/><stop offset="0.6359" stop-color="#fd3902"/><stop offset="0.8054" stop-color="#ff0400"/><stop offset="0.8641" stop-color="#fe1c01"/><stop offset="0.8859" stop-color="#fd3802"/><stop offset="0.9060" stop-color="#fa6c04"/><stop offset="0.9144" stop-color="#f98a05"/><stop offset="0.9211" stop-color="#f8a807"/><stop offset="0.9295" stop-color="#f6da09"/><stop offset="0.9346" stop-color="#f2ff0c"/><stop offset="0.9581" stop-color="#09eff5"/><stop offset="0.9597" stop-color="#00ebff"/><stop offset="0.9664" stop-color="#00d0ff"/><stop offset="0.9681" stop-color="#00c4ff"/><stop offset="0.9698" stop-color="#00afff"/><stop offset="0.9732" stop-color="#008dff"/><stop offset="0.9832" stop-color="#0040ff"/><stop offset="0.9899" stop-color="#0013ff"/><stop offset="0.9933" stop-color="#0002ff"/><stop offset="1.0000" stop-color="#0000ff"/></linearGradient><linearGradient id="g97" gradientUnits="userSpaceOnUse" x1="0" y1="4" x2="0" y2="600"><stop offset="0.0000" stop-color="#00e4ff"/><stop offset="0.0017" stop-color="#00e4ff"/><stop offset="0.0034" stop-color="#00ebff"/><stop offset="0.0117" stop-color="#03eefc"/><stop offset="0.0201" stop-color="#03eefc"/><stop offset="0.0218" stop-color="#0ceff3"/><stop offset="0.0352" stop-color="#0ceff3"/><stop offset="0.0369" stop-color="#15f0ea"/><stop offset="0.0470" stop-color="#15f0ea"/><stop offset="0.0487" stop-color="#1ef0e1"/><stop offset="0.0570" stop-color="#1ef0e1"/><stop offset="0.0587" stop-color="#2ef1d0"/><stop offset="0.0638" stop-color="#2ef1d0"/><stop offset="0.0654" stop-color="#35f2c9"/><stop offset="0.0721" stop-color="#35f2c9"/><stop offset="0.0738" stop-color="#3cf2c2"/><stop offset="0.0805" stop-color="#3cf2c2"/><stop offset="0.0822" stop-color="#43f3bc"/><stop offset="0.1174" stop-color="#43f3bc"/><stop offset="0.1191" stop-color="#4af3b5"/><stop offset="0.1275" stop-color="#4af3b5"/><stop offset="0.1292" stop-color="#51f4ae"/><stop offset="0.1359" stop-color="#51f4ae"/><stop offset="0.1376" stop-color="#58f4a7"/><stop offset="0.1460" stop-color="#58f4a7"/><stop offset="0.1477" stop-color="#5ef5a0"/><stop offset="0.1527" stop-color="#5ef5a0"/><stop offset="0.1544" stop-color="#65f599"/><stop offset="0.1628" stop-color="#65f599"/><stop offset="0.1644" stop-color="#6cf692"/><stop offset="0.1728" stop-color="#6cf692"/><stop offset="0.1745" stop-color="#73f68b"/><stop offset="0.1829" stop-color="#73f68b"/><stop offset="0.1846" stop-color="#7af784"/><stop offset="0.1879" stop-color="#7af784"/><stop offset="0.1896" stop-color="#7ff77f"/><stop offset="0.1963" stop-color="#7ff77f"/><stop offset="0.1980" stop-color="#85f879"/><stop offset="0.2030" stop-color="#85f879"/><stop offset="0.2047" stop-color="#8af874"/><stop offset="0.2131" stop-color="#8af874"/><stop offset="0.2148" stop-color="#90f86e"/><stop offset="0.2215" stop-color="#90f86e"/><stop offset="0.2232" stop-color="#95f969"/><stop offset="0.2366" stop-color="#95f969"/><stop offset="0.2383" stop-color="#9bf963"/><stop offset="0.2466" stop-color="#9bf963"/><stop offset="0.2483" stop-color="#a0fa5e"/><stop offset="0.2550" stop-color="#a0fa5e"/><stop offset="0.2567" stop-color="#a6fa58"/><stop offset="0.2718" stop-color="#abfa53"/><stop offset="0.2735" stop-color="#b1fb4d"/><stop offset="0.2886" stop-color="#b6fb48"/><stop offset="0.2903" stop-color="#bafb44"/><stop offset="0.2970" stop-color="#bafb44"/><stop offset="0.2987" stop-color="#bffc3f"/><stop offset="0.3138" stop-color="#c3fc3b"/><stop offset="0.3154" stop-color="#c8fc36"/><stop offset="0.3305" stop-color="#cdfc31"/><stop offset="0.3322" stop-color="#d1fd2d"/><stop offset="0.3389" stop-color="#d1fd2d"/><stop offset="0.3406" stop-color="#d6fd28"/><stop offset="0.3456" stop-color="#d6fd28"/><stop offset="0.3943" stop-color="#f3ff0b"/><stop offset="0.5168" stop-color="#f98c05"/><stop offset="0.5906" stop-color="#fb5403"/><stop offset="0.6326" stop-color="#fd3902"/><stop offset="0.8054" stop-color="#ff0300"/><stop offset="0.8641" stop-color="#fe1c01"/><stop offset="0.8859" stop-color="#fd3802"/><stop offset="0.9060" stop-color="#fa6d04"/><stop offset="0.9144" stop-color="#f98b05"/><stop offset="0.9211" stop-color="#f8aa07"/><stop offset="0.9295" stop-color="#f6db09"/><stop offset="0.9346" stop-color="#f1ff0d"/><stop offset="0.9581" stop-color="#08eff7"/><stop offset="0.9597" stop-color="#00eaff"/><stop offset="0.9664" stop-color="#00cfff"/><stop offset="0.9681" stop-color="#00c3ff"/><stop offset="0.9698" stop-color="#00aeff"/><stop offset="0.9732" stop-color="#008dff"/><stop offset="0.9832" stop-color="#0040ff"/><stop offset="0.9899" stop-color="#0013ff"/><stop offset="0.9933" stop-color="#0002ff"/><stop offset="1.0000" stop-color="#0000ff"/></linearGradient><linearGradient id="g98" gradientUnits="userSpaceOnUse" x1="0" y1="4" x2="0" y2="600"><stop offset="0.0000" stop-color="#03eefc"/><stop offset="0.0101" stop-color="#03eefc"/><stop offset="0.0117" stop-color="#0ceff3"/><stop offset="0.0252" stop-color="#0ceff3"/><stop offset="0.0268" stop-color="#15f0ea"/><stop offset="0.0369" stop-color="#15f0ea"/><stop offset="0.0386" stop-color="#1ef0e1"/><stop offset="0.0453" stop-color="#1ef0e1"/><stop offset="0.0470" stop-color="#2ef1d0"/><stop offset="0.0503" stop-color="#2ef1d0"/><stop offset="0.0520" stop-color="#35f2c9"/><stop offset="0.0604" stop-color="#35f2c9"/><stop offset="0.0621" stop-color="#3cf2c2"/><stop offset="0.0688" stop-color="#3cf2c2"/><stop offset="0.0705" stop-color="#43f3bc"/><stop offset="0.1091" stop-color="#43f3bc"/><stop offset="0.1107" stop-color="#4af3b5"/><stop offset="0.1174" stop-color="#4af3b5"/><stop offset="0.1191" stop-color="#51f4ae"/><stop offset="0.1275" stop-color="#51f4ae"/><stop offset="0.1292" stop-color="#58f4a7"/><stop offset="0.1376" stop-color="#58f4a7"/><stop offset="0.1393" stop-color="#5ef5a0"/><stop offset="0.1443" stop-color="#5ef5a0"/><stop offset="0.1460" stop-color="#65f599"/><stop offset="0.1544" stop-color="#65f599"/><stop offset="0.1560" stop-color="#6cf692"/><stop offset="0.1644" stop-color="#6cf692"/><stop offset="0.1661" stop-color="#73f68b"/><stop offset="0.1745" stop-color="#73f68b"/><stop offset="0.1762" stop-color="#7af784"/><stop offset="0.1779" stop-color="#7af784"/><stop offset="0.1795" stop-color="#7ff77f"/><stop offset="0.1862" stop-color="#7ff77f"/><stop offset="0.1879" stop-color="#85f879"/><stop offset="0.1930" stop-color="#85f879"/><stop offset="0.1946" stop-color="#8af874"/><stop offset="0.2030" stop-color="#8af874"/><stop offset="0.2047" stop-color="#90f86e"/><stop offset="0.2114" stop-color="#90f86e"/><stop offset="0.2131" stop-color="#95f969"/><stop offset="0.2299" stop-color="#95f969"/><stop offset="0.2315" stop-color="#9bf963"/><stop offset="0.2466" stop-color="#a0fa5e"/><stop offset="0.2483" stop-color="#a6fa58"/><stop offset="0.2550" stop-color="#a6fa58"/><stop offset="0.2567" stop-color="#abfa53"/><stop offset="0.2651" stop-color="#abfa53"/><stop offset="0.2668" stop-color="#b1fb4d"/><stop offset="0.2718" stop-color="#b1fb4d"/><stop offset="0.2735" stop-color="#b6fb48"/><stop offset="0.2802" stop-color="#b6fb48"/><stop offset="0.2819" stop-color="#bafb44"/><stop offset="0.2886" stop-color="#bafb44"/><stop offset="0.2903" stop-color="#bffc3f"/><stop offset="0.3054" stop-color="#c3fc3b"/><stop offset="0.3070" stop-color="#c8fc36"/><stop offset="0.3221" stop-color="#cdfc31"/><stop offset="0.3238" stop-color="#d1fd2d"/><stop offset="0.3305" stop-color="#d1fd2d"/><stop offset="0.3322" stop-color="#d6fd28"/><stop offset="0.3406" stop-color="#d6fd28"/><stop offset="0.3423" stop-color="#dafd24"/><stop offset="0.3490" stop-color="#dafd24"/><stop offset="0.3507" stop-color="#dffe1f"/><stop offset="0.3574" stop-color="#dffe1f"/><stop offset="0.3591" stop-color="#e3fe1b"/><stop offset="0.3658" stop-color="#e3fe1b"/><stop offset="0.3674" stop-color="#e8fe16"/><stop offset="0.3909" stop-color="#f4ff0a"/><stop offset="0.5134" stop-color="#f98b05"/><stop offset="0.5872" stop-color="#fb5403"/><stop offset="0.6309" stop-color="#fd3802"/><stop offset="0.8037" stop-color="#ff0300"/><stop offset="0.8641" stop-color="#fe1c01"/><stop offset="0.8859" stop-color="#fd3802"/><stop offset="0.9060" stop-color="#fa6e04"/><stop offset="0.9144" stop-color="#f98c05"/><stop offset="0.9211" stop-color="#f8ab07"/><stop offset="0.9295" stop-color="#f6db09"/><stop offset="0.9329" stop-color="#f4f40a"/><stop offset="0.9346" stop-color="#efff0f"/><stop offset="0.9581" stop-color="#06eef9"/><stop offset="0.9597" stop-color="#00eaff"/><stop offset="0.9664" stop-color="#00cfff"/><stop offset="0.9681" stop-color="#00c3ff"/><stop offset="0.9715" stop-color="#009cff"/><stop offset="0.9748" stop-color="#007fff"/><stop offset="0.9832" stop-color="#0040ff"/><stop offset="0.9899" stop-color="#0013ff"/><stop offset="0.9933" stop-color="#0002ff"/><stop offset="1.0000" stop-color="#0000ff"/></linearGradient><linearGradient id="g99" gradientUnits="userSpaceOnUse" x1="0" y1="4" x2="0" y2="600"><stop offset="0.0000" stop-color="#0ceff3"/><stop offset="0.0151" stop-color="#0ceff3"/><stop offset="0.0168" stop-color="#15f0ea"/><stop offset="0.0268" stop-color="#15f0ea"/><stop offset="0.0285" stop-color="#1ef0e1"/><stop offset="0.0336" stop-color="#1ef0e1"/><stop offset="0.0352" stop-color="#2ef1d0"/><stop offset="0.0386" stop-color="#2ef1d0"/><stop offset="0.0403" stop-color="#35f2c9"/><stop offset="0.0487" stop-color="#35f2c9"/><stop offset="0.0503" stop-color="#3cf2c2"/><stop offset="0.0570" stop-color="#3cf2c2"/><stop offset="0.0587" stop-color="#43f3bc"/><stop offset="0.1007" stop-color="#43f3bc"/><stop offset="0.1023" stop-color="#4af3b5"/><stop offset="0.1091" stop-color="#4af3b5"/><stop offset="0.1107" stop-color="#51f4ae"/><stop offset="0.1191" stop-color="#51f4ae"/><stop offset="0.1208" stop-color="#58f4a7"/><stop offset="0.1292" stop-color="#58f4a7"/><stop offset="0.1309" stop-color="#5ef5a0"/><stop offset="0.1359" stop-color="#5ef5a0"/><stop offset="0.1376" stop-color="#65f599"/><stop offset="0.1443" stop-color="#65f599"/><stop offset="0.1460" stop-color="#6cf692"/><stop offset="0.1544" stop-color="#6cf692"/><stop offset="0.1560" stop-color="#73f68b"/><stop offset="0.1644" stop-color="#73f68b"/><stop offset="0.1661" stop-color="#7af784"/><stop offset="0.1678" stop-color="#7af784"/><stop offset="0.1695" stop-color="#7ff77f"/><stop offset="0.1762" stop-color="#7ff77f"/><stop offset="0.1779" stop-color="#85f879"/><stop offset="0.1829" stop-color="#85f879"/><stop offset="0.1846" stop-color="#8af874"/><stop offset="0.1930" stop-color="#8af874"/><stop offset="0.1946" stop-color="#90f86e"/><stop offset="0.2013" stop-color="#90f86e"/><stop offset="0.2030" stop-color="#95f969"/><stop offset="0.2215" stop-color="#95f969"/><stop offset="0.2232" stop-color="#9bf963"/><stop offset="0.2299" stop-color="#9bf963"/><stop offset="0.2315" stop-color="#a0fa5e"/><stop offset="0.2399" stop-color="#a0fa5e"/><stop offset="0.2416" stop-color="#a6fa58"/><stop offset="0.2567" stop-color="#abfa53"/><stop offset="0.2584" stop-color="#b1fb4d"/><stop offset="0.2634" stop-color="#b1fb4d"/><stop offset="0.2651" stop-color="#b6fb48"/><stop offset="0.2718" stop-color="#b6fb48"/><stop offset="0.2735" stop-color="#bafb44"/><stop offset="0.2802" stop-color="#bafb44"/><stop offset="0.2819" stop-color="#bffc3f"/><stop offset="0.2970" stop-color="#c3fc3b"/><stop offset="0.2987" stop-color="#c8fc36"/><stop offset="0.3138" stop-color="#cdfc31"/><stop offset="0.3154" stop-color="#d1fd2d"/><stop offset="0.3221" stop-color="#d1fd2d"/><stop offset="0.3238" stop-color="#d6fd28"/><stop offset="0.3322" stop-color="#d6fd28"/><stop offset="0.3339" stop-color="#dafd24"/><stop offset="0.3490" stop-color="#dffe1f"/><stop offset="0.3507" stop-color="#e3fe1b"/><stop offset="0.3574" stop-color="#e3fe1b"/><stop offset="0.3591" stop-color="#e8fe16"/><stop offset="0.3658" stop-color="#e8fe16"/><stop offset="0.3674" stop-color="#edff11"/><stop offset="0.3842" stop-color="#f1ff0d"/><stop offset="0.3859" stop-color="#f4fb0a"/><stop offset="0.3893" stop-color="#f4fb0a"/><stop offset="0.5084" stop-color="#f98c05"/><stop offset="0.6275" stop-color="#fd3802"/><stop offset="0.8037" stop-color="#ff0200"/><stop offset="0.8641" stop-color="#fe1b01"/><stop offset="0.8859" stop-color="#fd3902"/><stop offset="0.9060" stop-color="#fa6e04"/><stop offset="0.9144" stop-color="#f98d06"/><stop offset="0.9211" stop-color="#f8ac07"/><stop offset="0.9295" stop-color="#f6dc09"/><stop offset="0.9329" stop-color="#f4f40a"/><stop offset="0.9346" stop-color="#eeff10"/><stop offset="0.9581" stop-color="#05eefa"/><stop offset="0.9597" stop-color="#00e9ff"/><stop offset="0.9664" stop-color="#00ceff"/><stop offset="0.9681" stop-color="#00c2ff"/><stop offset="0.9715" stop-color="#009cff"/><stop offset="0.9748" stop-color="#007fff"/><stop offset="0.9832" stop-color="#0040ff"/><stop offset="0.9899" stop-color="#0013ff"/><stop offset="0.9933" stop-color="#0002ff"/><stop offset="1.0000" stop-color="#0000ff"/></linearGradient><linearGradient id="g100" gradientUnits="userSpaceOnUse" x1="0" y1="4" x2="0" y2="600"><stop offset="0.0000" stop-color="#0ceff3"/><stop offset="0.0050" stop-color="#0ceff3"/><stop offset="0.0067" stop-color="#15f0ea"/><stop offset="0.0151" stop-color="#15f0ea"/><stop offset="0.0168" stop-color="#1ef0e1"/><stop offset="0.0235" stop-color="#1ef0e1"/><stop offset="0.0252" stop-color="#2ef1d0"/><stop offset="0.0268" stop-color="#2ef1d0"/><stop offset="0.0285" stop-color="#35f2c9"/><stop offset="0.0369" stop-color="#35f2c9"/><stop offset="0.0386" stop-color="#3cf2c2"/><stop offset="0.0453" stop-color="#3cf2c2"/><stop offset="0.0470" stop-color="#43f3bc"/><stop offset="0.0906" stop-color="#43f3bc"/><stop offset="0.0923" stop-color="#4af3b5"/><stop offset="0.1007" stop-color="#4af3b5"/><stop offset="0.1023" stop-color="#51f4ae"/><stop offset="0.1107" stop-color="#51f4ae"/><stop offset="0.1124" stop-color="#58f4a7"/><stop offset="0.1208" stop-color="#58f4a7"/><stop offset="0.1225" stop-color="#5ef5a0"/><stop offset="0.1258" stop-color="#5ef5a0"/><stop offset="0.1275" stop-color="#65f599"/><stop offset="0.1359" stop-color="#65f599"/><stop offset="0.1376" stop-color="#6cf692"/><stop offset="0.1460" stop-color="#6cf692"/><stop offset="0.1477" stop-color="#73f68b"/><stop offset="0.1560" stop-color="#73f68b"/><stop offset="0.1594" stop-color="#7ff77f"/><stop offset="0.1661" stop-color="#7ff77f"/><stop offset="0.1678" stop-color="#85f879"/><stop offset="0.1728" stop-color="#85f879"/><stop offset="0.1745" stop-color="#8af874"/><stop offset="0.1829" stop-color="#8af874"/><stop offset="0.1846" stop-color="#90f86e"/><stop offset="0.1913" stop-color="#90f86e"/><stop offset="0.1930" stop-color="#95f969"/><stop offset="0.2131" stop-color="#95f969"/><stop offset="0.2148" stop-color="#9bf963"/><stop offset="0.2232" stop-color="#9bf963"/><stop offset="0.2248" stop-color="#a0fa5e"/><stop offset="0.2315" stop-color="#a0fa5e"/><stop offset="0.2332" stop-color="#a6fa58"/><stop offset="0.2483" stop-color="#abfa53"/><stop offset="0.2500" stop-color="#b1fb4d"/><stop offset="0.2550" stop-color="#b1fb4d"/><stop offset="0.2567" stop-color="#b6fb48"/><stop offset="0.2634" stop-color="#b6fb48"/><stop offset="0.2651" stop-color="#bafb44"/><stop offset="0.2718" stop-color="#bafb44"/><stop offset="0.2735" stop-color="#bffc3f"/><stop offset="0.2886" stop-color="#c3fc3b"/><stop offset="0.2903" stop-color="#c8fc36"/><stop offset="0.3054" stop-color="#cdfc31"/><stop offset="0.3070" stop-color="#d1fd2d"/><stop offset="0.3154" stop-color="#d1fd2d"/><stop offset="0.3171" stop-color="#d6fd28"/><stop offset="0.3238" stop-color="#d6fd28"/><stop offset="0.3255" stop-color="#dafd24"/><stop offset="0.3406" stop-color="#dffe1f"/><stop offset="0.3423" stop-color="#e3fe1b"/><stop offset="0.3490" stop-color="#e3fe1b"/><stop offset="0.3507" stop-color="#e8fe16"/><stop offset="0.3591" stop-color="#e8fe16"/><stop offset="0.3607" stop-color="#edff11"/><stop offset="0.3674" stop-color="#edff11"/><stop offset="0.3691" stop-color="#f1ff0d"/><stop offset="0.3758" stop-color="#f1ff0d"/><stop offset="0.3775" stop-color="#f4fb0a"/><stop offset="0.3859" stop-color="#f4fb0a"/><stop offset="0.3876" stop-color="#f4f40a"/><stop offset="0.3926" stop-color="#f4f40a"/><stop offset="0.3943" stop-color="#f5ed09"/><stop offset="0.4010" stop-color="#f5ed09"/><stop offset="0.4027" stop-color="#f5e609"/><stop offset="0.4094" stop-color="#f5e609"/><stop offset="0.4111" stop-color="#f5df09"/><stop offset="0.4144" stop-color="#f5e009"/><stop offset="0.5050" stop-color="#f98c05"/><stop offset="0.6242" stop-color="#fd3802"/><stop offset="0.8020" stop-color="#ff0200"/><stop offset="0.8641" stop-color="#fe1b01"/><stop offset="0.8859" stop-color="#fd3902"/><stop offset="0.9060" stop-color="#fa6f04"/><stop offset="0.9144" stop-color="#f98e06"/><stop offset="0.9211" stop-color="#f8ad07"/><stop offset="0.9295" stop-color="#f5dd09"/><stop offset="0.9329" stop-color="#f4f50a"/><stop offset="0.9346" stop-color="#edff11"/><stop offset="0.9581" stop-color="#03eefc"/><stop offset="0.9597" stop-color="#00e9ff"/><stop offset="0.9664" stop-color="#00cdff"/><stop offset="0.9681" stop-color="#00c1ff"/><stop offset="0.9715" stop-color="#009cff"/><stop offset="0.9748" stop-color="#007fff"/><stop offset="0.9832" stop-color="#0040ff"/><stop offset="0.9899" stop-color="#0013ff"/><stop offset="0.9933" stop-color="#0002ff"/><stop offset="1.0000" stop-color="#0000ff"/></linearGradient><linearGradient id="g101" gradientUnits="userSpaceOnUse" x1="0" y1="4" x2="0" y2="600"><stop offset="0.0000" stop-color="#15f0ea"/><stop offset="0.0050" stop-color="#15f0ea"/><stop offset="0.0067" stop-color="#1ef0e1"/><stop offset="0.0117" stop-color="#1ef0e1"/><stop offset="0.0134" stop-color="#2ef1d0"/><stop offset="0.0151" stop-color="#2ef1d0"/><stop offset="0.0168" stop-color="#35f2c9"/><stop offset="0.0235" stop-color="#35f2c9"/><stop offset="0.0252" stop-color="#3cf2c2"/><stop offset="0.0336" stop-color="#3cf2c2"/><stop offset="0.0352" stop-color="#43f3bc"/><stop offset="0.0822" stop-color="#43f3bc"/><stop offset="0.0839" stop-color="#4af3b5"/><stop offset="0.0923" stop-color="#4af3b5"/><stop offset="0.0940" stop-color="#51f4ae"/><stop offset="0.1023" stop-color="#51f4ae"/><stop offset="0.1040" stop-color="#58f4a7"/><stop offset="0.1107" stop-color="#58f4a7"/><stop offset="0.1124" stop-color="#5ef5a0"/><stop offset="0.1174" stop-color="#5ef5a0"/><stop offset="0.1191" stop-color="#65f599"/><stop offset="0.1275" stop-color="#65f599"/><stop offset="0.1292" stop-color="#6cf692"/><stop offset="0.1376" stop-color="#6cf692"/><stop offset="0.1393" stop-color="#73f68b"/><stop offset="0.1460" stop-color="#73f68b"/><stop offset="0.1493" stop-color="#7ff77f"/><stop offset="0.1560" stop-color="#7ff77f"/><stop offset="0.1577" stop-color="#85f879"/><stop offset="0.1628" stop-color="#85f879"/><stop offset="0.1644" stop-color="#8af874"/><stop offset="0.1728" stop-color="#8af874"/><stop offset="0.1745" stop-color="#90f86e"/><stop offset="0.1812" stop-color="#90f86e"/><stop offset="0.1829" stop-color="#95f969"/><stop offset="0.2064" stop-color="#95f969"/><stop offset="0.2081" stop-color="#9bf963"/><stop offset="0.2232" stop-color="#a0fa5e"/><stop offset="0.2248" stop-color="#a6fa58"/><stop offset="0.2315" stop-color="#a6fa58"/><stop offset="0.2332" stop-color="#abfa53"/><stop offset="0.2416" stop-color="#abfa53"/><stop offset="0.2433" stop-color="#b1fb4d"/><stop offset="0.2466" stop-color="#b1fb4d"/><stop offset="0.2483" stop-color="#b6fb48"/><stop offset="0.2550" stop-color="#b6fb48"/><stop offset="0.2567" stop-color="#bafb44"/><stop offset="0.2634" stop-color="#bafb44"/><stop offset="0.2651" stop-color="#bffc3f"/><stop offset="0.2802" stop-color="#c3fc3b"/><stop offset="0.2819" stop-color="#c8fc36"/><stop offset="0.2886" stop-color="#c8fc36"/><stop offset="0.2903" stop-color="#cdfc31"/><stop offset="0.2987" stop-color="#cdfc31"/><stop offset="0.3003" stop-color="#d1fd2d"/><stop offset="0.3070" stop-color="#d1fd2d"/><stop offset="0.3087" stop-color="#d6fd28"/><stop offset="0.3154" stop-color="#d6fd28"/><stop offset="0.3171" stop-color="#dafd24"/><stop offset="0.3322" stop-color="#dffe1f"/><stop offset="0.3339" stop-color="#e3fe1b"/><stop offset="0.3406" stop-color="#e3fe1b"/><stop offset="0.3423" stop-color="#e8fe16"/><stop offset="0.3507" stop-color="#e8fe16"/><stop offset="0.3523" stop-color="#edff11"/><stop offset="0.3591" stop-color="#edff11"/><stop offset="0.3607" stop-color="#f1ff0d"/><stop offset="0.3674" stop-color="#f1ff0d"/><stop offset="0.3691" stop-color="#f4fb0a"/><stop offset="0.3775" stop-color="#f4fb0a"/><stop offset="0.3792" stop-color="#f4f40a"/><stop offset="0.3859" stop-color="#f4f40a"/><stop offset="0.3876" stop-color="#f5ed09"/><stop offset="0.3943" stop-color="#f5ed09"/><stop offset="0.3960" stop-color="#f5e609"/><stop offset="0.4027" stop-color="#f5e609"/><stop offset="0.4044" stop-color="#f5df09"/><stop offset="0.4111" stop-color="#f5df09"/><stop offset="0.4128" stop-color="#f6d808"/><stop offset="0.4195" stop-color="#f6d808"/><stop offset="0.4211" stop-color="#f6d108"/><stop offset="0.4279" stop-color="#f6d108"/><stop offset="0.4295" stop-color="#f6ca08"/><stop offset="0.4362" stop-color="#f6ca08"/><stop offset="0.4379" stop-color="#f7c308"/><stop offset="0.4430" stop-color="#f7c208"/><stop offset="0.5017" stop-color="#f98b05"/><stop offset="0.6225" stop-color="#fd3802"/><stop offset="0.8003" stop-color="#ff0100"/><stop offset="0.8641" stop-color="#fe1b01"/><stop offset="0.8859" stop-color="#fd3902"/><stop offset="0.9060" stop-color="#fa6f04"/><stop offset="0.9195" stop-color="#f8a506"/><stop offset="0.9295" stop-color="#f5de09"/><stop offset="0.9329" stop-color="#f4f60a"/><stop offset="0.9346" stop-color="#ecfe12"/><stop offset="0.9581" stop-color="#02eefd"/><stop offset="0.9664" stop-color="#00cdff"/><stop offset="0.9681" stop-color="#00c1ff"/><stop offset="0.9715" stop-color="#009bff"/><stop offset="0.9748" stop-color="#007eff"/><stop offset="0.9832" stop-color="#0040ff"/><stop offset="0.9899" stop-color="#0012ff"/><stop offset="0.9933" stop-color="#0002ff"/><stop offset="1.0000" stop-color="#0000ff"/></linearGradient><linearGradient id="g102" gradientUnits="userSpaceOnUse" x1="0" y1="4" x2="0" y2="600"><stop offset="0.0000" stop-color="#1ef0e1"/><stop offset="0.0017" stop-color="#1ef0e1"/><stop offset="0.0034" stop-color="#2ef1d0"/><stop offset="0.0050" stop-color="#35f2c9"/><stop offset="0.0117" stop-color="#35f2c9"/><stop offset="0.0134" stop-color="#3cf2c2"/><stop offset="0.0218" stop-color="#3cf2c2"/><stop offset="0.0235" stop-color="#43f3bc"/><stop offset="0.0738" stop-color="#43f3bc"/><stop offset="0.0755" stop-color="#4af3b5"/><stop offset="0.0839" stop-color="#4af3b5"/><stop offset="0.0856" stop-color="#51f4ae"/><stop offset="0.0940" stop-color="#51f4ae"/><stop offset="0.0956" stop-color="#58f4a7"/><stop offset="0.1023" stop-color="#58f4a7"/><stop offset="0.1040" stop-color="#5ef5a0"/><stop offset="0.1074" stop-color="#5ef5a0"/><stop offset="0.1091" stop-color="#65f599"/><stop offset="0.1174" stop-color="#65f599"/><stop offset="0.1191" stop-color="#6cf692"/><stop offset="0.1275" stop-color="#6cf692"/><stop offset="0.1292" stop-color="#73f68b"/><stop offset="0.1376" stop-color="#73f68b"/><stop offset="0.1393" stop-color="#7ff77f"/><stop offset="0.1460" stop-color="#7ff77f"/><stop offset="0.1477" stop-color="#85f879"/><stop offset="0.1527" stop-color="#85f879"/><stop offset="0.1544" stop-color="#8af874"/><stop offset="0.1628" stop-color="#8af874"/><stop offset="0.1644" stop-color="#90f86e"/><stop offset="0.1711" stop-color="#90f86e"/><stop offset="0.1728" stop-color="#95f969"/><stop offset="0.1980" stop-color="#95f969"/><stop offset="0.1997" stop-color="#9bf963"/><stop offset="0.2148" stop-color="#a0fa5e"/><stop offset="0.2164" stop-color="#a6fa58"/><stop offset="0.2248" stop-color="#a6fa58"/><stop offset="0.2265" stop-color="#abfa53"/><stop offset="0.2332" stop-color="#abfa53"/><stop offset="0.2349" stop-color="#b1fb4d"/><stop offset="0.2383" stop-color="#b1fb4d"/><stop offset="0.2399" stop-color="#b6fb48"/><stop offset="0.2466" stop-color="#b6fb48"/><stop offset="0.2483" stop-color="#bafb44"/><stop offset="0.2550" stop-color="#bafb44"/><stop offset="0.2567" stop-color="#bffc3f"/><stop offset="0.2718" stop-color="#c3fc3b"/><stop offset="0.2735" stop-color="#c8fc36"/><stop offset="0.2802" stop-color="#c8fc36"/><stop offset="0.2819" stop-color="#cdfc31"/><stop offset="0.2903" stop-color="#cdfc31"/><stop offset="0.2919" stop-color="#d1fd2d"/><stop offset="0.2987" stop-color="#d1fd2d"/><stop offset="0.3003" stop-color="#d6fd28"/><stop offset="0.3070" stop-color="#d6fd28"/><stop offset="0.3087" stop-color="#dafd24"/><stop offset="0.3238" stop-color="#dffe1f"/><stop offset="0.3255" stop-color="#e3fe1b"/><stop offset="0.3339" stop-color="#e3fe1b"/><stop offset="0.3356" stop-color="#e8fe16"/><stop offset="0.3507" stop-color="#edff11"/><stop offset="0.3523" stop-color="#f1ff0d"/><stop offset="0.3591" stop-color="#f1ff0d"/><stop offset="0.3607" stop-color="#f4fb0a"/><stop offset="0.3708" stop-color="#f4fb0a"/><stop offset="0.3725" stop-color="#f4f40a"/><stop offset="0.3792" stop-color="#f4f40a"/><stop offset="0.3809" stop-color="#f5ed09"/><stop offset="0.3876" stop-color="#f5ed09"/><stop offset="0.3893" stop-color="#f5e609"/><stop offset="0.3960" stop-color="#f5e609"/><stop offset="0.3977" stop-color="#f5df09"/><stop offset="0.4044" stop-color="#f5df09"/><stop offset="0.4060" stop-color="#f6d808"/><stop offset="0.4128" stop-color="#f6d808"/><stop offset="0.4144" stop-color="#f6d108"/><stop offset="0.4211" stop-color="#f6d108"/><stop offset="0.4228" stop-color="#f6ca08"/><stop offset="0.4295" stop-color="#f6ca08"/><stop offset="0.4312" stop-color="#f7c308"/><stop offset="0.4362" stop-color="#f7c308"/><stop offset="0.4379" stop-color="#f7bd07"/><stop offset="0.4446" stop-color="#f7bd07"/><stop offset="0.4463" stop-color="#f7b607"/><stop offset="0.4530" stop-color="#f7b607"/><stop offset="0.4547" stop-color="#f7af07"/><stop offset="0.4614" stop-color="#f7af07"/><stop offset="0.4983" stop-color="#f98b05"/><stop offset="0.6191" stop-color="#fd3802"/><stop offset="0.6980" stop-color="#fe1c01"/><stop offset="0.8003" stop-color="#ff0100"/><stop offset="0.8658" stop-color="#fe1d01"/><stop offset="0.8859" stop-color="#fd3902"/><stop offset="0.9060" stop-color="#fa7004"/><stop offset="0.9195" stop-color="#f8a607"/><stop offset="0.9295" stop-color="#f5de09"/><stop offset="0.9329" stop-color="#f4f70a"/><stop offset="0.9346" stop-color="#ebfe13"/><stop offset="0.9581" stop-color="#00eeff"/><stop offset="0.9664" stop-color="#00ccff"/><stop offset="0.9681" stop-color="#00c0ff"/><stop offset="0.9715" stop-color="#009bff"/><stop offset="0.9748" stop-color="#007eff"/><stop offset="0.9832" stop-color="#003fff"/><stop offset="0.9899" stop-color="#0012ff"/><stop offset="0.9933" stop-color="#0002ff"/><stop offset="1.0000" stop-color="#0000ff"/></linearGradient><linearGradient id="g103" gradientUnits="userSpaceOnUse" x1="0" y1="4" x2="0" y2="600"><stop offset="0.0000" stop-color="#35f2c9"/><stop offset="0.0017" stop-color="#3cf2c2"/><stop offset="0.0084" stop-color="#3cf2c2"/><stop offset="0.0101" stop-color="#43f3bc"/><stop offset="0.0654" stop-color="#43f3bc"/><stop offset="0.0671" stop-color="#4af3b5"/><stop offset="0.0755" stop-color="#4af3b5"/><stop offset="0.0772" stop-color="#51f4ae"/><stop offset="0.0839" stop-color="#51f4ae"/><stop offset="0.0856" stop-color="#58f4a7"/><stop offset="0.0940" stop-color="#58f4a7"/><stop offset="0.0956" stop-color="#5ef5a0"/><stop offset="0.0990" stop-color="#5ef5a0"/><stop offset="0.1007" stop-color="#65f599"/><stop offset="0.1091" stop-color="#65f599"/><stop offset="0.1107" stop-color="#6cf692"/><stop offset="0.1191" stop-color="#6cf692"/><stop offset="0.1208" stop-color="#73f68b"/><stop offset="0.1275" stop-color="#73f68b"/><stop offset="0.1292" stop-color="#7ff77f"/><stop offset="0.1359" stop-color="#7ff77f"/><stop offset="0.1376" stop-color="#85f879"/><stop offset="0.1426" stop-color="#85f879"/><stop offset="0.1443" stop-color="#8af874"/><stop offset="0.1527" stop-color="#8af874"/><stop offset="0.1544" stop-color="#90f86e"/><stop offset="0.1611" stop-color="#90f86e"/><stop offset="0.1628" stop-color="#95f969"/><stop offset="0.1896" stop-color="#95f969"/><stop offset="0.1913" stop-color="#9bf963"/><stop offset="0.1980" stop-color="#9bf963"/><stop offset="0.1997" stop-color="#a0fa5e"/><stop offset="0.2081" stop-color="#a0fa5e"/><stop offset="0.2097" stop-color="#a6fa58"/><stop offset="0.2248" stop-color="#abfa53"/><stop offset="0.2265" stop-color="#b1fb4d"/><stop offset="0.2299" stop-color="#b1fb4d"/><stop offset="0.2315" stop-color="#b6fb48"/><stop offset="0.2383" stop-color="#b6fb48"/><stop offset="0.2399" stop-color="#bafb44"/><stop offset="0.2466" stop-color="#bafb44"/><stop offset="0.2483" stop-color="#bffc3f"/><stop offset="0.2634" stop-color="#c3fc3b"/><stop offset="0.2651" stop-color="#c8fc36"/><stop offset="0.2718" stop-color="#c8fc36"/><stop offset="0.2735" stop-color="#cdfc31"/><stop offset="0.2819" stop-color="#cdfc31"/><stop offset="0.2836" stop-color="#d1fd2d"/><stop offset="0.2903" stop-color="#d1fd2d"/><stop offset="0.2919" stop-color="#d6fd28"/><stop offset="0.2987" stop-color="#d6fd28"/><stop offset="0.3003" stop-color="#dafd24"/><stop offset="0.3154" stop-color="#dffe1f"/><stop offset="0.3171" stop-color="#e3fe1b"/><stop offset="0.3255" stop-color="#e3fe1b"/><stop offset="0.3272" stop-color="#e8fe16"/><stop offset="0.3423" stop-color="#edff11"/><stop offset="0.3440" stop-color="#f1ff0d"/><stop offset="0.3507" stop-color="#f1ff0d"/><stop offset="0.3523" stop-color="#f4fb0a"/><stop offset="0.3641" stop-color="#f4fb0a"/><stop offset="0.3658" stop-color="#f4f40a"/><stop offset="0.3725" stop-color="#f4f40a"/><stop offset="0.3742" stop-color="#f5ed09"/><stop offset="0.3809" stop-color="#f5ed09"/><stop offset="0.3826" stop-color="#f5e609"/><stop offset="0.3876" stop-color="#f5e609"/><stop offset="0.3893" stop-color="#f5df09"/><stop offset="0.3977" stop-color="#f5df09"/><stop offset="0.3993" stop-color="#f6d808"/><stop offset="0.4060" stop-color="#f6d808"/><stop offset="0.4077" stop-color="#f6d108"/><stop offset="0.4144" stop-color="#f6d108"/><stop offset="0.4161" stop-color="#f6ca08"/><stop offset="0.4228" stop-color="#f6ca08"/><stop offset="0.4279" stop-color="#f7bd07"/><stop offset="0.4362" stop-color="#f7bd07"/><stop offset="0.4379" stop-color="#f7b607"/><stop offset="0.4446" stop-color="#f7b607"/><stop offset="0.4463" stop-color="#f7af07"/><stop offset="0.4530" stop-color="#f7af07"/><stop offset="0.4547" stop-color="#f8a807"/><stop offset="0.4631" stop-color="#f8a807"/><stop offset="0.4648" stop-color="#f8a106"/><stop offset="0.4715" stop-color="#f8a106"/><stop offset="0.4732" stop-color="#f89a06"/><stop offset="0.4799" stop-color="#f89a06"/><stop offset="0.4815" stop-color="#f99306"/><stop offset="0.4883" stop-color="#f99306"/><stop offset="0.4933" stop-color="#f98b05"/><stop offset="0.5302" stop-color="#fa7004"/><stop offset="0.6158" stop-color="#fd3802"/><stop offset="0.6292" stop-color="#fd3202"/><stop offset="0.6913" stop-color="#fe1c01"/><stop offset="0.7987" stop-color="#ff0100"/><stop offset="0.8658" stop-color="#fe1d01"/><stop offset="0.8859" stop-color="#fd3902"/><stop offset="0.9060" stop-color="#fa7104"/><stop offset="0.9195" stop-color="#f8a707"/><stop offset="0.9295" stop-color="#f5df09"/><stop offset="0.9329" stop-color="#f4f80a"/><stop offset="0.9346" stop-color="#e9fe15"/><stop offset="0.9581" stop-color="#00edff"/><stop offset="0.9664" stop-color="#00cbff"/><stop offset="0.9681" stop-color="#00bfff"/><stop offset="0.9715" stop-color="#009aff"/><stop offset="0.9748" stop-color="#007eff"/><stop offset="0.9832" stop-color="#003fff"/><stop offset="0.9899" stop-color="#0012ff"/><stop offset="0.9933" stop-color="#0002ff"/><stop offset="1.0000" stop-color="#0000ff"/></linearGradient><linearGradient id="g104" gradientUnits="userSpaceOnUse" x1="0" y1="4" x2="0" y2="600"><stop offset="0.0000" stop-color="#43f3bc"/><stop offset="0.0570" stop-color="#43f3bc"/><stop offset="0.0587" stop-color="#4af3b5"/><stop offset="0.0654" stop-color="#4af3b5"/><stop offset="0.0671" stop-color="#51f4ae"/><stop offset="0.0755" stop-color="#51f4ae"/><stop offset="0.0772" stop-color="#58f4a7"/><stop offset="0.0856" stop-color="#58f4a7"/><stop offset="0.0906" stop-color="#65f599"/><stop offset="0.0990" stop-color="#65f599"/><stop offset="0.1007" stop-color="#6cf692"/><stop offset="0.1091" stop-color="#6cf692"/><stop offset="0.1107" stop-color="#73f68b"/><stop offset="0.1174" stop-color="#73f68b"/><stop offset="0.1191" stop-color="#7ff77f"/><stop offset="0.1258" stop-color="#7ff77f"/><stop offset="0.1275" stop-color="#85f879"/><stop offset="0.1326" stop-color="#85f879"/><stop offset="0.1342" stop-color="#8af874"/><stop offset="0.1426" stop-color="#8af874"/><stop offset="0.1443" stop-color="#90f86e"/><stop offset="0.1510" stop-color="#90f86e"/><stop offset="0.1527" stop-color="#95f969"/><stop offset="0.1812" stop-color="#95f969"/><stop offset="0.1829" stop-color="#9bf963"/><stop offset="0.1913" stop-color="#9bf963"/><stop offset="0.1930" stop-color="#a0fa5e"/><stop offset="0.1997" stop-color="#a0fa5e"/><stop offset="0.2013" stop-color="#a6fa58"/><stop offset="0.2164" stop-color="#abfa53"/><stop offset="0.2181" stop-color="#b1fb4d"/><stop offset="0.2215" stop-color="#b1fb4d"/><stop offset="0.2232" stop-color="#b6fb48"/><stop offset="0.2299" stop-color="#b6fb48"/><stop offset="0.2315" stop-color="#bafb44"/><stop offset="0.2383" stop-color="#bafb44"/><stop offset="0.2399" stop-color="#bffc3f"/><stop offset="0.2550" stop-color="#c3fc3b"/><stop offset="0.2567" stop-color="#c8fc36"/><stop offset="0.2634" stop-color="#c8fc36"/><stop offset="0.2651" stop-color="#cdfc31"/><stop offset="0.2735" stop-color="#cdfc31"/><stop offset="0.2752" stop-color="#d1fd2d"/><stop offset="0.2819" stop-color="#d1fd2d"/><stop offset="0.2836" stop-color="#d6fd28"/><stop offset="0.2903" stop-color="#d6fd28"/><stop offset="0.2919" stop-color="#dafd24"/><stop offset="0.2987" stop-color="#dafd24"/><stop offset="0.3003" stop-color="#dffe1f"/><stop offset="0.3087" stop-color="#dffe1f"/><stop offset="0.3104" stop-color="#e3fe1b"/><stop offset="0.3171" stop-color="#e3fe1b"/><stop offset="0.3188" stop-color="#e8fe16"/><stop offset="0.3339" stop-color="#edff11"/><stop offset="0.3356" stop-color="#f1ff0d"/><stop offset="0.3423" stop-color="#f1ff0d"/><stop offset="0.3440" stop-color="#f4fb0a"/><stop offset="0.3574" stop-color="#f4fb0a"/><stop offset="0.3591" stop-color="#f4f40a"/><stop offset="0.3658" stop-color="#f4f40a"/><stop offset="0.3674" stop-color="#f5ed09"/><stop offset="0.3742" stop-color="#f5ed09"/><stop offset="0.3758" stop-color="#f5e609"/><stop offset="0.3809" stop-color="#f5e609"/><stop offset="0.3826" stop-color="#f5df09"/><stop offset="0.3909" stop-color="#f5df09"/><stop offset="0.3926" stop-color="#f6d808"/><stop offset="0.3993" stop-color="#f6d808"/><stop offset="0.4010" stop-color="#f6d108"/><stop offset="0.4077" stop-color="#f6d108"/><stop offset="0.4094" stop-color="#f6ca08"/><stop offset="0.4161" stop-color="#f6ca08"/><stop offset="0.4195" stop-color="#f7bd07"/><stop offset="0.4279" stop-color="#f7bd07"/><stop offset="0.4295" stop-color="#f7b607"/><stop offset="0.4362" stop-color="#f7b607"/><stop offset="0.4379" stop-color="#f7af07"/><stop offset="0.4446" stop-color="#f7af07"/><stop offset="0.4463" stop-color="#f8a807"/><stop offset="0.4564" stop-color="#f8a807"/><stop offset="0.4581" stop-color="#f8a106"/><stop offset="0.4648" stop-color="#f8a106"/><stop offset="0.4664" stop-color="#f89a06"/><stop offset="0.4732" stop-color="#f89a06"/><stop offset="0.4748" stop-color="#f99306"/><stop offset="0.4815" stop-color="#f99306"/><stop offset="0.4832" stop-color="#f98c05"/><stop offset="0.4899" stop-color="#f98c05"/><stop offset="0.4916" stop-color="#f98605"/><stop offset="0.4983" stop-color="#f98605"/><stop offset="0.5000" stop-color="#f98005"/><stop offset="0.5067" stop-color="#f98005"/><stop offset="0.5084" stop-color="#fa7b05"/><stop offset="0.5151" stop-color="#fa7b05"/><stop offset="0.5268" stop-color="#fa7004"/><stop offset="0.6124" stop-color="#fd3802"/><stop offset="0.6527" stop-color="#fd2601"/><stop offset="0.7987" stop-color="#ff0000"/><stop offset="0.8641" stop-color="#fe1b01"/><stop offset="0.8842" stop-color="#fd3602"/><stop offset="0.9044" stop-color="#fa6d04"/><stop offset="0.9128" stop-color="#f98b05"/><stop offset="0.9195" stop-color="#f8a807"/><stop offset="0.9295" stop-color="#f5e009"/><stop offset="0.9329" stop-color="#f4f90a"/><stop offset="0.9346" stop-color="#e8fe16"/><stop offset="0.9564" stop-color="#0eeff1"/><stop offset="0.9581" stop-color="#00edff"/><stop offset="0.9664" stop-color="#00cbff"/><stop offset="0.9681" stop-color="#00bfff"/><stop offset="0.9715" stop-color="#009aff"/><stop offset="0.9748" stop-color="#007dff"/><stop offset="0.9832" stop-color="#003fff"/><stop offset="0.9899" stop-color="#0012ff"/><stop offset="0.9933" stop-color="#0002ff"/><stop offset="1.0000" stop-color="#0000ff"/></linearGradient><linearGradient id="g105" gradientUnits="userSpaceOnUse" x1="0" y1="4" x2="0" y2="600"><stop offset="0.0000" stop-color="#43f3bc"/><stop offset="0.0470" stop-color="#43f3bc"/><stop offset="0.0487" stop-color="#4af3b5"/><stop offset="0.0570" stop-color="#4af3b5"/><stop offset="0.0587" stop-color="#51f4ae"/><stop offset="0.0671" stop-color="#51f4ae"/><stop offset="0.0688" stop-color="#58f4a7"/><stop offset="0.0772" stop-color="#58f4a7"/><stop offset="0.0822" stop-color="#65f599"/><stop offset="0.0906" stop-color="#65f599"/><stop offset="0.0923" stop-color="#6cf692"/><stop offset="0.1007" stop-color="#6cf692"/><stop offset="0.1023" stop-color="#73f68b"/><stop offset="0.1091" stop-color="#73f68b"/><stop offset="0.1107" stop-color="#7ff77f"/><stop offset="0.1158" stop-color="#7ff77f"/><stop offset="0.1174" stop-color="#85f879"/><stop offset="0.1225" stop-color="#85f879"/><stop offset="0.1242" stop-color="#8af874"/><stop offset="0.1326" stop-color="#8af874"/><stop offset="0.1342" stop-color="#90f86e"/><stop offset="0.1409" stop-color="#90f86e"/><stop offset="0.1426" stop-color="#95f969"/><stop offset="0.1745" stop-color="#95f969"/><stop offset="0.1762" stop-color="#9bf963"/><stop offset="0.1913" stop-color="#a0fa5e"/><stop offset="0.1930" stop-color="#a6fa58"/><stop offset="0.1997" stop-color="#a6fa58"/><stop offset="0.2013" stop-color="#abfa53"/><stop offset="0.2097" stop-color="#abfa53"/><stop offset="0.2148" stop-color="#b6fb48"/><stop offset="0.2215" stop-color="#b6fb48"/><stop offset="0.2232" stop-color="#bafb44"/><stop offset="0.2299" stop-color="#bafb44"/><stop offset="0.2315" stop-color="#bffc3f"/><stop offset="0.2466" stop-color="#c3fc3b"/><stop offset="0.2483" stop-color="#c8fc36"/><stop offset="0.2550" stop-color="#c8fc36"/><stop offset="0.2567" stop-color="#cdfc31"/><stop offset="0.2651" stop-color="#cdfc31"/><stop offset="0.2668" stop-color="#d1fd2d"/><stop offset="0.2735" stop-color="#d1fd2d"/><stop offset="0.2752" stop-color="#d6fd28"/><stop offset="0.2819" stop-color="#d6fd28"/><stop offset="0.2836" stop-color="#dafd24"/><stop offset="0.2919" stop-color="#dafd24"/><stop offset="0.2936" stop-color="#dffe1f"/><stop offset="0.3003" stop-color="#dffe1f"/><stop offset="0.3020" stop-color="#e3fe1b"/><stop offset="0.3087" stop-color="#e3fe1b"/><stop offset="0.3104" stop-color="#e8fe16"/><stop offset="0.3255" stop-color="#edff11"/><stop offset="0.3272" stop-color="#f1ff0d"/><stop offset="0.3339" stop-color="#f1ff0d"/><stop offset="0.3356" stop-color="#f4fb0a"/><stop offset="0.3507" stop-color="#f4fb0a"/><stop offset="0.3523" stop-color="#f4f40a"/><stop offset="0.3591" stop-color="#f4f40a"/><stop offset="0.3607" stop-color="#f5ed09"/><stop offset="0.3658" stop-color="#f5ed09"/><stop offset="0.3674" stop-color="#f5e609"/><stop offset="0.3742" stop-color="#f5e609"/><stop offset="0.3758" stop-color="#f5df09"/><stop offset="0.3842" stop-color="#f5df09"/><stop offset="0.3859" stop-color="#f6d808"/><stop offset="0.3926" stop-color="#f6d808"/><stop offset="0.3943" stop-color="#f6d108"/><stop offset="0.4010" stop-color="#f6d108"/><stop offset="0.4027" stop-color="#f6ca08"/><stop offset="0.4094" stop-color="#f6ca08"/><stop offset="0.4111" stop-color="#f7bd07"/><stop offset="0.4178" stop-color="#f7bd07"/><stop offset="0.4195" stop-color="#f7b607"/><stop offset="0.4279" stop-color="#f7b607"/><stop offset="0.4295" stop-color="#f7af07"/><stop offset="0.4362" stop-color="#f7af07"/><stop offset="0.4379" stop-color="#f8a807"/><stop offset="0.4497" stop-color="#f8a807"/><stop offset="0.4513" stop-color="#f8a106"/><stop offset="0.4581" stop-color="#f8a106"/><stop offset="0.4597" stop-color="#f89a06"/><stop offset="0.4664" stop-color="#f89a06"/><stop offset="0.4681" stop-color="#f99306"/><stop offset="0.4748" stop-color="#f99306"/><stop offset="0.4765" stop-color="#f98c05"/><stop offset="0.4832" stop-color="#f98c05"/><stop offset="0.4849" stop-color="#f98605"/><stop offset="0.4916" stop-color="#f98605"/><stop offset="0.4933" stop-color="#f98005"/><stop offset="0.5000" stop-color="#f98005"/><stop offset="0.5017" stop-color="#fa7b05"/><stop offset="0.5084" stop-color="#fa7b05"/><stop offset="0.5101" stop-color="#fa7505"/><stop offset="0.5151" stop-color="#fa7505"/><stop offset="0.5168" stop-color="#fa7004"/><stop offset="0.5252" stop-color="#fa7004"/><stop offset="0.5268" stop-color="#fa6b04"/><stop offset="0.5319" stop-color="#fa6b04"/><stop offset="0.5336" stop-color="#fb6604"/><stop offset="0.5403" stop-color="#fb6604"/><stop offset="0.5419" stop-color="#fb6204"/><stop offset="0.6107" stop-color="#fd3702"/><stop offset="0.6628" stop-color="#fe1f01"/><stop offset="0.7987" stop-color="#ff0000"/><stop offset="0.8641" stop-color="#fe1c01"/><stop offset="0.8842" stop-color="#fd3702"/><stop offset="0.9044" stop-color="#fa6e04"/><stop offset="0.9128" stop-color="#f98c05"/><stop offset="0.9195" stop-color="#f8aa07"/><stop offset="0.9295" stop-color="#f5e309"/><stop offset="0.9329" stop-color="#f4fc0a"/><stop offset="0.9346" stop-color="#e5fe19"/><stop offset="0.9564" stop-color="#0deff2"/><stop offset="0.9581" stop-color="#00edff"/><stop offset="0.9664" stop-color="#00cbff"/><stop offset="0.9681" stop-color="#00bfff"/><stop offset="0.9715" stop-color="#009aff"/><stop offset="0.9748" stop-color="#007dff"/><stop offset="0.9832" stop-color="#003fff"/><stop offset="0.9899" stop-color="#0012ff"/><stop offset="0.9933" stop-color="#0002ff"/><stop offset="1.0000" stop-color="#0000ff"/></linearGradient><linearGradient id="g106" gradientUnits="userSpaceOnUse" x1="0" y1="4" x2="0" y2="600"><stop offset="0.0000" stop-color="#43f3bc"/><stop offset="0.0386" stop-color="#43f3bc"/><stop offset="0.0403" stop-color="#4af3b5"/><stop offset="0.0487" stop-color="#4af3b5"/><stop offset="0.0503" stop-color="#51f4ae"/><stop offset="0.0587" stop-color="#51f4ae"/><stop offset="0.0604" stop-color="#58f4a7"/><stop offset="0.0688" stop-color="#58f4a7"/><stop offset="0.0738" stop-color="#65f599"/><stop offset="0.0822" stop-color="#65f599"/><stop offset="0.0839" stop-color="#6cf692"/><stop offset="0.0906" stop-color="#6cf692"/><stop offset="0.0923" stop-color="#73f68b"/><stop offset="0.0990" stop-color="#73f68b"/><stop offset="0.1007" stop-color="#7ff77f"/><stop offset="0.1057" stop-color="#7ff77f"/><stop offset="0.1074" stop-color="#85f879"/><stop offset="0.1124" stop-color="#85f879"/><stop offset="0.1141" stop-color="#8af874"/><stop offset="0.1225" stop-color="#8af874"/><stop offset="0.1242" stop-color="#90f86e"/><stop offset="0.1309" stop-color="#90f86e"/><stop offset="0.1326" stop-color="#95f969"/><stop offset="0.1661" stop-color="#95f969"/><stop offset="0.1678" stop-color="#9bf963"/><stop offset="0.1829" stop-color="#a0fa5e"/><stop offset="0.1846" stop-color="#a6fa58"/><stop offset="0.1930" stop-color="#a6fa58"/><stop offset="0.1946" stop-color="#abfa53"/><stop offset="0.2013" stop-color="#abfa53"/><stop offset="0.2064" stop-color="#b6fb48"/><stop offset="0.2131" stop-color="#b6fb48"/><stop offset="0.2148" stop-color="#bafb44"/><stop offset="0.2215" stop-color="#bafb44"/><stop offset="0.2232" stop-color="#bffc3f"/><stop offset="0.2383" stop-color="#c3fc3b"/><stop offset="0.2399" stop-color="#c8fc36"/><stop offset="0.2466" stop-color="#c8fc36"/><stop offset="0.2483" stop-color="#cdfc31"/><stop offset="0.2567" stop-color="#cdfc31"/><stop offset="0.2584" stop-color="#d1fd2d"/><stop offset="0.2651" stop-color="#d1fd2d"/><stop offset="0.2668" stop-color="#d6fd28"/><stop offset="0.2735" stop-color="#d6fd28"/><stop offset="0.2752" stop-color="#dafd24"/><stop offset="0.2836" stop-color="#dafd24"/><stop offset="0.2852" stop-color="#dffe1f"/><stop offset="0.2919" stop-color="#dffe1f"/><stop offset="0.2936" stop-color="#e3fe1b"/><stop offset="0.3003" stop-color="#e3fe1b"/><stop offset="0.3020" stop-color="#e8fe16"/><stop offset="0.3171" stop-color="#edff11"/><stop offset="0.3188" stop-color="#f1ff0d"/><stop offset="0.3272" stop-color="#f1ff0d"/><stop offset="0.3289" stop-color="#f4fb0a"/><stop offset="0.3440" stop-color="#f4fb0a"/><stop offset="0.3456" stop-color="#f4f40a"/><stop offset="0.3523" stop-color="#f4f40a"/><stop offset="0.3540" stop-color="#f5ed09"/><stop offset="0.3591" stop-color="#f5ed09"/><stop offset="0.3607" stop-color="#f5e609"/><stop offset="0.3674" stop-color="#f5e609"/><stop offset="0.3691" stop-color="#f5df09"/><stop offset="0.3775" stop-color="#f5df09"/><stop offset="0.3792" stop-color="#f6d808"/><stop offset="0.3859" stop-color="#f6d808"/><stop offset="0.3876" stop-color="#f6d108"/><stop offset="0.3943" stop-color="#f6d108"/><stop offset="0.3960" stop-color="#f6ca08"/><stop offset="0.4010" stop-color="#f6ca08"/><stop offset="0.4027" stop-color="#f7bd07"/><stop offset="0.4094" stop-color="#f7bd07"/><stop offset="0.4111" stop-color="#f7b607"/><stop offset="0.4178" stop-color="#f7b607"/><stop offset="0.4195" stop-color="#f7af07"/><stop offset="0.4279" stop-color="#f7af07"/><stop offset="0.4295" stop-color="#f8a807"/><stop offset="0.4430" stop-color="#f8a807"/><stop offset="0.4446" stop-color="#f8a106"/><stop offset="0.4513" stop-color="#f8a106"/><stop offset="0.4530" stop-color="#f89a06"/><stop offset="0.4597" stop-color="#f89a06"/><stop offset="0.4614" stop-color="#f99306"/><stop offset="0.4681" stop-color="#f99306"/><stop offset="0.4698" stop-color="#f98c05"/><stop offset="0.4765" stop-color="#f98c05"/><stop offset="0.4782" stop-color="#f98605"/><stop offset="0.4933" stop-color="#f98005"/><stop offset="0.4950" stop-color="#fa7b05"/><stop offset="0.5000" stop-color="#fa7b05"/><stop offset="0.5017" stop-color="#fa7505"/><stop offset="0.5084" stop-color="#fa7505"/><stop offset="0.5101" stop-color="#fa7004"/><stop offset="0.5185" stop-color="#fa7004"/><stop offset="0.5201" stop-color="#fa6b04"/><stop offset="0.5268" stop-color="#fa6b04"/><stop offset="0.5285" stop-color="#fb6604"/><stop offset="0.5352" stop-color="#fb6604"/><stop offset="0.5369" stop-color="#fb6204"/><stop offset="0.5436" stop-color="#fb6204"/><stop offset="0.5453" stop-color="#fb5d04"/><stop offset="0.5503" stop-color="#fb5d04"/><stop offset="0.5520" stop-color="#fb5803"/><stop offset="0.5587" stop-color="#fb5803"/><stop offset="0.5604" stop-color="#fb5403"/><stop offset="0.5654" stop-color="#fb5403"/><stop offset="0.5671" stop-color="#fc4f03"/><stop offset="0.5738" stop-color="#fc4f03"/><stop offset="0.6124" stop-color="#fd3402"/><stop offset="0.6611" stop-color="#fe1c01"/><stop offset="0.7970" stop-color="#ff0000"/><stop offset="0.8641" stop-color="#fe1c01"/><stop offset="0.8842" stop-color="#fd3802"/><stop offset="0.9044" stop-color="#fa6f04"/><stop offset="0.9128" stop-color="#f98e06"/><stop offset="0.9195" stop-color="#f8ac07"/><stop offset="0.9279" stop-color="#f6da09"/><stop offset="0.9329" stop-color="#f3ff0b"/><stop offset="0.9564" stop-color="#0ceff3"/><stop offset="0.9581" stop-color="#00ecff"/><stop offset="0.9664" stop-color="#00cbff"/><stop offset="0.9681" stop-color="#00bfff"/><stop offset="0.9715" stop-color="#009aff"/><stop offset="0.9748" stop-color="#007dff"/><stop offset="0.9832" stop-color="#003fff"/><stop offset="0.9899" stop-color="#0012ff"/><stop offset="0.9933" stop-color="#0002ff"/><stop offset="1.0000" stop-color="#0000ff"/></linearGradient><linearGradient id="g107" gradientUnits="userSpaceOnUse" x1="0" y1="4" x2="0" y2="600"><stop offset="0.0000" stop-color="#43f3bc"/><stop offset="0.0302" stop-color="#43f3bc"/><stop offset="0.0319" stop-color="#4af3b5"/><stop offset="0.0403" stop-color="#4af3b5"/><stop offset="0.0419" stop-color="#51f4ae"/><stop offset="0.0503" stop-color="#51f4ae"/><stop offset="0.0520" stop-color="#58f4a7"/><stop offset="0.0587" stop-color="#58f4a7"/><stop offset="0.0638" stop-color="#65f599"/><stop offset="0.0721" stop-color="#65f599"/><stop offset="0.0738" stop-color="#6cf692"/><stop offset="0.0822" stop-color="#6cf692"/><stop offset="0.0839" stop-color="#73f68b"/><stop offset="0.0889" stop-color="#73f68b"/><stop offset="0.0906" stop-color="#7ff77f"/><stop offset="0.0956" stop-color="#7ff77f"/><stop offset="0.0973" stop-color="#85f879"/><stop offset="0.1023" stop-color="#85f879"/><stop offset="0.1040" stop-color="#8af874"/><stop offset="0.1124" stop-color="#8af874"/><stop offset="0.1141" stop-color="#90f86e"/><stop offset="0.1208" stop-color="#90f86e"/><stop offset="0.1225" stop-color="#95f969"/><stop offset="0.1577" stop-color="#95f969"/><stop offset="0.1594" stop-color="#9bf963"/><stop offset="0.1678" stop-color="#9bf963"/><stop offset="0.1695" stop-color="#a0fa5e"/><stop offset="0.1762" stop-color="#a0fa5e"/><stop offset="0.1779" stop-color="#a6fa58"/><stop offset="0.1930" stop-color="#abfa53"/><stop offset="0.1980" stop-color="#b6fb48"/><stop offset="0.2047" stop-color="#b6fb48"/><stop offset="0.2064" stop-color="#bafb44"/><stop offset="0.2131" stop-color="#bafb44"/><stop offset="0.2148" stop-color="#bffc3f"/><stop offset="0.2299" stop-color="#c3fc3b"/><stop offset="0.2315" stop-color="#c8fc36"/><stop offset="0.2383" stop-color="#c8fc36"/><stop offset="0.2399" stop-color="#cdfc31"/><stop offset="0.2483" stop-color="#cdfc31"/><stop offset="0.2500" stop-color="#d1fd2d"/><stop offset="0.2567" stop-color="#d1fd2d"/><stop offset="0.2584" stop-color="#d6fd28"/><stop offset="0.2668" stop-color="#d6fd28"/><stop offset="0.2685" stop-color="#dafd24"/><stop offset="0.2836" stop-color="#dffe1f"/><stop offset="0.2852" stop-color="#e3fe1b"/><stop offset="0.2919" stop-color="#e3fe1b"/><stop offset="0.2936" stop-color="#e8fe16"/><stop offset="0.3003" stop-color="#e8fe16"/><stop offset="0.3020" stop-color="#edff11"/><stop offset="0.3104" stop-color="#edff11"/><stop offset="0.3121" stop-color="#f1ff0d"/><stop offset="0.3188" stop-color="#f1ff0d"/><stop offset="0.3205" stop-color="#f4fb0a"/><stop offset="0.3372" stop-color="#f4fb0a"/><stop offset="0.3389" stop-color="#f4f40a"/><stop offset="0.3440" stop-color="#f4f40a"/><stop offset="0.3456" stop-color="#f5ed09"/><stop offset="0.3523" stop-color="#f5ed09"/><stop offset="0.3540" stop-color="#f5e609"/><stop offset="0.3607" stop-color="#f5e609"/><stop offset="0.3624" stop-color="#f5df09"/><stop offset="0.3708" stop-color="#f5df09"/><stop offset="0.3725" stop-color="#f6d808"/><stop offset="0.3792" stop-color="#f6d808"/><stop offset="0.3809" stop-color="#f6d108"/><stop offset="0.3876" stop-color="#f6d108"/><stop offset="0.3893" stop-color="#f6ca08"/><stop offset="0.3943" stop-color="#f6ca08"/><stop offset="0.3960" stop-color="#f7bd07"/><stop offset="0.4010" stop-color="#f7bd07"/><stop offset="0.4027" stop-color="#f7b607"/><stop offset="0.4094" stop-color="#f7b607"/><stop offset="0.4111" stop-color="#f7af07"/><stop offset="0.4195" stop-color="#f7af07"/><stop offset="0.4211" stop-color="#f8a807"/><stop offset="0.4362" stop-color="#f8a807"/><stop offset="0.4379" stop-color="#f8a106"/><stop offset="0.4446" stop-color="#f8a106"/><stop offset="0.4463" stop-color="#f89a06"/><stop offset="0.4530" stop-color="#f89a06"/><stop offset="0.4547" stop-color="#f99306"/><stop offset="0.4614" stop-color="#f99306"/><stop offset="0.4631" stop-color="#f98c05"/><stop offset="0.4698" stop-color="#f98c05"/><stop offset="0.4715" stop-color="#f98605"/><stop offset="0.4765" stop-color="#f98605"/><stop offset="0.4782" stop-color="#f98005"/><stop offset="0.4933" stop-color="#fa7b05"/><stop offset="0.4950" stop-color="#fa7505"/><stop offset="0.5017" stop-color="#fa7505"/><stop offset="0.5034" stop-color="#fa7004"/><stop offset="0.5134" stop-color="#fa7004"/><stop offset="0.5151" stop-color="#fa6b04"/><stop offset="0.5218" stop-color="#fa6b04"/><stop offset="0.5235" stop-color="#fb6604"/><stop offset="0.5285" stop-color="#fb6604"/><stop offset="0.5302" stop-color="#fb6204"/><stop offset="0.5369" stop-color="#fb6204"/><stop offset="0.5386" stop-color="#fb5d04"/><stop offset="0.5537" stop-color="#fb5803"/><stop offset="0.5554" stop-color="#fb5403"/><stop offset="0.5604" stop-color="#fb5403"/><stop offset="0.5621" stop-color="#fc4f03"/><stop offset="0.5671" stop-color="#fc4f03"/><stop offset="0.5688" stop-color="#fc4a03"/><stop offset="0.5839" stop-color="#fc4603"/><stop offset="0.5856" stop-color="#fc4103"/><stop offset="0.5906" stop-color="#fc4103"/><stop offset="0.5923" stop-color="#fc3d02"/><stop offset="0.5990" stop-color="#fc3d02"/><stop offset="0.6007" stop-color="#fd3802"/><stop offset="0.6510" stop-color="#fe1c01"/><stop offset="0.7970" stop-color="#ff0000"/><stop offset="0.8641" stop-color="#fe1c01"/><stop offset="0.8842" stop-color="#fd3902"/><stop offset="0.9044" stop-color="#fa7004"/><stop offset="0.9128" stop-color="#f98f06"/><stop offset="0.9195" stop-color="#f8ae07"/><stop offset="0.9279" stop-color="#f5dc09"/><stop offset="0.9312" stop-color="#f4f40a"/><stop offset="0.9329" stop-color="#f0ff0e"/><stop offset="0.9564" stop-color="#0beff4"/><stop offset="0.9581" stop-color="#00ecff"/><stop offset="0.9664" stop-color="#00cbff"/><stop offset="0.9681" stop-color="#00bfff"/><stop offset="0.9715" stop-color="#009aff"/><stop offset="0.9748" stop-color="#007dff"/><stop offset="0.9832" stop-color="#003fff"/><stop offset="0.9899" stop-color="#0012ff"/><stop offset="0.9933" stop-color="#0002ff"/><stop offset="1.0000" stop-color="#0000ff"/></linearGradient><linearGradient id="g108" gradientUnits="userSpaceOnUse" x1="0" y1="4" x2="0" y2="600"><stop offset="0.0000" stop-color="#43f3bc"/><stop offset="0.0218" stop-color="#43f3bc"/><stop offset="0.0235" stop-color="#4af3b5"/><stop offset="0.0319" stop-color="#4af3b5"/><stop offset="0.0336" stop-color="#51f4ae"/><stop offset="0.0419" stop-color="#51f4ae"/><stop offset="0.0436" stop-color="#58f4a7"/><stop offset="0.0503" stop-color="#58f4a7"/><stop offset="0.0554" stop-color="#65f599"/><stop offset="0.0638" stop-color="#65f599"/><stop offset="0.0654" stop-color="#6cf692"/><stop offset="0.0738" stop-color="#6cf692"/><stop offset="0.0755" stop-color="#73f68b"/><stop offset="0.0805" stop-color="#73f68b"/><stop offset="0.0822" stop-color="#7ff77f"/><stop offset="0.0856" stop-color="#7ff77f"/><stop offset="0.0872" stop-color="#85f879"/><stop offset="0.0923" stop-color="#85f879"/><stop offset="0.0940" stop-color="#8af874"/><stop offset="0.1023" stop-color="#8af874"/><stop offset="0.1040" stop-color="#90f86e"/><stop offset="0.1107" stop-color="#90f86e"/><stop offset="0.1124" stop-color="#95f969"/><stop offset="0.1510" stop-color="#95f969"/><stop offset="0.1527" stop-color="#9bf963"/><stop offset="0.1678" stop-color="#a0fa5e"/><stop offset="0.1695" stop-color="#a6fa58"/><stop offset="0.1762" stop-color="#a6fa58"/><stop offset="0.1779" stop-color="#abfa53"/><stop offset="0.1862" stop-color="#abfa53"/><stop offset="0.1896" stop-color="#b6fb48"/><stop offset="0.1963" stop-color="#b6fb48"/><stop offset="0.1980" stop-color="#bafb44"/><stop offset="0.2047" stop-color="#bafb44"/><stop offset="0.2064" stop-color="#bffc3f"/><stop offset="0.2215" stop-color="#c3fc3b"/><stop offset="0.2232" stop-color="#c8fc36"/><stop offset="0.2299" stop-color="#c8fc36"/><stop offset="0.2315" stop-color="#cdfc31"/><stop offset="0.2500" stop-color="#d1fd2d"/><stop offset="0.2517" stop-color="#d6fd28"/><stop offset="0.2584" stop-color="#d6fd28"/><stop offset="0.2601" stop-color="#dafd24"/><stop offset="0.2752" stop-color="#dffe1f"/><stop offset="0.2768" stop-color="#e3fe1b"/><stop offset="0.2836" stop-color="#e3fe1b"/><stop offset="0.2852" stop-color="#e8fe16"/><stop offset="0.2919" stop-color="#e8fe16"/><stop offset="0.2936" stop-color="#edff11"/><stop offset="0.3020" stop-color="#edff11"/><stop offset="0.3037" stop-color="#f1ff0d"/><stop offset="0.3104" stop-color="#f1ff0d"/><stop offset="0.3121" stop-color="#f4fb0a"/><stop offset="0.3305" stop-color="#f4fb0a"/><stop offset="0.3322" stop-color="#f4f40a"/><stop offset="0.3372" stop-color="#f4f40a"/><stop offset="0.3389" stop-color="#f5ed09"/><stop offset="0.3456" stop-color="#f5ed09"/><stop offset="0.3473" stop-color="#f5e609"/><stop offset="0.3540" stop-color="#f5e609"/><stop offset="0.3557" stop-color="#f5df09"/><stop offset="0.3641" stop-color="#f5df09"/><stop offset="0.3658" stop-color="#f6d808"/><stop offset="0.3725" stop-color="#f6d808"/><stop offset="0.3742" stop-color="#f6d108"/><stop offset="0.3809" stop-color="#f6d108"/><stop offset="0.3826" stop-color="#f6ca08"/><stop offset="0.3859" stop-color="#f6ca08"/><stop offset="0.3876" stop-color="#f7bd07"/><stop offset="0.3926" stop-color="#f7bd07"/><stop offset="0.3943" stop-color="#f7b607"/><stop offset="0.4010" stop-color="#f7b607"/><stop offset="0.4027" stop-color="#f7af07"/><stop offset="0.4094" stop-color="#f7af07"/><stop offset="0.4111" stop-color="#f8a807"/><stop offset="0.4295" stop-color="#f8a807"/><stop offset="0.4312" stop-color="#f8a106"/><stop offset="0.4379" stop-color="#f8a106"/><stop offset="0.4396" stop-color="#f89a06"/><stop offset="0.4463" stop-color="#f89a06"/><stop offset="0.4480" stop-color="#f99306"/><stop offset="0.4547" stop-color="#f99306"/><stop offset="0.4564" stop-color="#f98c05"/><stop offset="0.4614" stop-color="#f98c05"/><stop offset="0.4631" stop-color="#f98605"/><stop offset="0.4698" stop-color="#f98605"/><stop offset="0.4715" stop-color="#f98005"/><stop offset="0.4866" stop-color="#fa7b05"/><stop offset="0.4883" stop-color="#fa7505"/><stop offset="0.4950" stop-color="#fa7505"/><stop offset="0.4966" stop-color="#fa7004"/><stop offset="0.5084" stop-color="#fa7004"/><stop offset="0.5101" stop-color="#fa6b04"/><stop offset="0.5151" stop-color="#fa6b04"/><stop offset="0.5168" stop-color="#fb6604"/><stop offset="0.5235" stop-color="#fb6604"/><stop offset="0.5252" stop-color="#fb6204"/><stop offset="0.5319" stop-color="#fb6204"/><stop offset="0.5336" stop-color="#fb5d04"/><stop offset="0.5403" stop-color="#fb5d04"/><stop offset="0.5419" stop-color="#fb5803"/><stop offset="0.5470" stop-color="#fb5803"/><stop offset="0.5487" stop-color="#fb5403"/><stop offset="0.5537" stop-color="#fb5403"/><stop offset="0.5554" stop-color="#fc4f03"/><stop offset="0.5621" stop-color="#fc4f03"/><stop offset="0.5638" stop-color="#fc4a03"/><stop offset="0.5688" stop-color="#fc4a03"/><stop offset="0.5705" stop-color="#fc4603"/><stop offset="0.5839" stop-color="#fc4103"/><stop offset="0.5856" stop-color="#fc3d02"/><stop offset="0.5923" stop-color="#fc3d02"/><stop offset="0.5940" stop-color="#fd3802"/><stop offset="0.6007" stop-color="#fd3802"/><stop offset="0.6023" stop-color="#fd3302"/><stop offset="0.6091" stop-color="#fd3302"/><stop offset="0.6107" stop-color="#fd2f02"/><stop offset="0.6174" stop-color="#fd2f02"/><stop offset="0.6191" stop-color="#fd2a02"/><stop offset="0.6242" stop-color="#fd2a02"/><stop offset="0.6258" stop-color="#fd2501"/><stop offset="0.6326" stop-color="#fd2501"/><stop offset="0.6342" stop-color="#fe2101"/><stop offset="0.6460" stop-color="#fe1c01"/><stop offset="0.6946" stop-color="#fe0f01"/><stop offset="0.7970" stop-color="#ff0000"/><stop offset="0.8624" stop-color="#fe1b01"/><stop offset="0.8826" stop-color="#fd3702"/><stop offset="0.9027" stop-color="#fa6c04"/><stop offset="0.9111" stop-color="#f98a05"/><stop offset="0.9178" stop-color="#f8a707"/><stop offset="0.9279" stop-color="#f5de09"/><stop offset="0.9312" stop-color="#f4f60a"/><stop offset="0.9329" stop-color="#edff11"/><stop offset="0.9564" stop-color="#0aeff5"/><stop offset="0.9581" stop-color="#00ecff"/><stop offset="0.9664" stop-color="#00cbff"/><stop offset="0.9681" stop-color="#00bfff"/><stop offset="0.9715" stop-color="#009aff"/><stop offset="0.9748" stop-color="#007dff"/><stop offset="0.9832" stop-color="#003fff"/><stop offset="0.9899" stop-color="#0012ff"/><stop offset="0.9933" stop-color="#0002ff"/><stop offset="1.0000" stop-color="#0000ff"/></linearGradient><linearGradient id="g109" gradientUnits="userSpaceOnUse" x1="0" y1="4" x2="0" y2="600"><stop offset="0.0000" stop-color="#43f3bc"/><stop offset="0.0134" stop-color="#43f3bc"/><stop offset="0.0151" stop-color="#4af3b5"/><stop offset="0.0235" stop-color="#4af3b5"/><stop offset="0.0252" stop-color="#51f4ae"/><stop offset="0.0319" stop-color="#51f4ae"/><stop offset="0.0336" stop-color="#58f4a7"/><stop offset="0.0419" stop-color="#58f4a7"/><stop offset="0.0453" stop-color="#65f599"/><stop offset="0.0537" stop-color="#65f599"/><stop offset="0.0554" stop-color="#6cf692"/><stop offset="0.0638" stop-color="#6cf692"/><stop offset="0.0654" stop-color="#73f68b"/><stop offset="0.0705" stop-color="#73f68b"/><stop offset="0.0721" stop-color="#7ff77f"/><stop offset="0.0755" stop-color="#7ff77f"/><stop offset="0.0772" stop-color="#85f879"/><stop offset="0.0822" stop-color="#85f879"/><stop offset="0.0839" stop-color="#8af874"/><stop offset="0.0923" stop-color="#8af874"/><stop offset="0.0940" stop-color="#90f86e"/><stop offset="0.1007" stop-color="#90f86e"/><stop offset="0.1023" stop-color="#95f969"/><stop offset="0.1426" stop-color="#95f969"/><stop offset="0.1443" stop-color="#9bf963"/><stop offset="0.1594" stop-color="#a0fa5e"/><stop offset="0.1611" stop-color="#a6fa58"/><stop offset="0.1695" stop-color="#a6fa58"/><stop offset="0.1711" stop-color="#abfa53"/><stop offset="0.1779" stop-color="#abfa53"/><stop offset="0.1812" stop-color="#b6fb48"/><stop offset="0.1879" stop-color="#b6fb48"/><stop offset="0.1896" stop-color="#bafb44"/><stop offset="0.1963" stop-color="#bafb44"/><stop offset="0.1980" stop-color="#bffc3f"/><stop offset="0.2131" stop-color="#c3fc3b"/><stop offset="0.2148" stop-color="#c8fc36"/><stop offset="0.2215" stop-color="#c8fc36"/><stop offset="0.2232" stop-color="#cdfc31"/><stop offset="0.2416" stop-color="#d1fd2d"/><stop offset="0.2433" stop-color="#d6fd28"/><stop offset="0.2500" stop-color="#d6fd28"/><stop offset="0.2517" stop-color="#dafd24"/><stop offset="0.2668" stop-color="#dffe1f"/><stop offset="0.2685" stop-color="#e3fe1b"/><stop offset="0.2752" stop-color="#e3fe1b"/><stop offset="0.2768" stop-color="#e8fe16"/><stop offset="0.2936" stop-color="#edff11"/><stop offset="0.2953" stop-color="#f1ff0d"/><stop offset="0.3020" stop-color="#f1ff0d"/><stop offset="0.3037" stop-color="#f4fb0a"/><stop offset="0.3221" stop-color="#f4fb0a"/><stop offset="0.3238" stop-color="#f4f40a"/><stop offset="0.3305" stop-color="#f4f40a"/><stop offset="0.3322" stop-color="#f5ed09"/><stop offset="0.3389" stop-color="#f5ed09"/><stop offset="0.3406" stop-color="#f5e609"/><stop offset="0.3473" stop-color="#f5e609"/><stop offset="0.3490" stop-color="#f5df09"/><stop offset="0.3574" stop-color="#f5df09"/><stop offset="0.3591" stop-color="#f6d808"/><stop offset="0.3658" stop-color="#f6d808"/><stop offset="0.3674" stop-color="#f6d108"/><stop offset="0.3742" stop-color="#f6d108"/><stop offset="0.3758" stop-color="#f6ca08"/><stop offset="0.3792" stop-color="#f6ca08"/><stop offset="0.3809" stop-color="#f7bd07"/><stop offset="0.3842" stop-color="#f7bd07"/><stop offset="0.3859" stop-color="#f7b607"/><stop offset="0.3926" stop-color="#f7b607"/><stop offset="0.3943" stop-color="#f7af07"/><stop offset="0.4010" stop-color="#f7af07"/><stop offset="0.4027" stop-color="#f8a807"/><stop offset="0.4228" stop-color="#f8a807"/><stop offset="0.4245" stop-color="#f8a106"/><stop offset="0.4312" stop-color="#f8a106"/><stop offset="0.4329" stop-color="#f89a06"/><stop offset="0.4396" stop-color="#f89a06"/><stop offset="0.4413" stop-color="#f99306"/><stop offset="0.4480" stop-color="#f99306"/><stop offset="0.4497" stop-color="#f98c05"/><stop offset="0.4547" stop-color="#f98c05"/><stop offset="0.4564" stop-color="#f98605"/><stop offset="0.4631" stop-color="#f98605"/><stop offset="0.4648" stop-color="#f98005"/><stop offset="0.4799" stop-color="#fa7b05"/><stop offset="0.4815" stop-color="#fa7505"/><stop offset="0.4883" stop-color="#fa7505"/><stop offset="0.4899" stop-color="#fa7004"/><stop offset="0.5017" stop-color="#fa7004"/><stop offset="0.5034" stop-color="#fa6b04"/><stop offset="0.5101" stop-color="#fa6b04"/><stop offset="0.5117" stop-color="#fb6604"/><stop offset="0.5185" stop-color="#fb6604"/><stop offset="0.5201" stop-color="#fb6204"/><stop offset="0.5268" stop-color="#fb6204"/><stop offset="0.5285" stop-color="#fb5d04"/><stop offset="0.5336" stop-color="#fb5d04"/><stop offset="0.5352" stop-color="#fb5803"/><stop offset="0.5419" stop-color="#fb5803"/><stop offset="0.5487" stop-color="#fc4f03"/><stop offset="0.5638" stop-color="#fc4a03"/><stop offset="0.5654" stop-color="#fc4603"/><stop offset="0.5705" stop-color="#fc4603"/><stop offset="0.5721" stop-color="#fc4103"/><stop offset="0.5789" stop-color="#fc4103"/><stop offset="0.5805" stop-color="#fc3d02"/><stop offset="0.5856" stop-color="#fc3d02"/><stop offset="0.5872" stop-color="#fd3802"/><stop offset="0.5940" stop-color="#fd3802"/><stop offset="0.5956" stop-color="#fd3302"/><stop offset="0.6107" stop-color="#fd2f02"/><stop offset="0.6124" stop-color="#fd2a02"/><stop offset="0.6191" stop-color="#fd2a02"/><stop offset="0.6208" stop-color="#fd2501"/><stop offset="0.6275" stop-color="#fd2501"/><stop offset="0.6292" stop-color="#fe2101"/><stop offset="0.6359" stop-color="#fe2101"/><stop offset="0.6376" stop-color="#fe1c01"/><stop offset="0.6980" stop-color="#fe0c00"/><stop offset="0.7953" stop-color="#ff0000"/><stop offset="0.8624" stop-color="#fe1c01"/><stop offset="0.8826" stop-color="#fd3702"/><stop offset="0.9027" stop-color="#fa6d04"/><stop offset="0.9111" stop-color="#f98b05"/><stop offset="0.9178" stop-color="#f8a807"/><stop offset="0.9279" stop-color="#f5e009"/><stop offset="0.9312" stop-color="#f4f80a"/><stop offset="0.9329" stop-color="#eafe14"/><stop offset="0.9564" stop-color="#09eff5"/><stop offset="0.9581" stop-color="#00ebff"/><stop offset="0.9664" stop-color="#00cbff"/><stop offset="0.9681" stop-color="#00bfff"/><stop offset="0.9715" stop-color="#009aff"/><stop offset="0.9748" stop-color="#007dff"/><stop offset="0.9832" stop-color="#003fff"/><stop offset="0.9899" stop-color="#0012ff"/><stop offset="0.9933" stop-color="#0002ff"/><stop offset="1.0000" stop-color="#0000ff"/></linearGradient><linearGradient id="g110" gradientUnits="userSpaceOnUse" x1="0" y1="4" x2="0" y2="600"><stop offset="0.0000" stop-color="#43f3bc"/><stop offset="0.0050" stop-color="#43f3bc"/><stop offset="0.0067" stop-color="#4af3b5"/><stop offset="0.0134" stop-color="#4af3b5"/><stop offset="0.0151" stop-color="#51f4ae"/><stop offset="0.0235" stop-color="#51f4ae"/><stop offset="0.0252" stop-color="#58f4a7"/><stop offset="0.0336" stop-color="#58f4a7"/><stop offset="0.0369" stop-color="#65f599"/><stop offset="0.0453" stop-color="#65f599"/><stop offset="0.0470" stop-color="#6cf692"/><stop offset="0.0554" stop-color="#6cf692"/><stop offset="0.0570" stop-color="#73f68b"/><stop offset="0.0604" stop-color="#73f68b"/><stop offset="0.0621" stop-color="#7ff77f"/><stop offset="0.0654" stop-color="#7ff77f"/><stop offset="0.0671" stop-color="#85f879"/><stop offset="0.0721" stop-color="#85f879"/><stop offset="0.0738" stop-color="#8af874"/><stop offset="0.0822" stop-color="#8af874"/><stop offset="0.0839" stop-color="#90f86e"/><stop offset="0.0906" stop-color="#90f86e"/><stop offset="0.0923" stop-color="#95f969"/><stop offset="0.1342" stop-color="#95f969"/><stop offset="0.1359" stop-color="#9bf963"/><stop offset="0.1426" stop-color="#9bf963"/><stop offset="0.1443" stop-color="#a0fa5e"/><stop offset="0.1527" stop-color="#a0fa5e"/><stop offset="0.1544" stop-color="#a6fa58"/><stop offset="0.1695" stop-color="#abfa53"/><stop offset="0.1728" stop-color="#b6fb48"/><stop offset="0.1795" stop-color="#b6fb48"/><stop offset="0.1812" stop-color="#bafb44"/><stop offset="0.1879" stop-color="#bafb44"/><stop offset="0.1896" stop-color="#bffc3f"/><stop offset="0.2047" stop-color="#c3fc3b"/><stop offset="0.2064" stop-color="#c8fc36"/><stop offset="0.2131" stop-color="#c8fc36"/><stop offset="0.2148" stop-color="#cdfc31"/><stop offset="0.2248" stop-color="#cdfc31"/><stop offset="0.2265" stop-color="#d1fd2d"/><stop offset="0.2332" stop-color="#d1fd2d"/><stop offset="0.2349" stop-color="#d6fd28"/><stop offset="0.2416" stop-color="#d6fd28"/><stop offset="0.2433" stop-color="#dafd24"/><stop offset="0.2584" stop-color="#dffe1f"/><stop offset="0.2601" stop-color="#e3fe1b"/><stop offset="0.2668" stop-color="#e3fe1b"/><stop offset="0.2685" stop-color="#e8fe16"/><stop offset="0.2768" stop-color="#e8fe16"/><stop offset="0.2785" stop-color="#edff11"/><stop offset="0.2852" stop-color="#edff11"/><stop offset="0.2869" stop-color="#f1ff0d"/><stop offset="0.2936" stop-color="#f1ff0d"/><stop offset="0.2953" stop-color="#f4fb0a"/><stop offset="0.3154" stop-color="#f4fb0a"/><stop offset="0.3171" stop-color="#f4f40a"/><stop offset="0.3238" stop-color="#f4f40a"/><stop offset="0.3255" stop-color="#f5ed09"/><stop offset="0.3322" stop-color="#f5ed09"/><stop offset="0.3339" stop-color="#f5e609"/><stop offset="0.3406" stop-color="#f5e609"/><stop offset="0.3423" stop-color="#f5df09"/><stop offset="0.3507" stop-color="#f5df09"/><stop offset="0.3523" stop-color="#f6d808"/><stop offset="0.3591" stop-color="#f6d808"/><stop offset="0.3607" stop-color="#f6d108"/><stop offset="0.3674" stop-color="#f6d108"/><stop offset="0.3691" stop-color="#f6ca08"/><stop offset="0.3708" stop-color="#f6ca08"/><stop offset="0.3725" stop-color="#f7bd07"/><stop offset="0.3758" stop-color="#f7bd07"/><stop offset="0.3775" stop-color="#f7b607"/><stop offset="0.3842" stop-color="#f7b607"/><stop offset="0.3859" stop-color="#f7af07"/><stop offset="0.3926" stop-color="#f7af07"/><stop offset="0.3943" stop-color="#f8a807"/><stop offset="0.4161" stop-color="#f8a807"/><stop offset="0.4178" stop-color="#f8a106"/><stop offset="0.4245" stop-color="#f8a106"/><stop offset="0.4262" stop-color="#f89a06"/><stop offset="0.4329" stop-color="#f89a06"/><stop offset="0.4346" stop-color="#f99306"/><stop offset="0.4413" stop-color="#f99306"/><stop offset="0.4430" stop-color="#f98c05"/><stop offset="0.4480" stop-color="#f98c05"/><stop offset="0.4497" stop-color="#f98605"/><stop offset="0.4564" stop-color="#f98605"/><stop offset="0.4581" stop-color="#f98005"/><stop offset="0.4732" stop-color="#fa7b05"/><stop offset="0.4748" stop-color="#fa7505"/><stop offset="0.4815" stop-color="#fa7505"/><stop offset="0.4832" stop-color="#fa7004"/><stop offset="0.4966" stop-color="#fa7004"/><stop offset="0.4983" stop-color="#fa6b04"/><stop offset="0.5050" stop-color="#fa6b04"/><stop offset="0.5067" stop-color="#fb6604"/><stop offset="0.5117" stop-color="#fb6604"/><stop offset="0.5134" stop-color="#fb6204"/><stop offset="0.5201" stop-color="#fb6204"/><stop offset="0.5218" stop-color="#fb5d04"/><stop offset="0.5369" stop-color="#fb5803"/><stop offset="0.5386" stop-color="#fb5403"/><stop offset="0.5487" stop-color="#fc4f03"/><stop offset="0.5503" stop-color="#fc4a03"/><stop offset="0.5570" stop-color="#fc4a03"/><stop offset="0.5587" stop-color="#fc4603"/><stop offset="0.5638" stop-color="#fc4603"/><stop offset="0.5654" stop-color="#fc4103"/><stop offset="0.5721" stop-color="#fc4103"/><stop offset="0.5738" stop-color="#fc3d02"/><stop offset="0.5889" stop-color="#fd3802"/><stop offset="0.5906" stop-color="#fd3302"/><stop offset="0.5973" stop-color="#fd3302"/><stop offset="0.5990" stop-color="#fd2f02"/><stop offset="0.6040" stop-color="#fd2f02"/><stop offset="0.6057" stop-color="#fd2a02"/><stop offset="0.6124" stop-color="#fd2a02"/><stop offset="0.6141" stop-color="#fd2501"/><stop offset="0.6292" stop-color="#fe2101"/><stop offset="0.6309" stop-color="#fe1c01"/><stop offset="0.6997" stop-color="#ff0800"/><stop offset="0.7953" stop-color="#ff0000"/><stop offset="0.8624" stop-color="#fe1c01"/><stop offset="0.8826" stop-color="#fd3802"/><stop offset="0.9027" stop-color="#fa6e04"/><stop offset="0.9111" stop-color="#f98d06"/><stop offset="0.9178" stop-color="#f8aa07"/><stop offset="0.9279" stop-color="#f5e309"/><stop offset="0.9312" stop-color="#f4fa0a"/><stop offset="0.9329" stop-color="#e8fe16"/><stop offset="0.9564" stop-color="#09eff6"/><stop offset="0.9581" stop-color="#00ebff"/><stop offset="0.9664" stop-color="#00caff"/><stop offset="0.9681" stop-color="#00bfff"/><stop offset="0.9715" stop-color="#009aff"/><stop offset="0.9748" stop-color="#007dff"/><stop offset="0.9832" stop-color="#003fff"/><stop offset="0.9899" stop-color="#0012ff"/><stop offset="0.9933" stop-color="#0002ff"/><stop offset="1.0000" stop-color="#0000ff"/></linearGradient><linearGradient id="g111" gradientUnits="userSpaceOnUse" x1="0" y1="4" x2="0" y2="600"><stop offset="0.0000" stop-color="#4af3b5"/><stop offset="0.0050" stop-color="#4af3b5"/><stop offset="0.0067" stop-color="#51f4ae"/><stop offset="0.0151" stop-color="#51f4ae"/><stop offset="0.0168" stop-color="#58f4a7"/><stop offset="0.0252" stop-color="#58f4a7"/><stop offset="0.0285" stop-color="#65f599"/><stop offset="0.0352" stop-color="#65f599"/><stop offset="0.0369" stop-color="#6cf692"/><stop offset="0.0453" stop-color="#6cf692"/><stop offset="0.0470" stop-color="#73f68b"/><stop offset="0.0520" stop-color="#73f68b"/><stop offset="0.0537" stop-color="#7ff77f"/><stop offset="0.0554" stop-color="#7ff77f"/><stop offset="0.0570" stop-color="#85f879"/><stop offset="0.0621" stop-color="#85f879"/><stop offset="0.0638" stop-color="#8af874"/><stop offset="0.0721" stop-color="#8af874"/><stop offset="0.0738" stop-color="#90f86e"/><stop offset="0.0805" stop-color="#90f86e"/><stop offset="0.0822" stop-color="#95f969"/><stop offset="0.1258" stop-color="#95f969"/><stop offset="0.1275" stop-color="#9bf963"/><stop offset="0.1359" stop-color="#9bf963"/><stop offset="0.1376" stop-color="#a0fa5e"/><stop offset="0.1443" stop-color="#a0fa5e"/><stop offset="0.1460" stop-color="#a6fa58"/><stop offset="0.1611" stop-color="#abfa53"/><stop offset="0.1644" stop-color="#b6fb48"/><stop offset="0.1711" stop-color="#b6fb48"/><stop offset="0.1728" stop-color="#bafb44"/><stop offset="0.1795" stop-color="#bafb44"/><stop offset="0.1812" stop-color="#bffc3f"/><stop offset="0.1963" stop-color="#c3fc3b"/><stop offset="0.1980" stop-color="#c8fc36"/><stop offset="0.2047" stop-color="#c8fc36"/><stop offset="0.2064" stop-color="#cdfc31"/><stop offset="0.2164" stop-color="#cdfc31"/><stop offset="0.2181" stop-color="#d1fd2d"/><stop offset="0.2248" stop-color="#d1fd2d"/><stop offset="0.2265" stop-color="#d6fd28"/><stop offset="0.2332" stop-color="#d6fd28"/><stop offset="0.2349" stop-color="#dafd24"/><stop offset="0.2500" stop-color="#dffe1f"/><stop offset="0.2517" stop-color="#e3fe1b"/><stop offset="0.2601" stop-color="#e3fe1b"/><stop offset="0.2617" stop-color="#e8fe16"/><stop offset="0.2768" stop-color="#edff11"/><stop offset="0.2785" stop-color="#f1ff0d"/><stop offset="0.2852" stop-color="#f1ff0d"/><stop offset="0.2869" stop-color="#f4fb0a"/><stop offset="0.3087" stop-color="#f4fb0a"/><stop offset="0.3104" stop-color="#f4f40a"/><stop offset="0.3171" stop-color="#f4f40a"/><stop offset="0.3188" stop-color="#f5ed09"/><stop offset="0.3255" stop-color="#f5ed09"/><stop offset="0.3272" stop-color="#f5e609"/><stop offset="0.3322" stop-color="#f5e609"/><stop offset="0.3339" stop-color="#f5df09"/><stop offset="0.3440" stop-color="#f5df09"/><stop offset="0.3456" stop-color="#f6d808"/><stop offset="0.3523" stop-color="#f6d808"/><stop offset="0.3540" stop-color="#f6d108"/><stop offset="0.3607" stop-color="#f6d108"/><stop offset="0.3624" stop-color="#f6ca08"/><stop offset="0.3641" stop-color="#f6ca08"/><stop offset="0.3658" stop-color="#f7bd07"/><stop offset="0.3674" stop-color="#f7b607"/><stop offset="0.3758" stop-color="#f7b607"/><stop offset="0.3775" stop-color="#f7af07"/><stop offset="0.3842" stop-color="#f7af07"/><stop offset="0.3859" stop-color="#f8a807"/><stop offset="0.4094" stop-color="#f8a807"/><stop offset="0.4111" stop-color="#f8a106"/><stop offset="0.4178" stop-color="#f8a106"/><stop offset="0.4195" stop-color="#f89a06"/><stop offset="0.4262" stop-color="#f89a06"/><stop offset="0.4279" stop-color="#f99306"/><stop offset="0.4346" stop-color="#f99306"/><stop offset="0.4362" stop-color="#f98c05"/><stop offset="0.4413" stop-color="#f98c05"/><stop offset="0.4430" stop-color="#f98605"/><stop offset="0.4497" stop-color="#f98605"/><stop offset="0.4513" stop-color="#f98005"/><stop offset="0.4664" stop-color="#fa7b05"/><stop offset="0.4681" stop-color="#fa7505"/><stop offset="0.4748" stop-color="#fa7505"/><stop offset="0.4765" stop-color="#fa7004"/><stop offset="0.4916" stop-color="#fa7004"/><stop offset="0.4933" stop-color="#fa6b04"/><stop offset="0.4983" stop-color="#fa6b04"/><stop offset="0.5000" stop-color="#fb6604"/><stop offset="0.5067" stop-color="#fb6604"/><stop offset="0.5084" stop-color="#fb6204"/><stop offset="0.5151" stop-color="#fb6204"/><stop offset="0.5168" stop-color="#fb5d04"/><stop offset="0.5235" stop-color="#fb5d04"/><stop offset="0.5252" stop-color="#fb5803"/><stop offset="0.5352" stop-color="#fb5403"/><stop offset="0.5369" stop-color="#fc4f03"/><stop offset="0.5436" stop-color="#fc4f03"/><stop offset="0.5453" stop-color="#fc4a03"/><stop offset="0.5503" stop-color="#fc4a03"/><stop offset="0.5520" stop-color="#fc4603"/><stop offset="0.5654" stop-color="#fc4103"/><stop offset="0.5671" stop-color="#fc3d02"/><stop offset="0.5738" stop-color="#fc3d02"/><stop offset="0.5755" stop-color="#fd3802"/><stop offset="0.5822" stop-color="#fd3802"/><stop offset="0.5839" stop-color="#fd3302"/><stop offset="0.5990" stop-color="#fd2f02"/><stop offset="0.6007" stop-color="#fd2a02"/><stop offset="0.6074" stop-color="#fd2a02"/><stop offset="0.6091" stop-color="#fd2501"/><stop offset="0.6158" stop-color="#fd2501"/><stop offset="0.6174" stop-color="#fe2101"/><stop offset="0.6225" stop-color="#fe2101"/><stop offset="0.6242" stop-color="#fe1c01"/><stop offset="0.6946" stop-color="#ff0800"/><stop offset="0.7953" stop-color="#ff0000"/><stop offset="0.8624" stop-color="#fe1c01"/><stop offset="0.8826" stop-color="#fd3902"/><stop offset="0.9027" stop-color="#fa6f04"/><stop offset="0.9094" stop-color="#f98805"/><stop offset="0.9178" stop-color="#f8ac07"/><stop offset="0.9262" stop-color="#f6db09"/><stop offset="0.9312" stop-color="#f4fd0a"/><stop offset="0.9329" stop-color="#e5fe19"/><stop offset="0.9564" stop-color="#08eff7"/><stop offset="0.9581" stop-color="#00ebff"/><stop offset="0.9664" stop-color="#00caff"/><stop offset="0.9681" stop-color="#00bfff"/><stop offset="0.9715" stop-color="#009aff"/><stop offset="0.9748" stop-color="#007dff"/><stop offset="0.9832" stop-color="#003fff"/><stop offset="0.9899" stop-color="#0012ff"/><stop offset="0.9933" stop-color="#0002ff"/><stop offset="1.0000" stop-color="#0000ff"/></linearGradient><linearGradient id="g112" gradientUnits="userSpaceOnUse" x1="0" y1="4" x2="0" y2="600"><stop offset="0.0000" stop-color="#51f4ae"/><stop offset="0.0067" stop-color="#51f4ae"/><stop offset="0.0084" stop-color="#58f4a7"/><stop offset="0.0168" stop-color="#58f4a7"/><stop offset="0.0185" stop-color="#65f599"/><stop offset="0.0268" stop-color="#65f599"/><stop offset="0.0285" stop-color="#6cf692"/><stop offset="0.0369" stop-color="#6cf692"/><stop offset="0.0386" stop-color="#73f68b"/><stop offset="0.0419" stop-color="#73f68b"/><stop offset="0.0436" stop-color="#7ff77f"/><stop offset="0.0453" stop-color="#7ff77f"/><stop offset="0.0470" stop-color="#85f879"/><stop offset="0.0520" stop-color="#85f879"/><stop offset="0.0537" stop-color="#8af874"/><stop offset="0.0621" stop-color="#8af874"/><stop offset="0.0638" stop-color="#90f86e"/><stop offset="0.0705" stop-color="#90f86e"/><stop offset="0.0721" stop-color="#95f969"/><stop offset="0.1191" stop-color="#95f969"/><stop offset="0.1208" stop-color="#9bf963"/><stop offset="0.1359" stop-color="#a0fa5e"/><stop offset="0.1376" stop-color="#a6fa58"/><stop offset="0.1443" stop-color="#a6fa58"/><stop offset="0.1460" stop-color="#abfa53"/><stop offset="0.1544" stop-color="#abfa53"/><stop offset="0.1560" stop-color="#b6fb48"/><stop offset="0.1628" stop-color="#b6fb48"/><stop offset="0.1644" stop-color="#bafb44"/><stop offset="0.1711" stop-color="#bafb44"/><stop offset="0.1728" stop-color="#bffc3f"/><stop offset="0.1879" stop-color="#c3fc3b"/><stop offset="0.1896" stop-color="#c8fc36"/><stop offset="0.1963" stop-color="#c8fc36"/><stop offset="0.1980" stop-color="#cdfc31"/><stop offset="0.2081" stop-color="#cdfc31"/><stop offset="0.2097" stop-color="#d1fd2d"/><stop offset="0.2164" stop-color="#d1fd2d"/><stop offset="0.2181" stop-color="#d6fd28"/><stop offset="0.2248" stop-color="#d6fd28"/><stop offset="0.2265" stop-color="#dafd24"/><stop offset="0.2332" stop-color="#dafd24"/><stop offset="0.2349" stop-color="#dffe1f"/><stop offset="0.2433" stop-color="#dffe1f"/><stop offset="0.2450" stop-color="#e3fe1b"/><stop offset="0.2517" stop-color="#e3fe1b"/><stop offset="0.2534" stop-color="#e8fe16"/><stop offset="0.2685" stop-color="#edff11"/><stop offset="0.2701" stop-color="#f1ff0d"/><stop offset="0.2768" stop-color="#f1ff0d"/><stop offset="0.2785" stop-color="#f4fb0a"/><stop offset="0.3020" stop-color="#f4fb0a"/><stop offset="0.3037" stop-color="#f4f40a"/><stop offset="0.3104" stop-color="#f4f40a"/><stop offset="0.3121" stop-color="#f5ed09"/><stop offset="0.3188" stop-color="#f5ed09"/><stop offset="0.3205" stop-color="#f5e609"/><stop offset="0.3255" stop-color="#f5e609"/><stop offset="0.3272" stop-color="#f5df09"/><stop offset="0.3372" stop-color="#f5df09"/><stop offset="0.3389" stop-color="#f6d808"/><stop offset="0.3456" stop-color="#f6d808"/><stop offset="0.3473" stop-color="#f6d108"/><stop offset="0.3540" stop-color="#f6d108"/><stop offset="0.3591" stop-color="#f7b607"/><stop offset="0.3674" stop-color="#f7b607"/><stop offset="0.3691" stop-color="#f7af07"/><stop offset="0.3758" stop-color="#f7af07"/><stop offset="0.3775" stop-color="#f8a807"/><stop offset="0.4027" stop-color="#f8a807"/><stop offset="0.4044" stop-color="#f8a106"/><stop offset="0.4111" stop-color="#f8a106"/><stop offset="0.4128" stop-color="#f89a06"/><stop offset="0.4195" stop-color="#f89a06"/><stop offset="0.4211" stop-color="#f99306"/><stop offset="0.4262" stop-color="#f99306"/><stop offset="0.4279" stop-color="#f98c05"/><stop offset="0.4346" stop-color="#f98c05"/><stop offset="0.4362" stop-color="#f98605"/><stop offset="0.4430" stop-color="#f98605"/><stop offset="0.4446" stop-color="#f98005"/><stop offset="0.4513" stop-color="#f98005"/><stop offset="0.4530" stop-color="#fa7b05"/><stop offset="0.4597" stop-color="#fa7b05"/><stop offset="0.4614" stop-color="#fa7505"/><stop offset="0.4681" stop-color="#fa7505"/><stop offset="0.4698" stop-color="#fa7004"/><stop offset="0.4849" stop-color="#fa7004"/><stop offset="0.4866" stop-color="#fa6b04"/><stop offset="0.4933" stop-color="#fa6b04"/><stop offset="0.4950" stop-color="#fb6604"/><stop offset="0.5017" stop-color="#fb6604"/><stop offset="0.5034" stop-color="#fb6204"/><stop offset="0.5101" stop-color="#fb6204"/><stop offset="0.5117" stop-color="#fb5d04"/><stop offset="0.5168" stop-color="#fb5d04"/><stop offset="0.5185" stop-color="#fb5803"/><stop offset="0.5252" stop-color="#fb5803"/><stop offset="0.5302" stop-color="#fc4f03"/><stop offset="0.5369" stop-color="#fc4f03"/><stop offset="0.5386" stop-color="#fc4a03"/><stop offset="0.5436" stop-color="#fc4a03"/><stop offset="0.5453" stop-color="#fc4603"/><stop offset="0.5604" stop-color="#fc4103"/><stop offset="0.5621" stop-color="#fc3d02"/><stop offset="0.5671" stop-color="#fc3d02"/><stop offset="0.5688" stop-color="#fd3802"/><stop offset="0.5772" stop-color="#fd3802"/><stop offset="0.5789" stop-color="#fd3302"/><stop offset="0.5839" stop-color="#fd3302"/><stop offset="0.5856" stop-color="#fd2f02"/><stop offset="0.5923" stop-color="#fd2f02"/><stop offset="0.5940" stop-color="#fd2a02"/><stop offset="0.6007" stop-color="#fd2a02"/><stop offset="0.6023" stop-color="#fd2501"/><stop offset="0.6174" stop-color="#fe2101"/><stop offset="0.6191" stop-color="#fe1c01"/><stop offset="0.6879" stop-color="#ff0800"/><stop offset="0.7567" stop-color="#ff0000"/><stop offset="0.8003" stop-color="#ff0200"/><stop offset="0.8272" stop-color="#ff0a00"/><stop offset="0.8607" stop-color="#fe1b01"/><stop offset="0.8809" stop-color="#fd3702"/><stop offset="0.9010" stop-color="#fa6c04"/><stop offset="0.9094" stop-color="#f98905"/><stop offset="0.9178" stop-color="#f7ae07"/><stop offset="0.9262" stop-color="#f5dc09"/><stop offset="0.9312" stop-color="#f2ff0c"/><stop offset="0.9564" stop-color="#07eff8"/><stop offset="0.9581" stop-color="#00eaff"/><stop offset="0.9664" stop-color="#00caff"/><stop offset="0.9681" stop-color="#00bfff"/><stop offset="0.9715" stop-color="#009aff"/><stop offset="0.9748" stop-color="#007dff"/><stop offset="0.9832" stop-color="#003fff"/><stop offset="0.9899" stop-color="#0012ff"/><stop offset="0.9933" stop-color="#0002ff"/><stop offset="1.0000" stop-color="#0000ff"/></linearGradient><linearGradient id="g113" gradientUnits="userSpaceOnUse" x1="0" y1="4" x2="0" y2="600"><stop offset="0.0000" stop-color="#58f4a7"/><stop offset="0.0067" stop-color="#58f4a7"/><stop offset="0.0101" stop-color="#65f599"/><stop offset="0.0185" stop-color="#65f599"/><stop offset="0.0201" stop-color="#6cf692"/><stop offset="0.0285" stop-color="#6cf692"/><stop offset="0.0302" stop-color="#73f68b"/><stop offset="0.0319" stop-color="#73f68b"/><stop offset="0.0336" stop-color="#7ff77f"/><stop offset="0.0352" stop-color="#7ff77f"/><stop offset="0.0369" stop-color="#85f879"/><stop offset="0.0419" stop-color="#85f879"/><stop offset="0.0436" stop-color="#8af874"/><stop offset="0.0520" stop-color="#8af874"/><stop offset="0.0537" stop-color="#90f86e"/><stop offset="0.0604" stop-color="#90f86e"/><stop offset="0.0621" stop-color="#95f969"/><stop offset="0.1107" stop-color="#95f969"/><stop offset="0.1124" stop-color="#9bf963"/><stop offset="0.1275" stop-color="#a0fa5e"/><stop offset="0.1292" stop-color="#a6fa58"/><stop offset="0.1376" stop-color="#a6fa58"/><stop offset="0.1393" stop-color="#abfa53"/><stop offset="0.1460" stop-color="#abfa53"/><stop offset="0.1477" stop-color="#b6fb48"/><stop offset="0.1628" stop-color="#bafb44"/><stop offset="0.1644" stop-color="#bffc3f"/><stop offset="0.1779" stop-color="#c3fc3b"/><stop offset="0.1795" stop-color="#c8fc36"/><stop offset="0.1862" stop-color="#c8fc36"/><stop offset="0.1879" stop-color="#cdfc31"/><stop offset="0.1997" stop-color="#cdfc31"/><stop offset="0.2013" stop-color="#d1fd2d"/><stop offset="0.2081" stop-color="#d1fd2d"/><stop offset="0.2097" stop-color="#d6fd28"/><stop offset="0.2164" stop-color="#d6fd28"/><stop offset="0.2181" stop-color="#dafd24"/><stop offset="0.2248" stop-color="#dafd24"/><stop offset="0.2265" stop-color="#dffe1f"/><stop offset="0.2349" stop-color="#dffe1f"/><stop offset="0.2366" stop-color="#e3fe1b"/><stop offset="0.2433" stop-color="#e3fe1b"/><stop offset="0.2450" stop-color="#e8fe16"/><stop offset="0.2601" stop-color="#edff11"/><stop offset="0.2617" stop-color="#f1ff0d"/><stop offset="0.2685" stop-color="#f1ff0d"/><stop offset="0.2701" stop-color="#f4fb0a"/><stop offset="0.2953" stop-color="#f4fb0a"/><stop offset="0.2970" stop-color="#f4f40a"/><stop offset="0.3037" stop-color="#f4f40a"/><stop offset="0.3054" stop-color="#f5ed09"/><stop offset="0.3104" stop-color="#f5ed09"/><stop offset="0.3121" stop-color="#f5e609"/><stop offset="0.3188" stop-color="#f5e609"/><stop offset="0.3205" stop-color="#f5df09"/><stop offset="0.3305" stop-color="#f5df09"/><stop offset="0.3322" stop-color="#f6d808"/><stop offset="0.3389" stop-color="#f6d808"/><stop offset="0.3406" stop-color="#f6d108"/><stop offset="0.3473" stop-color="#f6d108"/><stop offset="0.3490" stop-color="#f6ca08"/><stop offset="0.3507" stop-color="#f7b607"/><stop offset="0.3574" stop-color="#f7b607"/><stop offset="0.3591" stop-color="#f7af07"/><stop offset="0.3674" stop-color="#f7af07"/><stop offset="0.3691" stop-color="#f8a807"/><stop offset="0.3960" stop-color="#f8a807"/><stop offset="0.3977" stop-color="#f8a106"/><stop offset="0.4027" stop-color="#f8a106"/><stop offset="0.4044" stop-color="#f89a06"/><stop offset="0.4111" stop-color="#f89a06"/><stop offset="0.4128" stop-color="#f99306"/><stop offset="0.4195" stop-color="#f99306"/><stop offset="0.4211" stop-color="#f98c05"/><stop offset="0.4279" stop-color="#f98c05"/><stop offset="0.4295" stop-color="#f98605"/><stop offset="0.4362" stop-color="#f98605"/><stop offset="0.4379" stop-color="#f98005"/><stop offset="0.4446" stop-color="#f98005"/><stop offset="0.4463" stop-color="#fa7b05"/><stop offset="0.4530" stop-color="#fa7b05"/><stop offset="0.4547" stop-color="#fa7505"/><stop offset="0.4614" stop-color="#fa7505"/><stop offset="0.4631" stop-color="#fa7004"/><stop offset="0.4799" stop-color="#fa7004"/><stop offset="0.4815" stop-color="#fa6b04"/><stop offset="0.4883" stop-color="#fa6b04"/><stop offset="0.4899" stop-color="#fb6604"/><stop offset="0.4950" stop-color="#fb6604"/><stop offset="0.4966" stop-color="#fb6204"/><stop offset="0.5034" stop-color="#fb6204"/><stop offset="0.5050" stop-color="#fb5d04"/><stop offset="0.5201" stop-color="#fb5803"/><stop offset="0.5252" stop-color="#fc4f03"/><stop offset="0.5302" stop-color="#fc4f03"/><stop offset="0.5319" stop-color="#fc4a03"/><stop offset="0.5386" stop-color="#fc4a03"/><stop offset="0.5403" stop-color="#fc4603"/><stop offset="0.5453" stop-color="#fc4603"/><stop offset="0.5470" stop-color="#fc4103"/><stop offset="0.5537" stop-color="#fc4103"/><stop offset="0.5554" stop-color="#fc3d02"/><stop offset="0.5705" stop-color="#fd3802"/><stop offset="0.5721" stop-color="#fd3302"/><stop offset="0.5872" stop-color="#fd2f02"/><stop offset="0.5889" stop-color="#fd2a02"/><stop offset="0.5956" stop-color="#fd2a02"/><stop offset="0.5973" stop-color="#fd2501"/><stop offset="0.6107" stop-color="#fe2101"/><stop offset="0.6124" stop-color="#fe1c01"/><stop offset="0.6225" stop-color="#fe1c01"/><stop offset="0.6829" stop-color="#ff0800"/><stop offset="0.7433" stop-color="#ff0100"/><stop offset="0.8104" stop-color="#ff0400"/><stop offset="0.8289" stop-color="#ff0800"/><stop offset="0.8523" stop-color="#fe1401"/><stop offset="0.8624" stop-color="#fe1d01"/><stop offset="0.8809" stop-color="#fd3702"/><stop offset="0.9010" stop-color="#fa6d04"/><stop offset="0.9094" stop-color="#f98b05"/><stop offset="0.9161" stop-color="#f8a707"/><stop offset="0.9262" stop-color="#f5de09"/><stop offset="0.9295" stop-color="#f4f50a"/><stop offset="0.9312" stop-color="#f0ff0e"/><stop offset="0.9564" stop-color="#06eef9"/><stop offset="0.9581" stop-color="#00eaff"/><stop offset="0.9664" stop-color="#00caff"/><stop offset="0.9681" stop-color="#00bfff"/><stop offset="0.9715" stop-color="#009aff"/><stop offset="0.9748" stop-color="#007dff"/><stop offset="0.9832" stop-color="#003fff"/><stop offset="0.9899" stop-color="#0012ff"/><stop offset="0.9933" stop-color="#0002ff"/><stop offset="1.0000" stop-color="#0000ff"/></linearGradient><linearGradient id="g114" gradientUnits="userSpaceOnUse" x1="0" y1="4" x2="0" y2="600"><stop offset="0.0000" stop-color="#65f599"/><stop offset="0.0084" stop-color="#65f599"/><stop offset="0.0101" stop-color="#6cf692"/><stop offset="0.0185" stop-color="#6cf692"/><stop offset="0.0201" stop-color="#73f68b"/><stop offset="0.0235" stop-color="#73f68b"/><stop offset="0.0252" stop-color="#7ff77f"/><stop offset="0.0268" stop-color="#85f879"/><stop offset="0.0319" stop-color="#85f879"/><stop offset="0.0336" stop-color="#8af874"/><stop offset="0.0419" stop-color="#8af874"/><stop offset="0.0436" stop-color="#90f86e"/><stop offset="0.0503" stop-color="#90f86e"/><stop offset="0.0520" stop-color="#95f969"/><stop offset="0.1023" stop-color="#95f969"/><stop offset="0.1040" stop-color="#9bf963"/><stop offset="0.1107" stop-color="#9bf963"/><stop offset="0.1124" stop-color="#a0fa5e"/><stop offset="0.1208" stop-color="#a0fa5e"/><stop offset="0.1225" stop-color="#a6fa58"/><stop offset="0.1376" stop-color="#abfa53"/><stop offset="0.1393" stop-color="#b6fb48"/><stop offset="0.1443" stop-color="#b6fb48"/><stop offset="0.1460" stop-color="#bafb44"/><stop offset="0.1527" stop-color="#bafb44"/><stop offset="0.1544" stop-color="#bffc3f"/><stop offset="0.1695" stop-color="#c3fc3b"/><stop offset="0.1711" stop-color="#c8fc36"/><stop offset="0.1779" stop-color="#c8fc36"/><stop offset="0.1795" stop-color="#cdfc31"/><stop offset="0.1913" stop-color="#cdfc31"/><stop offset="0.1930" stop-color="#d1fd2d"/><stop offset="0.1997" stop-color="#d1fd2d"/><stop offset="0.2013" stop-color="#d6fd28"/><stop offset="0.2081" stop-color="#d6fd28"/><stop offset="0.2097" stop-color="#dafd24"/><stop offset="0.2181" stop-color="#dafd24"/><stop offset="0.2198" stop-color="#dffe1f"/><stop offset="0.2265" stop-color="#dffe1f"/><stop offset="0.2282" stop-color="#e3fe1b"/><stop offset="0.2349" stop-color="#e3fe1b"/><stop offset="0.2366" stop-color="#e8fe16"/><stop offset="0.2517" stop-color="#edff11"/><stop offset="0.2534" stop-color="#f1ff0d"/><stop offset="0.2617" stop-color="#f1ff0d"/><stop offset="0.2634" stop-color="#f4fb0a"/><stop offset="0.2886" stop-color="#f4fb0a"/><stop offset="0.2903" stop-color="#f4f40a"/><stop offset="0.2953" stop-color="#f4f40a"/><stop offset="0.2970" stop-color="#f5ed09"/><stop offset="0.3037" stop-color="#f5ed09"/><stop offset="0.3054" stop-color="#f5e609"/><stop offset="0.3121" stop-color="#f5e609"/><stop offset="0.3138" stop-color="#f5df09"/><stop offset="0.3238" stop-color="#f5df09"/><stop offset="0.3255" stop-color="#f6d808"/><stop offset="0.3322" stop-color="#f6d808"/><stop offset="0.3339" stop-color="#f6d108"/><stop offset="0.3406" stop-color="#f6d108"/><stop offset="0.3423" stop-color="#f7b607"/><stop offset="0.3490" stop-color="#f7b607"/><stop offset="0.3507" stop-color="#f7af07"/><stop offset="0.3574" stop-color="#f7af07"/><stop offset="0.3591" stop-color="#f8a807"/><stop offset="0.3876" stop-color="#f8a807"/><stop offset="0.3893" stop-color="#f8a106"/><stop offset="0.3960" stop-color="#f8a106"/><stop offset="0.3977" stop-color="#f89a06"/><stop offset="0.4044" stop-color="#f89a06"/><stop offset="0.4060" stop-color="#f99306"/><stop offset="0.4128" stop-color="#f99306"/><stop offset="0.4144" stop-color="#f98c05"/><stop offset="0.4211" stop-color="#f98c05"/><stop offset="0.4228" stop-color="#f98605"/><stop offset="0.4295" stop-color="#f98605"/><stop offset="0.4312" stop-color="#f98005"/><stop offset="0.4379" stop-color="#f98005"/><stop offset="0.4396" stop-color="#fa7b05"/><stop offset="0.4463" stop-color="#fa7b05"/><stop offset="0.4480" stop-color="#fa7505"/><stop offset="0.4547" stop-color="#fa7505"/><stop offset="0.4564" stop-color="#fa7004"/><stop offset="0.4748" stop-color="#fa7004"/><stop offset="0.4765" stop-color="#fa6b04"/><stop offset="0.4815" stop-color="#fa6b04"/><stop offset="0.4832" stop-color="#fb6604"/><stop offset="0.4899" stop-color="#fb6604"/><stop offset="0.4916" stop-color="#fb6204"/><stop offset="0.4983" stop-color="#fb6204"/><stop offset="0.5000" stop-color="#fb5d04"/><stop offset="0.5134" stop-color="#fb5803"/><stop offset="0.5185" stop-color="#fc4f03"/><stop offset="0.5235" stop-color="#fc4f03"/><stop offset="0.5252" stop-color="#fc4a03"/><stop offset="0.5403" stop-color="#fc4603"/><stop offset="0.5419" stop-color="#fc4103"/><stop offset="0.5554" stop-color="#fc3d02"/><stop offset="0.5570" stop-color="#fd3802"/><stop offset="0.5654" stop-color="#fd3802"/><stop offset="0.5671" stop-color="#fd3302"/><stop offset="0.5721" stop-color="#fd3302"/><stop offset="0.5738" stop-color="#fd2f02"/><stop offset="0.5805" stop-color="#fd2f02"/><stop offset="0.5822" stop-color="#fd2a02"/><stop offset="0.5889" stop-color="#fd2a02"/><stop offset="0.5906" stop-color="#fd2501"/><stop offset="0.6057" stop-color="#fe2101"/><stop offset="0.6074" stop-color="#fe1c01"/><stop offset="0.6174" stop-color="#fe1c01"/><stop offset="0.6779" stop-color="#ff0800"/><stop offset="0.7466" stop-color="#ff0000"/><stop offset="0.8305" stop-color="#ff0600"/><stop offset="0.8339" stop-color="#ff0b00"/><stop offset="0.8507" stop-color="#ff0b00"/><stop offset="0.8523" stop-color="#fe1c01"/><stop offset="0.8708" stop-color="#fe1c01"/><stop offset="0.8725" stop-color="#fd3802"/><stop offset="0.8859" stop-color="#fd3802"/><stop offset="0.8876" stop-color="#fb5403"/><stop offset="0.8960" stop-color="#fb5403"/><stop offset="0.8977" stop-color="#fa7004"/><stop offset="0.9044" stop-color="#fa7004"/><stop offset="0.9060" stop-color="#f98c05"/><stop offset="0.9128" stop-color="#f98c05"/><stop offset="0.9144" stop-color="#f8a807"/><stop offset="0.9178" stop-color="#f8a807"/><stop offset="0.9195" stop-color="#f7c308"/><stop offset="0.9228" stop-color="#f7c308"/><stop offset="0.9245" stop-color="#f5df09"/><stop offset="0.9279" stop-color="#f5df09"/><stop offset="0.9295" stop-color="#f4fb0a"/><stop offset="0.9312" stop-color="#eeff10"/><stop offset="0.9564" stop-color="#06eef9"/><stop offset="0.9581" stop-color="#00eaff"/><stop offset="0.9664" stop-color="#00caff"/><stop offset="0.9681" stop-color="#00bfff"/><stop offset="0.9715" stop-color="#009aff"/><stop offset="0.9748" stop-color="#007dff"/><stop offset="0.9832" stop-color="#003fff"/><stop offset="0.9899" stop-color="#0012ff"/><stop offset="0.9933" stop-color="#0002ff"/><stop offset="1.0000" stop-color="#0000ff"/></linearGradient>
<clipPath id="reg"><path d="M173.6 597.0 L173.6 387.5 L278.2 167.0 L382.7 61.0 L488.0 10.0 L804.5 10.0 L843.8 63.8 L882.5 112.5 L917.5 162.5 L941.0 202.0 L961.8 236.0 L987.0 281.8 L1005.0 317.0 L1015.0 341.0 L1025.5 363.8 L1036.3 388.0 L1050.0 422.5 L1062.5 457.5 L1076.2 497.5 L1078.5 503.0 L1078.5 597.0Z"/></clipPath>
<filter id="hb" x="-2%" y="-2%" width="104%" height="104%"><feGaussianBlur stdDeviation="3 0"/></filter>
<linearGradient id="cb" x1="0" y1="1" x2="0" y2="0"><stop offset="0.0000" stop-color="#0000ff"/><stop offset="0.0227" stop-color="#0004ff"/><stop offset="0.0455" stop-color="#0008ff"/><stop offset="0.0682" stop-color="#000cff"/><stop offset="0.0909" stop-color="#0011ff"/><stop offset="0.1136" stop-color="#0017ff"/><stop offset="0.1364" stop-color="#001dff"/><stop offset="0.1591" stop-color="#0023ff"/><stop offset="0.1818" stop-color="#0029ff"/><stop offset="0.2045" stop-color="#002fff"/><stop offset="0.2273" stop-color="#0035ff"/><stop offset="0.2500" stop-color="#003bff"/><stop offset="0.2727" stop-color="#0041ff"/><stop offset="0.2955" stop-color="#0047ff"/><stop offset="0.3182" stop-color="#004eff"/><stop offset="0.3409" stop-color="#0055ff"/><stop offset="0.3636" stop-color="#005bff"/><stop offset="0.3864" stop-color="#0062ff"/><stop offset="0.4091" stop-color="#0069ff"/><stop offset="0.4318" stop-color="#006fff"/><stop offset="0.4545" stop-color="#0076ff"/><stop offset="0.4773" stop-color="#007dff"/><stop offset="0.5000" stop-color="#0084ff"/><stop offset="0.5227" stop-color="#008cff"/><stop offset="0.5455" stop-color="#0093ff"/><stop offset="0.5682" stop-color="#009cff"/><stop offset="0.5909" stop-color="#00a5ff"/><stop offset="0.6136" stop-color="#00afff"/><stop offset="0.6364" stop-color="#00b9ff"/><stop offset="0.6591" stop-color="#00c5ff"/><stop offset="0.6818" stop-color="#00d2ff"/><stop offset="0.7045" stop-color="#00dfff"/><stop offset="0.7273" stop-color="#00ecff"/><stop offset="0.7500" stop-color="#1af0e5"/><stop offset="0.7727" stop-color="#39f2c6"/><stop offset="0.7955" stop-color="#58f5a6"/><stop offset="0.8182" stop-color="#77f787"/><stop offset="0.8409" stop-color="#97f967"/><stop offset="0.8636" stop-color="#b6fb48"/><stop offset="0.8864" stop-color="#d5fd29"/><stop offset="0.9091" stop-color="#f4fe0a"/><stop offset="0.9318" stop-color="#f7be07"/><stop offset="0.9545" stop-color="#fa7f05"/><stop offset="0.9773" stop-color="#fc3f02"/><stop offset="1.0000" stop-color="#ff0000"/></linearGradient>
</defs>
<rect width="1227" height="661" fill="#d2d2d2"/><rect x="0" y="0" width="1.2" height="661" fill="#f4f4f4"/><rect x="1225.9" y="0" width="1.1" height="661" fill="#f4f4f4"/>
<rect x="68" y="10" width="1010.5" height="587" fill="#fff"/>
<g clip-path="url(#reg)"><g filter="url(#hb)"><rect x="166" y="4" width="8.6" height="596" fill="url(#g0)"/><rect x="174" y="4" width="8.6" height="596" fill="url(#g1)"/><rect x="182" y="4" width="8.6" height="596" fill="url(#g2)"/><rect x="190" y="4" width="8.6" height="596" fill="url(#g3)"/><rect x="198" y="4" width="8.6" height="596" fill="url(#g4)"/><rect x="206" y="4" width="8.6" height="596" fill="url(#g5)"/><rect x="214" y="4" width="8.6" height="596" fill="url(#g6)"/><rect x="222" y="4" width="8.6" height="596" fill="url(#g7)"/><rect x="230" y="4" width="8.6" height="596" fill="url(#g8)"/><rect x="238" y="4" width="8.6" height="596" fill="url(#g9)"/><rect x="246" y="4" width="8.6" height="596" fill="url(#g10)"/><rect x="254" y="4" width="8.6" height="596" fill="url(#g11)"/><rect x="262" y="4" width="8.6" height="596" fill="url(#g12)"/><rect x="270" y="4" width="8.6" height="596" fill="url(#g13)"/><rect x="278" y="4" width="8.6" height="596" fill="url(#g14)"/><rect x="286" y="4" width="8.6" height="596" fill="url(#g15)"/><rect x="294" y="4" width="8.6" height="596" fill="url(#g16)"/><rect x="302" y="4" width="8.6" height="596" fill="url(#g17)"/><rect x="310" y="4" width="8.6" height="596" fill="url(#g18)"/><rect x="318" y="4" width="8.6" height="596" fill="url(#g19)"/><rect x="326" y="4" width="8.6" height="596" fill="url(#g20)"/><rect x="334" y="4" width="8.6" height="596" fill="url(#g21)"/><rect x="342" y="4" width="8.6" height="596" fill="url(#g22)"/><rect x="350" y="4" width="8.6" height="596" fill="url(#g23)"/><rect x="358" y="4" width="8.6" height="596" fill="url(#g24)"/><rect x="366" y="4" width="8.6" height="596" fill="url(#g25)"/><rect x="374" y="4" width="8.6" height="596" fill="url(#g26)"/><rect x="382" y="4" width="8.6" height="596" fill="url(#g27)"/><rect x="390" y="4" width="8.6" height="596" fill="url(#g28)"/><rect x="398" y="4" width="8.6" height="596" fill="url(#g29)"/><rect x="406" y="4" width="8.6" height="596" fill="url(#g30)"/><rect x="414" y="4" width="8.6" height="596" fill="url(#g31)"/><rect x="422" y="4" width="8.6" height="596" fill="url(#g32)"/><rect x="430" y="4" width="8.6" height="596" fill="url(#g33)"/><rect x="438" y="4" width="8.6" height="596" fill="url(#g34)"/><rect x="446" y="4" width="8.6" height="596" fill="url(#g35)"/><rect x="454" y="4" width="8.6" height="596" fill="url(#g36)"/><rect x="462" y="4" width="8.6" height="596" fill="url(#g37)"/><rect x="470" y="4" width="8.6" height="596" fill="url(#g38)"/><rect x="478" y="4" width="8.6" height="596" fill="url(#g39)"/><rect x="486" y="4" width="8.6" height="596" fill="url(#g40)"/><rect x="494" y="4" width="8.6" height="596" fill="url(#g41)"/><rect x="502" y="4" width="8.6" height="596" fill="url(#g42)"/><rect x="510" y="4" width="8.6" height="596" fill="url(#g43)"/><rect x="518" y="4" width="8.6" height="596" fill="url(#g44)"/><rect x="526" y="4" width="8.6" height="596" fill="url(#g45)"/><rect x="534" y="4" width="8.6" height="596" fill="url(#g46)"/><rect x="542" y="4" width="8.6" height="596" fill="url(#g47)"/><rect x="550" y="4" width="8.6" height="596" fill="url(#g48)"/><rect x="558" y="4" width="8.6" height="596" fill="url(#g49)"/><rect x="566" y="4" width="8.6" height="596" fill="url(#g50)"/><rect x="574" y="4" width="8.6" height="596" fill="url(#g51)"/><rect x="582" y="4" width="8.6" height="596" fill="url(#g52)"/><rect x="590" y="4" width="8.6" height="596" fill="url(#g53)"/><rect x="598" y="4" width="8.6" height="596" fill="url(#g54)"/><rect x="606" y="4" width="8.6" height="596" fill="url(#g55)"/><rect x="614" y="4" width="8.6" height="596" fill="url(#g56)"/><rect x="622" y="4" width="8.6" height="596" fill="url(#g57)"/><rect x="630" y="4" width="8.6" height="596" fill="url(#g58)"/><rect x="638" y="4" width="8.6" height="596" fill="url(#g59)"/><rect x="646" y="4" width="8.6" height="596" fill="url(#g60)"/><rect x="654" y="4" width="8.6" height="596" fill="url(#g61)"/><rect x="662" y="4" width="8.6" height="596" fill="url(#g62)"/><rect x="670" y="4" width="8.6" height="596" fill="url(#g63)"/><rect x="678" y="4" width="8.6" height="596" fill="url(#g64)"/><rect x="686" y="4" width="8.6" height="596" fill="url(#g65)"/><rect x="694" y="4" width="8.6" height="596" fill="url(#g66)"/><rect x="702" y="4" width="8.6" height="596" fill="url(#g67)"/><rect x="710" y="4" width="8.6" height="596" fill="url(#g68)"/><rect x="718" y="4" width="8.6" height="596" fill="url(#g69)"/><rect x="726" y="4" width="8.6" height="596" fill="url(#g70)"/><rect x="734" y="4" width="8.6" height="596" fill="url(#g71)"/><rect x="742" y="4" width="8.6" height="596" fill="url(#g72)"/><rect x="750" y="4" width="8.6" height="596" fill="url(#g73)"/><rect x="758" y="4" width="8.6" height="596" fill="url(#g74)"/><rect x="766" y="4" width="8.6" height="596" fill="url(#g75)"/><rect x="774" y="4" width="8.6" height="596" fill="url(#g76)"/><rect x="782" y="4" width="8.6" height="596" fill="url(#g77)"/><rect x="790" y="4" width="8.6" height="596" fill="url(#g78)"/><rect x="798" y="4" width="8.6" height="596" fill="url(#g79)"/><rect x="806" y="4" width="8.6" height="596" fill="url(#g80)"/><rect x="814" y="4" width="8.6" height="596" fill="url(#g81)"/><rect x="822" y="4" width="8.6" height="596" fill="url(#g82)"/><rect x="830" y="4" width="8.6" height="596" fill="url(#g83)"/><rect x="838" y="4" width="8.6" height="596" fill="url(#g84)"/><rect x="846" y="4" width="8.6" height="596" fill="url(#g85)"/><rect x="854" y="4" width="8.6" height="596" fill="url(#g86)"/><rect x="862" y="4" width="8.6" height="596" fill="url(#g87)"/><rect x="870" y="4" width="8.6" height="596" fill="url(#g88)"/><rect x="878" y="4" width="8.6" height="596" fill="url(#g89)"/><rect x="886" y="4" width="8.6" height="596" fill="url(#g90)"/><rect x="894" y="4" width="8.6" height="596" fill="url(#g91)"/><rect x="902" y="4" width="8.6" height="596" fill="url(#g92)"/><rect x="910" y="4" width="8.6" height="596" fill="url(#g93)"/><rect x="918" y="4" width="8.6" height="596" fill="url(#g94)"/><rect x="926" y="4" width="8.6" height="596" fill="url(#g95)"/><rect x="934" y="4" width="8.6" height="596" fill="url(#g96)"/><rect x="942" y="4" width="8.6" height="596" fill="url(#g97)"/><rect x="950" y="4" width="8.6" height="596" fill="url(#g98)"/><rect x="958" y="4" width="8.6" height="596" fill="url(#g99)"/><rect x="966" y="4" width="8.6" height="596" fill="url(#g100)"/><rect x="974" y="4" width="8.6" height="596" fill="url(#g101)"/><rect x="982" y="4" width="8.6" height="596" fill="url(#g102)"/><rect x="990" y="4" width="8.6" height="596" fill="url(#g103)"/><rect x="998" y="4" width="8.6" height="596" fill="url(#g104)"/><rect x="1006" y="4" width="8.6" height="596" fill="url(#g105)"/><rect x="1014" y="4" width="8.6" height="596" fill="url(#g106)"/><rect x="1022" y="4" width="8.6" height="596" fill="url(#g107)"/><rect x="1030" y="4" width="8.6" height="596" fill="url(#g108)"/><rect x="1038" y="4" width="8.6" height="596" fill="url(#g109)"/><rect x="1046" y="4" width="8.6" height="596" fill="url(#g110)"/><rect x="1054" y="4" width="8.6" height="596" fill="url(#g111)"/><rect x="1062" y="4" width="8.6" height="596" fill="url(#g112)"/><rect x="1070" y="4" width="8.6" height="596" fill="url(#g113)"/><rect x="1078" y="4" width="8.6" height="596" fill="url(#g114)"/></g>
<g fill="none" stroke="#0c0c0c" stroke-width="1.4" stroke-linejoin="round"><path d="M278.2 197.5 L300.0 176.0 L326.0 150.0 L340.0 135.0"/><path d="M383.7 88.8 L440.0 47.5 L491.0 10.0"/><path d="M278.2 226.0 L300.0 212.5 L325.0 190.0 L357.5 150.0 L382.7 119.5 L440.0 82.5 L487.3 44.5 L550.0 10.0"/><path d="M173.6 416.0 L200.0 390.0 L215.0 365.0 L223.8 348.8"/><path d="M278.2 263.0 L310.0 240.0 L335.0 217.5 L360.0 187.5 L382.7 154.5 L440.0 110.0 L487.3 80.0 L591.9 21.0 L612.5 10.0"/><path d="M173.6 442.5 L197.5 425.0 L222.5 400.0 L242.5 365.0 L260.0 332.5 L272.5 310.0"/><path d="M279.5 300.0 L310.0 275.0 L340.0 246.0 L365.0 220.0 L382.7 198.8 L440.0 152.5 L487.3 121.8 L591.9 60.0 L696.5 12.0 L700.0 10.0"/><path d="M173.6 468.0 L199.8 450.8 L220.7 432.3 L236.4 416.3 L252.0 394.2 L264.6 372.1 L278.2 345.0 L314.5 315.0 L345.0 286.0 L382.7 245.0 L440.0 209.0 L487.3 172.0 L591.9 108.8 L696.5 60.0 L801.1 20.5 L807.5 18.0"/><path d="M173.6 497.0 L199.8 482.4 L220.7 466.7 L236.4 453.1 L252.0 434.3 L264.6 415.5 L278.2 392.5 L382.7 303.0 L440.0 267.0 L487.3 230.0 L591.9 175.7 L696.5 121.0 L801.1 80.5 L843.8 63.8"/><path d="M173.6 502.0 L199.8 488.1 L220.7 473.3 L236.4 460.4 L252.0 442.6 L264.6 424.8 L278.2 403.0 L382.7 316.7 L440.0 278.5 L487.3 245.0 L591.9 187.0 L696.5 136.0 L801.1 96.0 L852.5 76.2"/><path d="M173.6 507.0 L199.8 494.1 L220.7 480.3 L236.4 468.4 L252.0 451.8 L264.6 435.2 L278.2 415.0 L382.7 329.5 L440.0 293.0 L487.3 259.5 L591.9 204.7 L696.5 152.5 L801.1 112.0 L862.0 88.0"/><path d="M173.6 513.0 L199.8 500.8 L220.7 487.8 L236.4 476.5 L252.0 460.8 L264.6 445.1 L278.2 426.0 L382.7 343.0 L440.0 307.0 L487.3 275.0 L591.9 220.0 L696.5 167.5 L801.1 127.6 L871.8 100.5"/><path d="M173.6 518.5 L199.8 507.2 L220.7 495.0 L236.4 484.5 L252.0 469.9 L264.6 455.3 L278.2 437.5 L382.7 356.0 L440.0 323.7 L487.3 290.0 L591.9 234.0 L696.5 183.7 L801.1 144.0 L882.5 112.5"/><path d="M173.6 524.5 L199.8 514.1 L220.7 503.0 L236.4 493.4 L252.0 480.1 L264.6 466.8 L278.2 450.5 L382.7 369.0 L440.0 339.5 L487.3 308.0 L591.9 252.5 L696.5 203.5 L801.1 161.0 L893.0 128.8"/><path d="M173.6 530.5 L199.8 520.7 L220.7 510.2 L236.4 501.1 L252.0 488.5 L264.6 475.9 L278.2 460.5 L382.7 387.0 L440.0 356.7 L487.3 327.0 L591.9 272.0 L696.5 221.0 L801.1 182.7 L904.0 145.0"/><path d="M173.6 536.5 L199.8 527.6 L220.7 518.0 L236.4 509.7 L252.0 498.2 L264.6 486.7 L278.2 472.7 L382.7 404.0 L440.0 373.5 L487.3 347.0 L591.9 292.0 L696.5 239.5 L801.1 202.0 L916.0 161.0"/><path d="M173.6 544.0 L199.8 535.6 L220.7 526.6 L236.4 518.8 L252.0 508.0 L264.6 497.2 L278.2 484.0 L382.7 422.0 L440.0 390.0 L487.3 365.0 L591.9 311.7 L696.5 264.5 L801.1 226.7 L905.6 188.5 L927.5 180.5"/><path d="M173.6 552.0 L199.8 544.0 L220.7 535.5 L236.4 528.1 L252.0 517.8 L264.6 507.5 L278.2 495.0 L330.0 473.0 L382.7 443.0 L440.0 412.0 L487.3 386.5 L591.9 335.0 L696.5 288.0 L801.1 251.0 L905.6 214.5 L941.0 202.0"/><path d="M961.8 236.0 L905.6 255.7 L801.1 291.0 L696.5 327.0 L591.9 370.7 L487.3 420.0 L382.7 468.3 L330.0 494.0 L287.7 510.5 L278.2 513.5 L255.0 533.0 L235.0 544.0 L200.0 563.8"/><path d="M200.0 563.8 L260.0 566.5"/><path d="M969.5 251.0 L905.6 272.0 L801.1 305.3 L696.5 343.0 L591.9 382.7 L487.3 433.0 L382.7 476.5 L330.0 501.5 L287.7 518.0 L278.2 521.0 L255.0 542.0 L243.0 548.0 L228.0 563.8"/><path d="M228.0 563.8 L280.0 565.5"/><path d="M977.5 267.0 L905.6 288.3 L801.1 321.0 L696.5 359.0 L591.9 399.2 L487.3 446.0 L382.7 485.0 L330.0 511.0 L287.7 527.0 L278.2 530.0 L258.0 547.0 L258.0 563.8"/><path d="M258.0 563.8 L300.0 564.8"/><path d="M987.0 281.8 L905.6 305.2 L801.1 340.0 L696.5 375.5 L591.9 417.0 L487.3 459.0 L382.7 494.5 L322.0 523.0 L280.0 541.0 L272.0 548.5"/><path d="M272.0 548.5 L275.0 556.0 L287.7 559.0 L349.0 562.7"/><path d="M995.0 297.5 L905.6 324.0 L801.1 358.0 L696.5 391.5 L591.9 436.8 L487.3 472.0 L382.7 508.0 L366.8 518.0 L362.0 520.0 L332.0 535.5 L311.5 548.0"/><path d="M311.5 548.0 L349.0 553.0"/><path d="M1005.0 317.0 L905.6 347.0 L801.1 379.0 L696.5 416.0 L631.0 443.0 L591.9 456.0 L487.3 485.7 L440.0 502.0 L384.7 523.0 L369.5 533.0 L369.5 547.5"/><path d="M369.5 547.5 L385.0 549.5 L430.0 550.5"/><path d="M1015.0 341.0 L905.6 365.0 L801.1 402.0 L696.5 443.5 L591.9 476.7 L570.0 482.0 L487.4 502.2 L457.0 515.0 L435.7 531.8"/><path d="M435.7 531.8 L450.0 536.5 L480.0 541.0"/><path d="M1025.5 363.8 L910.0 390.0 L801.1 438.0 L745.0 459.0 L696.5 470.5 L591.9 493.0 L563.5 500.0 L538.0 515.7"/><path d="M538.0 515.7 L571.0 532.2"/><path d="M1036.3 388.0 L1025.0 392.5 L1000.0 412.5 L975.0 426.0 L950.0 437.0 L905.6 451.0 L848.0 468.0 L801.1 478.0 L696.5 496.0 L682.7 500.7"/><path d="M682.7 500.7 L704.0 513.5 L739.0 517.0"/></g>
<g fill="none" stroke="#050510" stroke-width="1.0" shape-rendering="crispEdges"><path d="M173.6 594.5 L200.0 594.5 L250.0 594.5 L260.0 594.5 L300.0 594.5 L349.0 594.4 L350.0 594.4 L400.0 594.3 L440.0 594.3 L450.0 594.3 L500.0 594.2 L503.0 594.2 L550.0 594.2 L560.0 594.2 L600.0 594.1 L610.0 594.1 L650.0 594.1 L700.0 594.1 L750.0 594.1 L800.0 594.1 L850.0 594.0 L870.0 594.0 L900.0 594.0 L950.0 594.0 L1000.0 593.9 L1050.0 593.9 L1078.5 593.9"/><path d="M173.6 592.6 L200.0 592.6 L250.0 592.6 L260.0 592.6 L300.0 592.6 L349.0 592.5 L350.0 592.5 L400.0 592.4 L440.0 592.2 L450.0 592.2 L500.0 592.1 L503.0 592.1 L550.0 592.0 L560.0 592.0 L600.0 592.0 L610.0 592.0 L650.0 592.0 L700.0 591.9 L750.0 591.9 L800.0 591.9 L850.0 591.8 L870.0 591.7 L900.0 591.7 L950.0 591.6 L1000.0 591.6 L1050.0 591.6 L1078.5 591.6"/><path d="M173.6 590.8 L200.0 590.8 L250.0 590.8 L260.0 590.8 L300.0 590.8 L349.0 590.6 L350.0 590.6 L400.0 590.4 L440.0 590.2 L450.0 590.2 L500.0 590.0 L503.0 590.0 L550.0 589.9 L560.0 589.9 L600.0 589.8 L610.0 589.8 L650.0 589.8 L700.0 589.8 L750.0 589.7 L800.0 589.7 L850.0 589.5 L870.0 589.4 L900.0 589.4 L950.0 589.3 L1000.0 589.2 L1050.0 589.2 L1078.5 589.2"/><path d="M173.6 589.0 L200.0 589.0 L250.0 589.0 L260.0 589.0 L300.0 589.0 L349.0 588.7 L350.0 588.7 L400.0 588.4 L440.0 588.2 L450.0 588.1 L500.0 587.9 L503.0 587.9 L550.0 587.8 L560.0 587.7 L600.0 587.6 L610.0 587.6 L650.0 587.6 L700.0 587.6 L750.0 587.5 L800.0 587.5 L850.0 587.2 L870.0 587.1 L900.0 587.1 L950.0 587.0 L1000.0 586.8 L1050.0 586.8 L1078.5 586.8"/><path d="M173.6 587.1 L200.0 587.1 L250.0 587.1 L260.0 587.1 L300.0 587.1 L349.0 586.8 L350.0 586.8 L400.0 586.4 L440.0 586.2 L450.0 586.1 L500.0 585.8 L503.0 585.8 L550.0 585.6 L560.0 585.6 L600.0 585.5 L610.0 585.5 L650.0 585.4 L700.0 585.4 L750.0 585.4 L800.0 585.3 L850.0 585.0 L870.0 584.8 L900.0 584.8 L950.0 584.6 L1000.0 584.5 L1050.0 584.5 L1078.5 584.5"/><path d="M173.6 585.3 L200.0 585.3 L250.0 585.3 L260.0 585.3 L300.0 585.3 L349.0 584.9 L350.0 584.9 L400.0 584.5 L440.0 584.1 L450.0 584.1 L500.0 583.7 L503.0 583.6 L550.0 583.5 L560.0 583.4 L600.0 583.3 L610.0 583.3 L650.0 583.3 L700.0 583.2 L750.0 583.2 L800.0 583.1 L850.0 582.7 L870.0 582.5 L900.0 582.4 L950.0 582.3 L1000.0 582.1 L1050.0 582.1 L1078.5 582.1"/><path d="M173.6 583.5 L200.0 583.5 L250.0 583.5 L260.0 583.5 L300.0 583.5 L349.0 583.0 L350.0 583.0 L400.0 582.5 L440.0 582.1 L450.0 582.0 L500.0 581.5 L503.0 581.5 L550.0 581.3 L560.0 581.3 L600.0 581.1 L610.0 581.1 L650.0 581.1 L700.0 581.0 L750.0 581.0 L800.0 580.9 L850.0 579.7 L870.0 579.0 L900.0 578.6 L950.0 578.0 L1000.0 577.4 L1050.0 577.2 L1078.5 577.1"/><path d="M260.0 566.5 L349.0 567.5 L440.0 568.0 L503.0 567.5 L560.0 566.0 L610.0 564.5 L800.0 562.0 L1000.0 560.2 L1078.5 558.5"/><path d="M280.0 565.5 L349.0 566.5 L440.0 567.0 L503.0 566.3 L560.0 564.3 L610.0 562.2 L800.0 559.8 L1000.0 558.0 L1078.5 556.0"/><path d="M300.0 564.8 L349.0 565.5 L440.0 565.0 L503.0 564.5 L560.0 562.3 L610.0 560.0 L800.0 557.3 L1000.0 555.0 L1078.5 553.0"/><path d="M349.0 562.7 L400.0 562.0 L440.0 561.0 L503.0 559.5 L610.0 557.7 L1000.0 552.0 L1078.5 550.0"/><path d="M349.0 553.0 L400.0 554.5 L440.0 555.3 L503.0 555.0 L610.0 554.7 L1000.0 548.2 L1078.5 546.0"/><path d="M430.0 550.5 L467.0 551.0 L610.0 550.2 L1000.0 543.7 L1078.5 541.5"/><path d="M480.0 541.0 L514.0 543.5 L610.0 543.5 L1000.0 537.7 L1078.5 535.5"/><path d="M571.0 532.2 L610.0 533.0 L1000.0 531.7 L1078.5 529.0"/><path d="M739.0 517.0 L900.0 519.5 L1000.0 519.7 L1078.5 517.5"/></g>
<g fill="none" stroke="#050510" stroke-width="1.0" stroke-opacity="0.72" shape-rendering="crispEdges"><path d="M173.6 583.1 L200.0 583.1 L250.0 583.1 L260.0 583.1 L300.0 583.1 L349.0 582.6 L350.0 582.6 L400.0 582.1 L440.0 581.7 L450.0 581.6 L500.0 581.1 L503.0 581.1 L550.0 580.9 L560.0 580.9 L600.0 580.7 L610.0 580.7 L650.0 580.5 L700.0 580.3 L750.0 580.0 L800.0 579.8 L850.0 578.0 L870.0 577.3 L900.0 577.0 L950.0 576.4 L1000.0 575.8 L1050.0 575.5 L1078.5 575.4"/><path d="M173.6 582.7 L200.0 582.7 L250.0 582.7 L260.0 582.7 L300.0 582.7 L349.0 582.2 L350.0 582.2 L400.0 581.7 L440.0 581.3 L450.0 581.2 L500.0 580.7 L503.0 580.7 L550.0 579.9 L560.0 579.7 L600.0 579.0 L610.0 579.0 L650.0 578.7 L700.0 578.5 L750.0 578.2 L800.0 577.9 L850.0 576.3 L870.0 575.7 L900.0 575.3 L950.0 574.7 L1000.0 574.1 L1050.0 573.8 L1078.5 573.6"/><path d="M173.6 582.4 L200.0 582.4 L250.0 582.4 L260.0 582.4 L300.0 582.4 L349.0 581.9 L350.0 581.8 L400.0 581.3 L440.0 580.9 L450.0 580.8 L500.0 579.1 L503.0 579.1 L550.0 578.3 L560.0 578.1 L600.0 577.4 L610.0 577.3 L650.0 577.0 L700.0 576.7 L750.0 576.4 L800.0 576.0 L850.0 574.5 L870.0 574.0 L900.0 573.6 L950.0 573.1 L1000.0 572.5 L1050.0 572.1 L1078.5 571.8"/><path d="M173.6 582.0 L200.0 582.0 L250.0 582.0 L260.0 582.0 L300.0 582.0 L349.0 581.5 L350.0 581.5 L400.0 580.9 L440.0 579.8 L450.0 579.4 L500.0 577.6 L503.0 577.6 L550.0 576.7 L560.0 576.5 L600.0 575.7 L610.0 575.6 L650.0 575.3 L700.0 574.9 L750.0 574.5 L800.0 574.2 L850.0 572.8 L870.0 572.3 L900.0 572.0 L950.0 571.4 L1000.0 570.9 L1050.0 570.3 L1078.5 570.0"/><path d="M173.6 581.6 L200.0 581.6 L250.0 581.6 L260.0 581.6 L300.0 581.6 L349.0 581.1 L350.0 581.1 L400.0 579.6 L440.0 578.0 L450.0 577.6 L500.0 576.0 L503.0 576.0 L550.0 575.1 L560.0 574.9 L600.0 574.0 L610.0 573.9 L650.0 573.5 L700.0 573.1 L750.0 572.7 L800.0 572.3 L850.0 571.1 L870.0 570.6 L900.0 570.3 L950.0 569.8 L1000.0 569.2 L1050.0 568.6 L1078.5 568.3"/><path d="M173.6 581.3 L200.0 581.3 L250.0 581.3 L260.0 581.3 L300.0 581.3 L349.0 580.7 L350.0 580.7 L400.0 577.5 L440.0 576.2 L450.0 575.9 L500.0 574.5 L503.0 574.5 L550.0 573.5 L560.0 573.3 L600.0 572.3 L610.0 572.2 L650.0 571.8 L700.0 571.3 L750.0 570.9 L800.0 570.4 L850.0 569.3 L870.0 568.9 L900.0 568.6 L950.0 568.1 L1000.0 567.6 L1050.0 566.9 L1078.5 566.5"/><path d="M173.6 580.9 L200.0 580.9 L250.0 580.9 L260.0 580.9 L300.0 580.9 L349.0 577.8 L350.0 577.8 L400.0 575.3 L440.0 574.4 L450.0 574.1 L500.0 572.9 L503.0 572.9 L550.0 571.9 L560.0 571.7 L600.0 570.7 L610.0 570.5 L650.0 570.1 L700.0 569.6 L750.0 569.1 L800.0 568.5 L850.0 567.6 L870.0 567.3 L900.0 566.9 L950.0 566.4 L1000.0 565.9 L1050.0 565.2 L1078.5 564.7"/><path d="M173.6 577.6 L200.0 577.9 L250.0 578.3 L260.0 578.3 L300.0 578.4 L349.0 574.9 L350.0 574.8 L400.0 573.2 L440.0 572.5 L450.0 572.3 L500.0 571.4 L503.0 571.4 L550.0 570.3 L560.0 570.0 L600.0 569.0 L610.0 568.8 L650.0 568.3 L700.0 567.8 L750.0 567.2 L800.0 566.7 L850.0 565.9 L870.0 565.6 L900.0 565.3 L950.0 564.8 L1000.0 564.3 L1050.0 563.4 L1078.5 562.9"/><path d="M173.6 571.3 L200.0 572.2 L250.0 573.4 L260.0 573.6 L300.0 573.8 L349.0 571.9 L350.0 571.9 L400.0 571.0 L440.0 570.7 L450.0 570.6 L500.0 569.8 L503.0 569.8 L550.0 568.7 L560.0 568.4 L600.0 567.3 L610.0 567.1 L650.0 566.6 L700.0 566.0 L750.0 565.4 L800.0 564.8 L850.0 564.1 L870.0 563.9 L900.0 563.6 L950.0 563.1 L1000.0 562.7 L1050.0 561.7 L1078.5 561.2"/></g>
<g fill="none" stroke="#050510" stroke-width="1.0" stroke-opacity="0.45" shape-rendering="crispEdges"><path d="M173.6 593.5 L200.0 593.5 L250.0 593.5 L260.0 593.5 L300.0 593.5 L349.0 593.4 L350.0 593.4 L400.0 593.3 L440.0 593.3 L450.0 593.2 L500.0 593.1 L503.0 593.1 L550.0 593.1 L560.0 593.1 L600.0 593.0 L610.0 593.0 L650.0 593.0 L700.0 593.0 L750.0 593.0 L800.0 593.0 L850.0 592.9 L870.0 592.9 L900.0 592.8 L950.0 592.8 L1000.0 592.8 L1050.0 592.8 L1078.5 592.8"/><path d="M173.6 591.7 L200.0 591.7 L250.0 591.7 L260.0 591.7 L300.0 591.7 L349.0 591.5 L350.0 591.5 L400.0 591.4 L440.0 591.2 L450.0 591.2 L500.0 591.0 L503.0 591.0 L550.0 591.0 L560.0 590.9 L600.0 590.9 L610.0 590.9 L650.0 590.9 L700.0 590.8 L750.0 590.8 L800.0 590.8 L850.0 590.6 L870.0 590.6 L900.0 590.5 L950.0 590.5 L1000.0 590.4 L1050.0 590.4 L1078.5 590.4"/><path d="M173.6 589.9 L200.0 589.9 L250.0 589.9 L260.0 589.9 L300.0 589.9 L349.0 589.6 L350.0 589.6 L400.0 589.4 L440.0 589.2 L450.0 589.2 L500.0 588.9 L503.0 588.9 L550.0 588.8 L560.0 588.8 L600.0 588.7 L610.0 588.7 L650.0 588.7 L700.0 588.7 L750.0 588.6 L800.0 588.6 L850.0 588.4 L870.0 588.3 L900.0 588.2 L950.0 588.1 L1000.0 588.0 L1050.0 588.0 L1078.5 588.0"/><path d="M173.6 588.0 L200.0 588.0 L250.0 588.0 L260.0 588.0 L300.0 588.0 L349.0 587.7 L350.0 587.7 L400.0 587.4 L440.0 587.2 L450.0 587.1 L500.0 586.8 L503.0 586.8 L550.0 586.7 L560.0 586.7 L600.0 586.5 L610.0 586.5 L650.0 586.5 L700.0 586.5 L750.0 586.4 L800.0 586.4 L850.0 586.1 L870.0 586.0 L900.0 585.9 L950.0 585.8 L1000.0 585.7 L1050.0 585.7 L1078.5 585.7"/><path d="M173.6 586.2 L200.0 586.2 L250.0 586.2 L260.0 586.2 L300.0 586.2 L349.0 585.8 L350.0 585.8 L400.0 585.4 L440.0 585.2 L450.0 585.1 L500.0 584.7 L503.0 584.7 L550.0 584.5 L560.0 584.5 L600.0 584.4 L610.0 584.4 L650.0 584.3 L700.0 584.3 L750.0 584.3 L800.0 584.2 L850.0 583.8 L870.0 583.7 L900.0 583.6 L950.0 583.4 L1000.0 583.3 L1050.0 583.3 L1078.5 583.3"/><path d="M173.6 584.4 L200.0 584.4 L250.0 584.4 L260.0 584.4 L300.0 584.4 L349.0 583.9 L350.0 583.9 L400.0 583.5 L440.0 583.1 L450.0 583.0 L500.0 582.6 L503.0 582.6 L550.0 582.4 L560.0 582.4 L600.0 582.2 L610.0 582.2 L650.0 582.2 L700.0 582.1 L750.0 582.1 L800.0 582.0 L850.0 581.6 L870.0 581.4 L900.0 581.3 L950.0 581.1 L1000.0 580.9 L1050.0 580.9 L1078.5 580.9"/></g></g>
<g font-size="11.5" fill="#0c0c0c" fill-opacity="0.88" text-anchor="middle"><text x="358.8" y="151.5">2.707 E-1</text><text x="435.0" y="121.5">3.61 E-1</text><text x="397.5" y="194.0">4.512 E-1</text><text x="343.0" y="295.0">5.415 E-1</text><text x="360.0" y="333.5">6.317 E-1</text><text x="486.0" y="249.0">6.498 E-1</text><text x="565.0" y="221.0">6.678 E-1</text><text x="372.0" y="359.5">6.858 E-1</text><text x="510.0" y="282.0">7.039 E-1</text><text x="590.0" y="254.8">7.218 E-1</text><text x="480.5" y="333.7">7.4 E-1</text><text x="396.7" y="400.7">7.58 E-1</text><text x="648.8" y="290.0">7.761 E-1</text><text x="414.7" y="430.0">7.941 E-1</text><text x="388.5" y="469.5">8.212 E-1</text><text x="530.7" y="419.0">8.302 E-1</text><text x="306.4" y="524.0">8.393 E-1</text><text x="355.0" y="565.0">8.483 E-1</text><text x="631.0" y="447.0">8.663 E-1</text><text x="570.0" y="486.0">8.754 E-1</text><text x="745.0" y="463.0">8.844 E-1</text><text x="847.0" y="471.5">8.934 E-1</text><text x="600.0" y="586.0">6.317 E-1</text><text x="775.0" y="586.0">5.415 E-1</text></g>
<g fill="#161616"><circle cx="367.7" cy="518.6" r="5.2"/><circle cx="427.4" cy="518.6" r="5.2"/><circle cx="487.2" cy="502.9" r="5.2"/><circle cx="547.0" cy="502.9" r="5.2"/><circle cx="606.7" cy="440.5" r="5.2"/><circle cx="666.5" cy="440.5" r="5.2"/><circle cx="726.3" cy="440.5" r="5.2"/><circle cx="786.0" cy="456.1" r="5.2"/><circle cx="845.8" cy="456.1" r="5.2"/><circle cx="905.6" cy="502.9" r="5.2"/><circle cx="965.4" cy="502.9" r="5.2"/><circle cx="1025.1" cy="518.6" r="5.2"/></g>
<g stroke="#2a2a2a" fill="none"><path d="M68.2 10.5H1078 V597" stroke-width="1.4"/><path d="M66.8 9.8V598" stroke-width="2"/><path d="M65.8 597.2H1079" stroke-width="2"/><path d="M68.7 10V597" stroke-width="0.8"/></g>
<g stroke="#222" stroke-width="1.2"><path d="M68.8 597V603.3"/><path d="M218.2 597V603.3"/><path d="M367.7 597V603.3"/><path d="M517.1 597V603.3"/><path d="M666.5 597V603.3"/><path d="M815.9 597V603.3"/><path d="M965.4 597V603.3"/><path d="M61.5 596.6H66"/><path d="M61.5 518.6H66"/><path d="M61.5 440.5H66"/><path d="M61.5 362.5H66"/><path d="M61.5 284.4H66"/><path d="M61.5 206.4H66"/><path d="M61.5 128.3H66"/><path d="M61.5 50.2H66"/></g>
<g font-size="12.4" fill="#262626">
<text x="68.8" y="617.8" text-anchor="middle">0</text>
<text x="218.2" y="617.8" text-anchor="middle">250</text>
<text x="367.7" y="617.8" text-anchor="middle">500</text>
<text x="517.1" y="617.8" text-anchor="middle">750</text>
<text x="666.5" y="617.8" text-anchor="middle">1000</text>
<text x="815.9" y="617.8" text-anchor="middle">1250</text>
<text x="965.4" y="617.8" text-anchor="middle">1500</text>
<text x="58.8" y="601.0" text-anchor="end">0.0</text>
<text x="58.8" y="523.0" text-anchor="end">2.5</text>
<text x="58.8" y="444.9" text-anchor="end">5.0</text>
<text x="58.8" y="366.9" text-anchor="end">7.5</text>
<text x="58.8" y="288.8" text-anchor="end">10.0</text>
<text x="58.8" y="210.8" text-anchor="end">12.5</text>
<text x="58.8" y="132.7" text-anchor="end">15.0</text>
<text x="58.8" y="54.6" text-anchor="end">17.5</text>
</g>
<text x="572.8" y="646.7" font-size="19.4" fill="#262626" text-anchor="middle">Speed (rpm)</text>
<text transform="translate(25.0 303) rotate(-90)" font-size="19.7" fill="#262626" text-anchor="middle">Mechanical torque (N.m)</text>
<rect x="1090" y="11" width="124" height="591" fill="#fff"/>
<rect x="1158" y="28.8" width="17" height="556.8" fill="url(#cb)"/>
<g stroke="#1a1a1a" stroke-width="1.15">
<path d="M1158 28.8H1175"/>
<path d="M1158 79.6H1175"/>
<path d="M1158 129.0H1175"/>
<path d="M1158 178.4H1175"/>
<path d="M1158 233.9H1175"/>
<path d="M1158 283.3H1175"/>
<path d="M1158 332.6H1175"/>
<path d="M1158 382.0H1175"/>
<path d="M1158 431.3H1175"/>
<path d="M1158 486.9H1175"/>
<path d="M1158 536.2H1175"/>
<path d="M1158 585.6H1175"/>
</g><g font-size="11.9" fill="#262626" text-anchor="end">
<text x="1151.3" y="33.1">9.024E-1</text>
<text x="1151.3" y="83.9">8.200E-1</text>
<text x="1151.3" y="133.3">7.400E-1</text>
<text x="1151.3" y="182.7">6.600E-1</text>
<text x="1151.3" y="238.2">5.700E-1</text>
<text x="1151.3" y="287.6">4.900E-1</text>
<text x="1151.3" y="336.9">4.100E-1</text>
<text x="1151.3" y="386.3">3.300E-1</text>
<text x="1151.3" y="435.6">2.500E-1</text>
<text x="1151.3" y="491.2">1.600E-1</text>
<text x="1151.3" y="540.5">8.000E-2</text>
<text x="1151.3" y="589.9">0.000E+0</text>
</g>
<text transform="translate(1199.4 307.6) rotate(-90)" font-size="19.25" fill="#262626" text-anchor="middle">System total efficiency</text>
</svg></body></html>
